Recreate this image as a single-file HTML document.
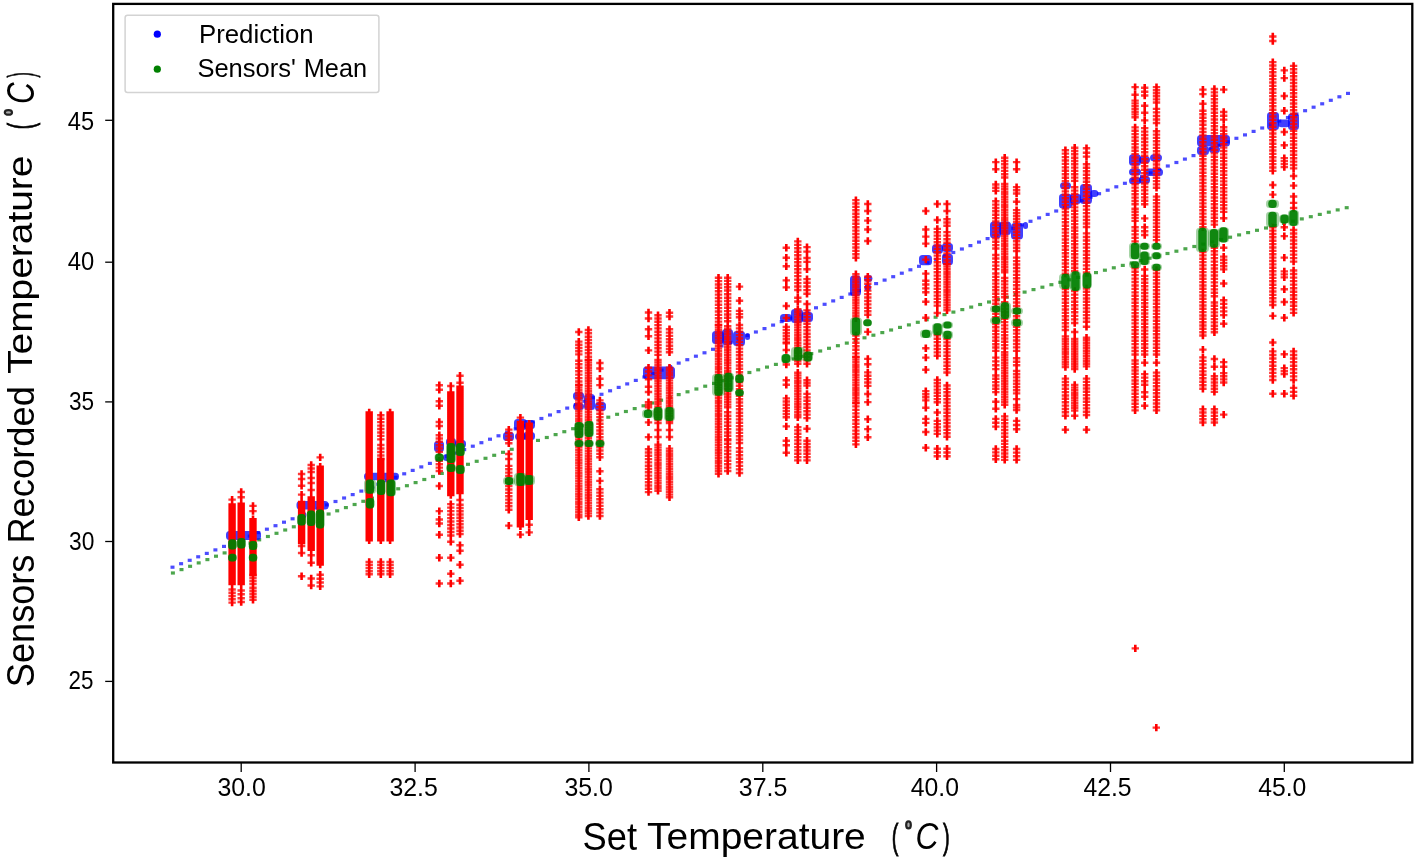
<!DOCTYPE html>
<html><head><meta charset="utf-8"><style>html,body{margin:0;padding:0;background:#fff;overflow:hidden}svg{display:block}</style></head>
<body><svg width="1416" height="861" viewBox="0 0 1416 861">
<defs><filter id="bl" x="-5%" y="-5%" width="110%" height="110%"><feGaussianBlur stdDeviation="0.7"/></filter><filter id="bt" x="-2%" y="-2%" width="104%" height="104%"><feGaussianBlur stdDeviation="0.45"/></filter></defs>
<rect width="1416" height="861" fill="#fff"/>
<g filter="url(#bl)">
<g fill="#0000ff" fill-opacity="0.7"><rect x="170.5" y="565.6" width="4.0" height="3.2"/><rect x="179.1" y="562.1" width="4.0" height="3.2"/><rect x="187.7" y="558.7" width="4.0" height="3.2"/><rect x="196.2" y="555.2" width="4.0" height="3.2"/><rect x="204.8" y="551.8" width="4.0" height="3.2"/><rect x="213.4" y="548.3" width="4.0" height="3.2"/><rect x="222.0" y="544.8" width="4.0" height="3.2"/><rect x="230.6" y="541.4" width="4.0" height="3.2"/><rect x="239.1" y="537.9" width="4.0" height="3.2"/><rect x="247.7" y="534.5" width="4.0" height="3.2"/><rect x="256.3" y="531.0" width="4.0" height="3.2"/><rect x="264.9" y="527.6" width="4.0" height="3.2"/><rect x="273.5" y="524.1" width="4.0" height="3.2"/><rect x="282.0" y="520.6" width="4.0" height="3.2"/><rect x="290.6" y="517.2" width="4.0" height="3.2"/><rect x="299.2" y="513.7" width="4.0" height="3.2"/><rect x="307.8" y="510.3" width="4.0" height="3.2"/><rect x="316.4" y="506.8" width="4.0" height="3.2"/><rect x="324.9" y="503.3" width="4.0" height="3.2"/><rect x="333.5" y="499.9" width="4.0" height="3.2"/><rect x="342.1" y="496.4" width="4.0" height="3.2"/><rect x="350.7" y="493.0" width="4.0" height="3.2"/><rect x="359.3" y="489.5" width="4.0" height="3.2"/><rect x="367.8" y="486.1" width="4.0" height="3.2"/><rect x="376.4" y="482.6" width="4.0" height="3.2"/><rect x="385.0" y="479.1" width="4.0" height="3.2"/><rect x="393.6" y="475.7" width="4.0" height="3.2"/><rect x="402.2" y="472.2" width="4.0" height="3.2"/><rect x="410.7" y="468.8" width="4.0" height="3.2"/><rect x="419.3" y="465.3" width="4.0" height="3.2"/><rect x="427.9" y="461.8" width="4.0" height="3.2"/><rect x="436.5" y="458.4" width="4.0" height="3.2"/><rect x="445.1" y="454.9" width="4.0" height="3.2"/><rect x="453.6" y="451.5" width="4.0" height="3.2"/><rect x="462.2" y="448.0" width="4.0" height="3.2"/><rect x="470.8" y="444.6" width="4.0" height="3.2"/><rect x="479.4" y="441.1" width="4.0" height="3.2"/><rect x="488.0" y="437.6" width="4.0" height="3.2"/><rect x="496.5" y="434.2" width="4.0" height="3.2"/><rect x="505.1" y="430.7" width="4.0" height="3.2"/><rect x="513.7" y="427.3" width="4.0" height="3.2"/><rect x="522.3" y="423.8" width="4.0" height="3.2"/><rect x="530.9" y="420.3" width="4.0" height="3.2"/><rect x="539.4" y="416.9" width="4.0" height="3.2"/><rect x="548.0" y="413.4" width="4.0" height="3.2"/><rect x="556.6" y="410.0" width="4.0" height="3.2"/><rect x="565.2" y="406.5" width="4.0" height="3.2"/><rect x="573.8" y="403.0" width="4.0" height="3.2"/><rect x="582.3" y="399.6" width="4.0" height="3.2"/><rect x="590.9" y="396.1" width="4.0" height="3.2"/><rect x="599.5" y="392.7" width="4.0" height="3.2"/><rect x="608.1" y="389.2" width="4.0" height="3.2"/><rect x="616.7" y="385.8" width="4.0" height="3.2"/><rect x="625.2" y="382.3" width="4.0" height="3.2"/><rect x="633.8" y="378.8" width="4.0" height="3.2"/><rect x="642.4" y="375.4" width="4.0" height="3.2"/><rect x="651.0" y="371.9" width="4.0" height="3.2"/><rect x="659.6" y="368.5" width="4.0" height="3.2"/><rect x="668.1" y="365.0" width="4.0" height="3.2"/><rect x="676.7" y="361.5" width="4.0" height="3.2"/><rect x="685.3" y="358.1" width="4.0" height="3.2"/><rect x="693.9" y="354.6" width="4.0" height="3.2"/><rect x="702.5" y="351.2" width="4.0" height="3.2"/><rect x="711.0" y="347.7" width="4.0" height="3.2"/><rect x="719.6" y="344.3" width="4.0" height="3.2"/><rect x="728.2" y="340.8" width="4.0" height="3.2"/><rect x="736.8" y="337.3" width="4.0" height="3.2"/><rect x="745.4" y="333.9" width="4.0" height="3.2"/><rect x="753.9" y="330.4" width="4.0" height="3.2"/><rect x="762.5" y="327.0" width="4.0" height="3.2"/><rect x="771.1" y="323.5" width="4.0" height="3.2"/><rect x="779.7" y="320.0" width="4.0" height="3.2"/><rect x="788.3" y="316.6" width="4.0" height="3.2"/><rect x="796.8" y="313.1" width="4.0" height="3.2"/><rect x="805.4" y="309.7" width="4.0" height="3.2"/><rect x="814.0" y="306.2" width="4.0" height="3.2"/><rect x="822.6" y="302.7" width="4.0" height="3.2"/><rect x="831.2" y="299.3" width="4.0" height="3.2"/><rect x="839.7" y="295.8" width="4.0" height="3.2"/><rect x="848.3" y="292.4" width="4.0" height="3.2"/><rect x="856.9" y="288.9" width="4.0" height="3.2"/><rect x="865.5" y="285.5" width="4.0" height="3.2"/><rect x="874.1" y="282.0" width="4.0" height="3.2"/><rect x="882.6" y="278.5" width="4.0" height="3.2"/><rect x="891.2" y="275.1" width="4.0" height="3.2"/><rect x="899.8" y="271.6" width="4.0" height="3.2"/><rect x="908.4" y="268.2" width="4.0" height="3.2"/><rect x="917.0" y="264.7" width="4.0" height="3.2"/><rect x="925.5" y="261.2" width="4.0" height="3.2"/><rect x="934.1" y="257.8" width="4.0" height="3.2"/><rect x="942.7" y="254.3" width="4.0" height="3.2"/><rect x="951.3" y="250.9" width="4.0" height="3.2"/><rect x="959.9" y="247.4" width="4.0" height="3.2"/><rect x="968.4" y="244.0" width="4.0" height="3.2"/><rect x="977.0" y="240.5" width="4.0" height="3.2"/><rect x="985.6" y="237.0" width="4.0" height="3.2"/><rect x="994.2" y="233.6" width="4.0" height="3.2"/><rect x="1002.8" y="230.1" width="4.0" height="3.2"/><rect x="1011.3" y="226.7" width="4.0" height="3.2"/><rect x="1019.9" y="223.2" width="4.0" height="3.2"/><rect x="1028.5" y="219.7" width="4.0" height="3.2"/><rect x="1037.1" y="216.3" width="4.0" height="3.2"/><rect x="1045.7" y="212.8" width="4.0" height="3.2"/><rect x="1054.2" y="209.4" width="4.0" height="3.2"/><rect x="1062.8" y="205.9" width="4.0" height="3.2"/><rect x="1071.4" y="202.5" width="4.0" height="3.2"/><rect x="1080.0" y="199.0" width="4.0" height="3.2"/><rect x="1088.6" y="195.5" width="4.0" height="3.2"/><rect x="1097.1" y="192.1" width="4.0" height="3.2"/><rect x="1105.7" y="188.6" width="4.0" height="3.2"/><rect x="1114.3" y="185.2" width="4.0" height="3.2"/><rect x="1122.9" y="181.7" width="4.0" height="3.2"/><rect x="1131.5" y="178.2" width="4.0" height="3.2"/><rect x="1140.0" y="174.8" width="4.0" height="3.2"/><rect x="1148.6" y="171.3" width="4.0" height="3.2"/><rect x="1157.2" y="167.9" width="4.0" height="3.2"/><rect x="1165.8" y="164.4" width="4.0" height="3.2"/><rect x="1174.4" y="160.9" width="4.0" height="3.2"/><rect x="1182.9" y="157.5" width="4.0" height="3.2"/><rect x="1191.5" y="154.0" width="4.0" height="3.2"/><rect x="1200.1" y="150.6" width="4.0" height="3.2"/><rect x="1208.7" y="147.1" width="4.0" height="3.2"/><rect x="1217.3" y="143.7" width="4.0" height="3.2"/><rect x="1225.8" y="140.2" width="4.0" height="3.2"/><rect x="1234.4" y="136.7" width="4.0" height="3.2"/><rect x="1243.0" y="133.3" width="4.0" height="3.2"/><rect x="1251.6" y="129.8" width="4.0" height="3.2"/><rect x="1260.2" y="126.4" width="4.0" height="3.2"/><rect x="1268.7" y="122.9" width="4.0" height="3.2"/><rect x="1277.3" y="119.4" width="4.0" height="3.2"/><rect x="1285.9" y="116.0" width="4.0" height="3.2"/><rect x="1294.5" y="112.5" width="4.0" height="3.2"/><rect x="1303.1" y="109.1" width="4.0" height="3.2"/><rect x="1311.6" y="105.6" width="4.0" height="3.2"/><rect x="1320.2" y="102.2" width="4.0" height="3.2"/><rect x="1328.8" y="98.7" width="4.0" height="3.2"/><rect x="1337.4" y="95.2" width="4.0" height="3.2"/><rect x="1346.0" y="91.8" width="4.0" height="3.2"/></g>
<g fill="#008000" fill-opacity="0.7"><rect x="170.9" y="571.4" width="4.0" height="3.2"/><rect x="179.5" y="568.0" width="4.0" height="3.2"/><rect x="188.1" y="564.7" width="4.0" height="3.2"/><rect x="196.7" y="561.3" width="4.0" height="3.2"/><rect x="205.4" y="558.0" width="4.0" height="3.2"/><rect x="214.0" y="554.6" width="4.0" height="3.2"/><rect x="222.6" y="551.3" width="4.0" height="3.2"/><rect x="231.3" y="548.0" width="4.0" height="3.2"/><rect x="239.9" y="544.7" width="4.0" height="3.2"/><rect x="248.5" y="541.4" width="4.0" height="3.2"/><rect x="257.2" y="538.2" width="4.0" height="3.2"/><rect x="265.9" y="534.9" width="4.0" height="3.2"/><rect x="274.5" y="531.7" width="4.0" height="3.2"/><rect x="283.2" y="528.4" width="4.0" height="3.2"/><rect x="291.8" y="525.2" width="4.0" height="3.2"/><rect x="300.5" y="522.0" width="4.0" height="3.2"/><rect x="309.2" y="518.7" width="4.0" height="3.2"/><rect x="317.9" y="515.5" width="4.0" height="3.2"/><rect x="326.6" y="512.4" width="4.0" height="3.2"/><rect x="335.2" y="509.2" width="4.0" height="3.2"/><rect x="343.9" y="506.0" width="4.0" height="3.2"/><rect x="352.6" y="502.9" width="4.0" height="3.2"/><rect x="361.3" y="499.7" width="4.0" height="3.2"/><rect x="370.0" y="496.6" width="4.0" height="3.2"/><rect x="378.7" y="493.4" width="4.0" height="3.2"/><rect x="387.4" y="490.3" width="4.0" height="3.2"/><rect x="396.2" y="487.2" width="4.0" height="3.2"/><rect x="404.9" y="484.1" width="4.0" height="3.2"/><rect x="413.6" y="481.0" width="4.0" height="3.2"/><rect x="422.3" y="477.9" width="4.0" height="3.2"/><rect x="431.0" y="474.9" width="4.0" height="3.2"/><rect x="439.8" y="471.8" width="4.0" height="3.2"/><rect x="448.5" y="468.8" width="4.0" height="3.2"/><rect x="457.2" y="465.7" width="4.0" height="3.2"/><rect x="466.0" y="462.7" width="4.0" height="3.2"/><rect x="474.7" y="459.7" width="4.0" height="3.2"/><rect x="483.5" y="456.7" width="4.0" height="3.2"/><rect x="492.2" y="453.7" width="4.0" height="3.2"/><rect x="501.0" y="450.7" width="4.0" height="3.2"/><rect x="509.7" y="447.7" width="4.0" height="3.2"/><rect x="518.5" y="444.8" width="4.0" height="3.2"/><rect x="527.3" y="441.8" width="4.0" height="3.2"/><rect x="536.0" y="438.8" width="4.0" height="3.2"/><rect x="544.8" y="435.9" width="4.0" height="3.2"/><rect x="553.6" y="433.0" width="4.0" height="3.2"/><rect x="562.3" y="430.1" width="4.0" height="3.2"/><rect x="571.1" y="427.1" width="4.0" height="3.2"/><rect x="579.9" y="424.2" width="4.0" height="3.2"/><rect x="588.7" y="421.4" width="4.0" height="3.2"/><rect x="597.5" y="418.5" width="4.0" height="3.2"/><rect x="606.3" y="415.6" width="4.0" height="3.2"/><rect x="615.1" y="412.7" width="4.0" height="3.2"/><rect x="623.9" y="409.9" width="4.0" height="3.2"/><rect x="632.7" y="407.0" width="4.0" height="3.2"/><rect x="641.5" y="404.2" width="4.0" height="3.2"/><rect x="650.3" y="401.4" width="4.0" height="3.2"/><rect x="659.1" y="398.6" width="4.0" height="3.2"/><rect x="667.9" y="395.8" width="4.0" height="3.2"/><rect x="676.7" y="393.0" width="4.0" height="3.2"/><rect x="685.5" y="390.2" width="4.0" height="3.2"/><rect x="694.4" y="387.4" width="4.0" height="3.2"/><rect x="703.2" y="384.6" width="4.0" height="3.2"/><rect x="712.0" y="381.8" width="4.0" height="3.2"/><rect x="720.8" y="379.1" width="4.0" height="3.2"/><rect x="729.7" y="376.3" width="4.0" height="3.2"/><rect x="738.5" y="373.6" width="4.0" height="3.2"/><rect x="747.4" y="370.9" width="4.0" height="3.2"/><rect x="756.2" y="368.2" width="4.0" height="3.2"/><rect x="765.0" y="365.5" width="4.0" height="3.2"/><rect x="773.9" y="362.8" width="4.0" height="3.2"/><rect x="782.7" y="360.1" width="4.0" height="3.2"/><rect x="791.6" y="357.4" width="4.0" height="3.2"/><rect x="800.4" y="354.7" width="4.0" height="3.2"/><rect x="809.3" y="352.0" width="4.0" height="3.2"/><rect x="818.2" y="349.4" width="4.0" height="3.2"/><rect x="827.0" y="346.7" width="4.0" height="3.2"/><rect x="835.9" y="344.1" width="4.0" height="3.2"/><rect x="844.8" y="341.5" width="4.0" height="3.2"/><rect x="853.6" y="338.8" width="4.0" height="3.2"/><rect x="862.5" y="336.2" width="4.0" height="3.2"/><rect x="871.4" y="333.6" width="4.0" height="3.2"/><rect x="880.3" y="331.0" width="4.0" height="3.2"/><rect x="889.1" y="328.4" width="4.0" height="3.2"/><rect x="898.0" y="325.8" width="4.0" height="3.2"/><rect x="906.9" y="323.3" width="4.0" height="3.2"/><rect x="915.8" y="320.7" width="4.0" height="3.2"/><rect x="924.7" y="318.1" width="4.0" height="3.2"/><rect x="933.6" y="315.6" width="4.0" height="3.2"/><rect x="942.5" y="313.0" width="4.0" height="3.2"/><rect x="951.4" y="310.5" width="4.0" height="3.2"/><rect x="960.3" y="308.0" width="4.0" height="3.2"/><rect x="969.2" y="305.5" width="4.0" height="3.2"/><rect x="978.1" y="302.9" width="4.0" height="3.2"/><rect x="987.0" y="300.4" width="4.0" height="3.2"/><rect x="995.9" y="297.9" width="4.0" height="3.2"/><rect x="1004.8" y="295.5" width="4.0" height="3.2"/><rect x="1013.7" y="293.0" width="4.0" height="3.2"/><rect x="1022.6" y="290.5" width="4.0" height="3.2"/><rect x="1031.5" y="288.0" width="4.0" height="3.2"/><rect x="1040.4" y="285.6" width="4.0" height="3.2"/><rect x="1049.4" y="283.1" width="4.0" height="3.2"/><rect x="1058.3" y="280.7" width="4.0" height="3.2"/><rect x="1067.2" y="278.2" width="4.0" height="3.2"/><rect x="1076.1" y="275.8" width="4.0" height="3.2"/><rect x="1085.0" y="273.4" width="4.0" height="3.2"/><rect x="1094.0" y="271.0" width="4.0" height="3.2"/><rect x="1102.9" y="268.6" width="4.0" height="3.2"/><rect x="1111.8" y="266.2" width="4.0" height="3.2"/><rect x="1120.8" y="263.8" width="4.0" height="3.2"/><rect x="1129.7" y="261.4" width="4.0" height="3.2"/><rect x="1138.7" y="259.0" width="4.0" height="3.2"/><rect x="1147.6" y="256.6" width="4.0" height="3.2"/><rect x="1156.5" y="254.3" width="4.0" height="3.2"/><rect x="1165.5" y="251.9" width="4.0" height="3.2"/><rect x="1174.4" y="249.6" width="4.0" height="3.2"/><rect x="1183.4" y="247.2" width="4.0" height="3.2"/><rect x="1192.3" y="244.9" width="4.0" height="3.2"/><rect x="1201.3" y="242.5" width="4.0" height="3.2"/><rect x="1210.2" y="240.2" width="4.0" height="3.2"/><rect x="1219.2" y="237.9" width="4.0" height="3.2"/><rect x="1228.1" y="235.6" width="4.0" height="3.2"/><rect x="1237.1" y="233.3" width="4.0" height="3.2"/><rect x="1246.1" y="231.0" width="4.0" height="3.2"/><rect x="1255.0" y="228.7" width="4.0" height="3.2"/><rect x="1264.0" y="226.4" width="4.0" height="3.2"/><rect x="1272.9" y="224.1" width="4.0" height="3.2"/><rect x="1281.9" y="221.8" width="4.0" height="3.2"/><rect x="1290.9" y="219.6" width="4.0" height="3.2"/><rect x="1299.8" y="217.3" width="4.0" height="3.2"/><rect x="1308.8" y="215.1" width="4.0" height="3.2"/><rect x="1317.8" y="212.8" width="4.0" height="3.2"/><rect x="1326.8" y="210.6" width="4.0" height="3.2"/><rect x="1335.7" y="208.3" width="4.0" height="3.2"/><rect x="1344.7" y="206.1" width="4.0" height="3.2"/></g>
<g fill="#0000ff"><g fill-opacity="0.35"></g><g fill-opacity="0.75"><rect x="226.0" y="531.0" width="35.0" height="9.0" rx="3.5" fill-opacity="0.75"/><rect x="296.5" y="501.0" width="32.1" height="8.5" rx="3.5" fill-opacity="0.75"/><rect x="298.0" y="511.5" width="8.4" height="7.0" rx="3.5"/><rect x="364.0" y="472.8" width="35.0" height="7.4" rx="3.5" fill-opacity="0.75"/><rect x="366.0" y="484.0" width="8.4" height="7.0" rx="3.5"/><rect x="434.0" y="441.0" width="10.0" height="11.0" rx="3.5"/><rect x="446.0" y="438.0" width="10.0" height="8.0" rx="3.5"/><rect x="455.0" y="440.0" width="11.0" height="8.0" rx="3.5"/><rect x="443.0" y="454.0" width="8.4" height="7.0" rx="3.5"/><rect x="503.0" y="432.0" width="11.0" height="9.0" rx="3.5"/><rect x="514.0" y="419.0" width="13.0" height="11.0" rx="3.5"/><rect x="515.0" y="433.0" width="11.0" height="7.0" rx="3.5"/><rect x="523.0" y="420.0" width="12.0" height="9.0" rx="3.5"/><rect x="523.0" y="432.0" width="12.0" height="8.0" rx="3.5"/><rect x="573.0" y="392.0" width="11.0" height="8.0" rx="3.5"/><rect x="573.0" y="403.0" width="11.0" height="7.0" rx="3.5"/><rect x="584.0" y="394.0" width="11.0" height="16.0" rx="3.5"/><rect x="595.0" y="402.0" width="11.0" height="9.0" rx="3.5"/><rect x="643.0" y="366.4" width="32.0" height="12.8" rx="3.5" fill-opacity="0.75"/><rect x="712.0" y="331.0" width="12.0" height="13.0" rx="3.5"/><rect x="722.0" y="329.0" width="11.0" height="16.0" rx="3.5"/><rect x="733.0" y="331.0" width="12.0" height="15.0" rx="3.5"/><rect x="745.0" y="333.0" width="5.0" height="7.0" rx="2.5"/><rect x="780.0" y="314.0" width="12.0" height="8.0" rx="3.5"/><rect x="791.0" y="309.0" width="12.0" height="14.0" rx="3.5"/><rect x="801.0" y="312.0" width="12.0" height="10.0" rx="3.5"/><rect x="850.0" y="275.6" width="11.0" height="20.4" rx="3.5"/><rect x="864.0" y="275.0" width="8.4" height="7.0" rx="3.5"/><rect x="864.5" y="284.0" width="6.5" height="7.0" rx="3.2"/><rect x="919.0" y="255.1" width="13.0" height="10.2" rx="3.5"/><rect x="932.0" y="244.2" width="11.0" height="9.6" rx="3.5"/><rect x="942.0" y="243.0" width="11.0" height="8.9" rx="3.5"/><rect x="942.0" y="253.8" width="11.0" height="11.5" rx="3.5"/><rect x="990.0" y="221.6" width="11.0" height="16.6" rx="3.5"/><rect x="999.0" y="221.6" width="12.0" height="13.4" rx="3.5"/><rect x="1011.0" y="222.9" width="12.0" height="16.6" rx="3.5"/><rect x="1023.0" y="222.0" width="5.0" height="7.0" rx="2.5"/><rect x="1060.0" y="182.2" width="11.0" height="7.0" rx="3.5"/><rect x="1059.0" y="193.7" width="13.0" height="14.7" rx="3.5"/><rect x="1070.0" y="193.7" width="11.0" height="10.2" rx="3.5"/><rect x="1080.0" y="184.1" width="12.0" height="19.8" rx="3.5"/><rect x="1090.0" y="190.0" width="8.4" height="7.0" rx="3.5"/><rect x="1129.0" y="154.3" width="12.0" height="11.5" rx="3.5"/><rect x="1129.0" y="168.4" width="12.0" height="7.0" rx="3.5"/><rect x="1129.0" y="177.3" width="12.0" height="7.0" rx="3.5"/><rect x="1139.0" y="156.2" width="11.0" height="7.0" rx="3.5"/><rect x="1139.0" y="176.0" width="11.0" height="7.7" rx="3.5"/><rect x="1150.0" y="154.3" width="12.0" height="7.0" rx="3.5"/><rect x="1145.0" y="168.4" width="18.0" height="7.6" rx="3.5" fill-opacity="0.75"/><rect x="1197.0" y="135.0" width="33.0" height="11.5" rx="3.5" fill-opacity="0.75"/><rect x="1197.0" y="146.0" width="12.0" height="9.0" rx="3.5"/><rect x="1209.0" y="146.0" width="11.0" height="7.0" rx="3.5"/><rect x="1267.0" y="112.0" width="12.0" height="17.9" rx="3.5"/><rect x="1278.0" y="119.6" width="12.0" height="7.7" rx="3.5"/><rect x="1288.0" y="113.2" width="11.0" height="16.7" rx="3.5"/></g></g>
<path d="M228.4 499.6h7.4M228.4 596.0h7.4M237.5 492.0h7.4M237.5 594.3h7.4M249.3 505.9h7.4M249.3 578.0h7.4M249.3 587.7h7.4M249.3 596.8h7.4M297.9 479.0h7.4M297.9 546.0h7.4M307.5 465.0h7.4M307.5 478.0h7.4M307.5 555.3h7.4M307.5 585.5h7.4M316.5 578.7h7.4M365.5 562.0h7.4M365.5 571.2h7.4M377.1 418.7h7.4M377.1 429.0h7.4M377.1 439.4h7.4M377.1 452.0h7.4M377.1 562.0h7.4M377.1 571.2h7.4M386.4 565.0h7.4M386.4 574.2h7.4M435.6 401.3h7.4M435.6 426.0h7.4M435.6 441.8h7.4M435.6 451.8h7.4M435.6 467.6h7.4M435.6 511.1h7.4M435.6 534.8h7.4M447.1 386.0h7.4M447.1 511.1h7.4M447.1 521.5h7.4M447.1 532.0h7.4M447.1 557.7h7.4M456.3 375.8h7.4M456.3 504.8h7.4M456.3 514.5h7.4M456.3 524.3h7.4M456.3 534.0h7.4M456.3 564.7h7.4M505.1 433.0h7.4M505.1 443.2h7.4M505.1 465.9h7.4M505.1 476.0h7.4M505.1 486.1h7.4M505.1 496.2h7.4M505.1 506.3h7.4M516.7 417.6h7.4M525.5 532.4h7.4M575.1 344.8h7.4M575.1 354.4h7.4M575.1 367.7h7.4M575.1 378.1h7.4M575.1 385.0h7.4M575.1 392.8h7.4M575.1 400.6h7.4M575.1 408.3h7.4M575.1 416.1h7.4M575.1 423.9h7.4M575.1 431.7h7.4M575.1 439.5h7.4M575.1 447.3h7.4M575.1 455.0h7.4M575.1 462.8h7.4M575.1 470.6h7.4M575.1 478.4h7.4M575.1 486.2h7.4M575.1 494.0h7.4M575.1 501.7h7.4M575.1 509.5h7.4M575.1 517.3h7.4M584.7 336.7h7.4M584.7 346.7h7.4M584.7 356.7h7.4M584.7 362.6h7.4M584.7 370.4h7.4M584.7 378.2h7.4M584.7 386.0h7.4M584.7 393.8h7.4M584.7 401.6h7.4M584.7 409.4h7.4M584.7 417.2h7.4M584.7 425.0h7.4M584.7 432.8h7.4M584.7 440.6h7.4M584.7 448.4h7.4M584.7 456.2h7.4M584.7 464.0h7.4M584.7 471.8h7.4M584.7 479.6h7.4M584.7 487.4h7.4M584.7 495.2h7.4M584.7 503.0h7.4M584.7 510.8h7.4M596.2 363.0h7.4M596.2 385.1h7.4M596.2 407.1h7.4M596.2 417.1h7.4M596.2 427.1h7.4M596.2 437.2h7.4M596.2 447.2h7.4M596.2 457.2h7.4M596.2 489.2h7.4M596.2 499.2h7.4M596.2 509.3h7.4M644.8 312.5h7.4M644.8 336.3h7.4M644.8 371.5h7.4M644.8 386.8h7.4M644.8 404.8h7.4M644.8 437.1h7.4M644.8 455.8h7.4M644.8 465.7h7.4M644.8 475.6h7.4M644.8 485.5h7.4M654.3 315.2h7.4M654.3 325.1h7.4M654.3 335.0h7.4M654.3 345.0h7.4M654.3 354.9h7.4M654.3 365.1h7.4M654.3 373.0h7.4M654.3 380.8h7.4M654.3 388.6h7.4M654.3 396.5h7.4M654.3 404.3h7.4M654.3 412.2h7.4M654.3 420.0h7.4M654.3 437.0h7.4M654.3 449.9h7.4M654.3 457.6h7.4M654.3 465.2h7.4M654.3 472.9h7.4M654.3 480.6h7.4M654.3 488.2h7.4M665.8 316.5h7.4M665.8 335.9h7.4M665.8 345.7h7.4M665.8 367.7h7.4M665.8 375.3h7.4M665.8 382.9h7.4M665.8 390.5h7.4M665.8 398.2h7.4M665.8 405.8h7.4M665.8 413.4h7.4M665.8 421.0h7.4M665.8 437.0h7.4M665.8 453.7h7.4M665.8 461.4h7.4M665.8 469.1h7.4M665.8 476.7h7.4M665.8 484.4h7.4M665.8 492.1h7.4M714.8 277.7h7.4M714.8 287.8h7.4M714.8 298.0h7.4M714.8 308.1h7.4M714.8 318.2h7.4M714.8 325.0h7.4M714.8 332.8h7.4M714.8 340.7h7.4M714.8 348.5h7.4M714.8 356.3h7.4M714.8 364.1h7.4M714.8 372.0h7.4M714.8 379.8h7.4M714.8 387.6h7.4M714.8 395.4h7.4M714.8 403.3h7.4M714.8 411.1h7.4M714.8 418.9h7.4M714.8 426.7h7.4M714.8 434.6h7.4M714.8 442.4h7.4M714.8 450.2h7.4M714.8 458.0h7.4M714.8 465.9h7.4M714.8 473.7h7.4M724.0 284.1h7.4M724.0 294.3h7.4M724.0 304.4h7.4M724.0 314.5h7.4M724.0 326.3h7.4M724.0 334.1h7.4M724.0 342.0h7.4M724.0 349.8h7.4M724.0 357.6h7.4M724.0 365.4h7.4M724.0 373.3h7.4M724.0 381.1h7.4M724.0 388.9h7.4M724.0 396.8h7.4M724.0 404.6h7.4M724.0 415.7h7.4M724.0 425.8h7.4M724.0 435.8h7.4M724.0 443.8h7.4M724.0 454.0h7.4M724.0 464.2h7.4M735.8 286.6h7.4M735.8 314.1h7.4M735.8 328.4h7.4M735.8 338.5h7.4M735.8 348.6h7.4M735.8 358.7h7.4M735.8 368.8h7.4M735.8 378.9h7.4M735.8 389.1h7.4M735.8 399.2h7.4M735.8 409.3h7.4M735.8 419.4h7.4M735.8 429.5h7.4M735.8 439.6h7.4M735.8 451.7h7.4M735.8 462.3h7.4M735.8 473.0h7.4M782.6 266.3h7.4M782.6 306.0h7.4M782.6 330.1h7.4M782.6 339.3h7.4M782.6 350.0h7.4M782.6 384.8h7.4M782.6 404.7h7.4M782.6 414.1h7.4M782.6 440.7h7.4M794.1 241.4h7.4M794.1 251.8h7.4M794.1 262.2h7.4M794.1 272.6h7.4M794.1 283.1h7.4M794.1 297.7h7.4M794.1 311.8h7.4M794.1 319.6h7.4M794.1 327.4h7.4M794.1 335.2h7.4M794.1 342.9h7.4M794.1 350.7h7.4M794.1 358.5h7.4M794.1 372.8h7.4M794.1 380.7h7.4M794.1 388.5h7.4M794.1 396.4h7.4M794.1 404.2h7.4M794.1 412.1h7.4M794.1 427.1h7.4M794.1 437.1h7.4M794.1 447.1h7.4M794.1 457.1h7.4M803.3 251.6h7.4M803.3 269.3h7.4M803.3 286.5h7.4M803.3 304.0h7.4M803.3 317.1h7.4M803.3 327.1h7.4M803.3 337.0h7.4M803.3 347.0h7.4M803.3 357.0h7.4M803.3 380.3h7.4M803.3 393.9h7.4M803.3 404.3h7.4M803.3 414.6h7.4M803.3 440.7h7.4M803.3 450.5h7.4M803.3 460.4h7.4M852.2 206.9h7.4M852.2 217.0h7.4M852.2 227.2h7.4M852.2 237.4h7.4M852.2 247.5h7.4M852.2 257.7h7.4M852.2 279.5h7.4M852.2 287.3h7.4M852.2 295.1h7.4M852.2 302.8h7.4M852.2 310.6h7.4M852.2 318.4h7.4M852.2 342.7h7.4M852.2 353.4h7.4M852.2 359.6h7.4M852.2 367.2h7.4M852.2 374.9h7.4M852.2 382.6h7.4M852.2 390.2h7.4M852.2 397.9h7.4M852.2 403.0h7.4M852.2 413.4h7.4M852.2 423.7h7.4M852.2 434.0h7.4M852.2 444.4h7.4M864.1 220.6h7.4M864.1 276.8h7.4M864.1 287.2h7.4M864.1 297.5h7.4M864.1 307.9h7.4M864.1 331.9h7.4M864.1 372.4h7.4M864.1 382.5h7.4M864.1 402.1h7.4M864.1 437.2h7.4M922.1 236.6h7.4M922.1 273.6h7.4M922.1 288.4h7.4M922.1 317.7h7.4M922.1 369.7h7.4M922.1 397.3h7.4M922.1 418.9h7.4M922.1 447.8h7.4M933.6 228.9h7.4M933.6 238.9h7.4M933.6 248.9h7.4M933.6 258.9h7.4M933.6 268.9h7.4M933.6 278.9h7.4M933.6 288.9h7.4M933.6 298.9h7.4M933.6 313.0h7.4M933.6 342.1h7.4M933.6 352.4h7.4M933.6 383.2h7.4M933.6 392.7h7.4M933.6 402.3h7.4M933.6 424.1h7.4M933.6 433.9h7.4M933.6 456.2h7.4M943.3 219.3h7.4M943.3 232.1h7.4M943.3 242.7h7.4M943.3 253.4h7.4M943.3 264.0h7.4M943.3 269.1h7.4M943.3 276.8h7.4M943.3 284.5h7.4M943.3 292.2h7.4M943.3 299.9h7.4M943.3 307.6h7.4M943.3 342.4h7.4M943.3 352.4h7.4M943.3 362.4h7.4M943.3 372.5h7.4M943.3 392.3h7.4M943.3 402.6h7.4M943.3 412.8h7.4M943.3 423.0h7.4M943.3 433.3h7.4M943.3 452.5h7.4M992.1 169.2h7.4M992.1 190.9h7.4M992.1 208.0h7.4M992.1 218.1h7.4M992.1 228.2h7.4M992.1 238.4h7.4M992.1 248.5h7.4M992.1 262.1h7.4M992.1 273.5h7.4M992.1 283.6h7.4M992.1 293.7h7.4M992.1 303.8h7.4M992.1 313.9h7.4M992.1 324.0h7.4M992.1 334.1h7.4M992.1 344.2h7.4M992.1 357.6h7.4M992.1 369.1h7.4M992.1 382.1h7.4M992.1 392.1h7.4M992.1 418.9h7.4M992.1 449.0h7.4M992.1 459.2h7.4M1001.0 164.3h7.4M1001.0 174.2h7.4M1001.0 186.5h7.4M1001.0 194.3h7.4M1001.0 202.1h7.4M1001.0 209.9h7.4M1001.0 217.7h7.4M1001.0 225.5h7.4M1001.0 233.3h7.4M1001.0 241.1h7.4M1001.0 248.9h7.4M1001.0 256.7h7.4M1001.0 264.5h7.4M1001.0 272.3h7.4M1001.0 284.4h7.4M1001.0 294.0h7.4M1001.0 305.6h7.4M1001.0 315.5h7.4M1001.0 325.4h7.4M1001.0 335.2h7.4M1001.0 345.1h7.4M1001.0 354.8h7.4M1001.0 362.7h7.4M1001.0 370.6h7.4M1001.0 378.5h7.4M1001.0 386.5h7.4M1001.0 394.4h7.4M1001.0 402.3h7.4M1001.0 419.8h7.4M1001.0 430.0h7.4M1001.0 440.7h7.4M1001.0 450.3h7.4M1001.0 459.9h7.4M1012.9 187.1h7.4M1012.9 201.8h7.4M1012.9 216.0h7.4M1012.9 225.2h7.4M1012.9 234.9h7.4M1012.9 244.6h7.4M1012.9 257.6h7.4M1012.9 268.0h7.4M1012.9 278.3h7.4M1012.9 288.7h7.4M1012.9 299.1h7.4M1012.9 309.4h7.4M1012.9 319.8h7.4M1012.9 330.2h7.4M1012.9 340.5h7.4M1012.9 350.9h7.4M1012.9 365.2h7.4M1012.9 377.4h7.4M1012.9 387.0h7.4M1012.9 399.1h7.4M1012.9 410.0h7.4M1012.9 429.2h7.4M1012.9 456.3h7.4M1061.7 153.6h7.4M1061.7 163.9h7.4M1061.7 174.2h7.4M1061.7 184.5h7.4M1061.7 194.8h7.4M1061.7 205.1h7.4M1061.7 215.4h7.4M1061.7 225.7h7.4M1061.7 236.0h7.4M1061.7 246.3h7.4M1061.7 256.6h7.4M1061.7 266.9h7.4M1061.7 289.0h7.4M1061.7 299.2h7.4M1061.7 309.5h7.4M1061.7 319.8h7.4M1061.7 330.0h7.4M1061.7 341.5h7.4M1061.7 349.2h7.4M1061.7 356.9h7.4M1061.7 364.5h7.4M1061.7 382.0h7.4M1061.7 392.1h7.4M1061.7 402.2h7.4M1061.7 412.3h7.4M1071.0 147.7h7.4M1071.0 157.7h7.4M1071.0 167.6h7.4M1071.0 177.6h7.4M1071.0 190.6h7.4M1071.0 200.7h7.4M1071.0 210.7h7.4M1071.0 220.8h7.4M1071.0 230.8h7.4M1071.0 240.9h7.4M1071.0 250.9h7.4M1071.0 261.0h7.4M1071.0 271.0h7.4M1071.0 298.1h7.4M1071.0 308.8h7.4M1071.0 319.4h7.4M1071.0 339.0h7.4M1071.0 346.5h7.4M1071.0 354.0h7.4M1071.0 361.5h7.4M1071.0 369.0h7.4M1071.0 390.1h7.4M1071.0 397.8h7.4M1071.0 405.5h7.4M1071.0 415.7h7.4M1082.8 156.6h7.4M1082.8 171.3h7.4M1082.8 181.7h7.4M1082.8 192.2h7.4M1082.8 202.6h7.4M1082.8 213.1h7.4M1082.8 223.5h7.4M1082.8 237.0h7.4M1082.8 247.6h7.4M1082.8 258.3h7.4M1082.8 268.9h7.4M1082.8 291.8h7.4M1082.8 301.8h7.4M1082.8 311.7h7.4M1082.8 321.7h7.4M1082.8 340.3h7.4M1082.8 348.1h7.4M1082.8 356.0h7.4M1082.8 363.8h7.4M1082.8 381.9h7.4M1082.8 391.8h7.4M1082.8 401.8h7.4M1082.8 411.7h7.4M1131.4 87.1h7.4M1131.4 103.4h7.4M1131.4 111.7h7.4M1131.4 127.4h7.4M1131.4 137.4h7.4M1131.4 147.5h7.4M1131.4 157.5h7.4M1131.4 167.5h7.4M1131.4 177.6h7.4M1131.4 187.6h7.4M1131.4 197.6h7.4M1131.4 208.8h7.4M1131.4 217.9h7.4M1131.4 230.8h7.4M1131.4 241.4h7.4M1131.4 275.1h7.4M1131.4 285.5h7.4M1131.4 295.8h7.4M1131.4 306.2h7.4M1131.4 316.5h7.4M1131.4 326.9h7.4M1131.4 337.2h7.4M1131.4 347.6h7.4M1131.4 360.5h7.4M1131.4 370.5h7.4M1131.4 380.5h7.4M1131.4 390.4h7.4M1131.4 400.4h7.4M1131.4 410.4h7.4M1141.0 95.5h7.4M1141.0 120.4h7.4M1141.0 135.0h7.4M1141.0 145.4h7.4M1141.0 155.8h7.4M1141.0 166.2h7.4M1141.0 176.6h7.4M1141.0 187.0h7.4M1141.0 197.4h7.4M1141.0 218.4h7.4M1141.0 235.0h7.4M1141.0 279.3h7.4M1141.0 289.6h7.4M1141.0 299.8h7.4M1141.0 310.1h7.4M1141.0 320.3h7.4M1141.0 330.6h7.4M1141.0 340.8h7.4M1141.0 351.1h7.4M1141.0 374.1h7.4M1141.0 384.7h7.4M1141.0 405.8h7.4M1152.8 93.3h7.4M1152.8 102.5h7.4M1152.8 116.0h7.4M1152.8 131.3h7.4M1152.8 141.3h7.4M1152.8 151.2h7.4M1152.8 161.2h7.4M1152.8 171.1h7.4M1152.8 181.1h7.4M1152.8 196.6h7.4M1152.8 206.6h7.4M1152.8 216.7h7.4M1152.8 226.7h7.4M1152.8 236.8h7.4M1152.8 273.4h7.4M1152.8 283.5h7.4M1152.8 293.7h7.4M1152.8 303.8h7.4M1152.8 313.9h7.4M1152.8 324.1h7.4M1152.8 334.2h7.4M1152.8 344.4h7.4M1152.8 354.5h7.4M1152.8 376.0h7.4M1152.8 386.3h7.4M1152.8 396.7h7.4M1152.8 407.0h7.4M1152.6 727.6h7.4M1199.2 103.7h7.4M1199.2 117.8h7.4M1199.2 128.6h7.4M1199.2 138.8h7.4M1199.2 149.0h7.4M1199.2 159.2h7.4M1199.2 169.4h7.4M1199.2 179.6h7.4M1199.2 189.8h7.4M1199.2 200.0h7.4M1199.2 210.2h7.4M1199.2 220.4h7.4M1199.2 252.1h7.4M1199.2 262.1h7.4M1199.2 272.1h7.4M1199.2 282.1h7.4M1199.2 292.1h7.4M1199.2 302.1h7.4M1199.2 312.1h7.4M1199.2 322.2h7.4M1199.2 332.2h7.4M1199.2 357.4h7.4M1199.2 367.9h7.4M1199.2 378.3h7.4M1199.2 388.8h7.4M1199.2 415.9h7.4M1210.7 89.0h7.4M1210.7 99.2h7.4M1210.7 109.3h7.4M1210.7 119.5h7.4M1210.7 129.7h7.4M1210.7 139.8h7.4M1210.7 150.0h7.4M1210.7 160.2h7.4M1210.7 170.4h7.4M1210.7 180.5h7.4M1210.7 190.7h7.4M1210.7 200.9h7.4M1210.7 211.0h7.4M1210.7 221.2h7.4M1210.7 251.2h7.4M1210.7 261.6h7.4M1210.7 272.0h7.4M1210.7 282.4h7.4M1210.7 292.8h7.4M1210.7 305.8h7.4M1210.7 315.7h7.4M1210.7 325.7h7.4M1210.7 359.0h7.4M1210.7 379.3h7.4M1210.7 388.8h7.4M1210.7 412.5h7.4M1210.7 422.5h7.4M1220.0 115.8h7.4M1220.0 130.7h7.4M1220.0 140.8h7.4M1220.0 151.0h7.4M1220.0 161.1h7.4M1220.0 171.3h7.4M1220.0 181.4h7.4M1220.0 191.6h7.4M1220.0 201.7h7.4M1220.0 211.9h7.4M1220.0 256.6h7.4M1220.0 266.2h7.4M1220.0 300.2h7.4M1220.0 311.4h7.4M1220.0 362.1h7.4M1220.0 376.2h7.4M1220.0 414.6h7.4M1269.1 62.1h7.4M1269.1 72.3h7.4M1269.1 82.5h7.4M1269.1 92.7h7.4M1269.1 102.9h7.4M1269.1 113.1h7.4M1269.1 123.3h7.4M1269.1 133.5h7.4M1269.1 143.7h7.4M1269.1 153.9h7.4M1269.1 164.1h7.4M1269.1 185.0h7.4M1269.1 230.6h7.4M1269.1 240.7h7.4M1269.1 250.9h7.4M1269.1 261.0h7.4M1269.1 271.2h7.4M1269.1 281.3h7.4M1269.1 291.5h7.4M1269.1 301.6h7.4M1269.1 342.5h7.4M1269.1 358.5h7.4M1269.1 369.3h7.4M1269.1 380.0h7.4M1280.6 78.1h7.4M1280.6 132.0h7.4M1280.6 161.1h7.4M1280.6 227.2h7.4M1280.6 271.4h7.4M1280.6 289.2h7.4M1280.6 354.3h7.4M1280.6 374.0h7.4M1289.9 69.3h7.4M1289.9 79.6h7.4M1289.9 89.8h7.4M1289.9 100.1h7.4M1289.9 110.3h7.4M1289.9 120.6h7.4M1289.9 130.8h7.4M1289.9 141.1h7.4M1289.9 151.3h7.4M1289.9 161.6h7.4M1289.9 176.0h7.4M1289.9 202.9h7.4M1289.9 233.5h7.4M1289.9 244.0h7.4M1289.9 254.6h7.4M1289.9 270.5h7.4M1289.9 281.1h7.4M1289.9 291.7h7.4M1289.9 302.3h7.4M1289.9 312.9h7.4M1289.9 358.5h7.4M1289.9 369.3h7.4M1289.9 380.0h7.4M1289.9 395.8h7.4" stroke="#ff0000" stroke-opacity="0.78" stroke-width="2.4" fill="none"/><path d="M228.4 589.5h7.4M228.4 599.3h7.4M237.5 497.2h7.4M237.5 598.2h7.4M249.3 511.1h7.4M249.3 581.0h7.4M249.3 590.7h7.4M249.3 599.8h7.4M297.9 485.8h7.4M297.9 553.0h7.4M307.5 468.5h7.4M307.5 483.0h7.4M307.5 562.8h7.4M316.5 457.4h7.4M316.5 582.5h7.4M365.5 565.0h7.4M365.5 574.2h7.4M377.1 422.1h7.4M377.1 432.5h7.4M377.1 445.0h7.4M377.1 455.5h7.4M377.1 565.0h7.4M377.1 574.2h7.4M386.4 568.1h7.4M435.6 385.3h7.4M435.6 405.8h7.4M435.6 435.2h7.4M435.6 445.2h7.4M435.6 460.8h7.4M435.6 471.0h7.4M435.6 519.5h7.4M435.6 557.7h7.4M447.1 504.1h7.4M447.1 514.6h7.4M447.1 525.0h7.4M447.1 535.5h7.4M447.1 573.8h7.4M456.3 382.8h7.4M456.3 508.0h7.4M456.3 517.8h7.4M456.3 527.5h7.4M456.3 545.2h7.4M456.3 580.7h7.4M505.1 436.4h7.4M505.1 454.0h7.4M505.1 469.3h7.4M505.1 479.4h7.4M505.1 489.5h7.4M505.1 499.6h7.4M505.1 509.7h7.4M516.7 534.6h7.4M575.1 332.0h7.4M575.1 348.0h7.4M575.1 360.8h7.4M575.1 371.2h7.4M575.1 381.5h7.4M575.1 387.6h7.4M575.1 395.4h7.4M575.1 403.2h7.4M575.1 410.9h7.4M575.1 418.7h7.4M575.1 426.5h7.4M575.1 434.3h7.4M575.1 442.1h7.4M575.1 449.9h7.4M575.1 457.6h7.4M575.1 465.4h7.4M575.1 473.2h7.4M575.1 481.0h7.4M575.1 488.8h7.4M575.1 496.5h7.4M575.1 504.3h7.4M575.1 512.1h7.4M584.7 330.0h7.4M584.7 340.0h7.4M584.7 350.0h7.4M584.7 360.0h7.4M584.7 365.2h7.4M584.7 373.0h7.4M584.7 380.8h7.4M584.7 388.6h7.4M584.7 396.4h7.4M584.7 404.2h7.4M584.7 412.0h7.4M584.7 419.8h7.4M584.7 427.6h7.4M584.7 435.4h7.4M584.7 443.2h7.4M584.7 451.0h7.4M584.7 458.8h7.4M584.7 466.6h7.4M584.7 474.4h7.4M584.7 482.2h7.4M584.7 490.0h7.4M584.7 497.8h7.4M584.7 505.6h7.4M584.7 513.4h7.4M596.2 368.5h7.4M596.2 400.4h7.4M596.2 410.4h7.4M596.2 420.4h7.4M596.2 430.5h7.4M596.2 440.5h7.4M596.2 450.5h7.4M596.2 471.3h7.4M596.2 492.6h7.4M596.2 502.6h7.4M596.2 512.6h7.4M644.8 318.5h7.4M644.8 350.4h7.4M644.8 375.4h7.4M644.8 392.0h7.4M644.8 407.3h7.4M644.8 449.2h7.4M644.8 459.1h7.4M644.8 469.0h7.4M644.8 478.9h7.4M644.8 488.8h7.4M654.3 318.5h7.4M654.3 328.4h7.4M654.3 338.4h7.4M654.3 348.3h7.4M654.3 360.0h7.4M654.3 367.7h7.4M654.3 375.6h7.4M654.3 383.4h7.4M654.3 391.2h7.4M654.3 399.1h7.4M654.3 406.9h7.4M654.3 414.8h7.4M654.3 423.0h7.4M654.3 444.8h7.4M654.3 452.5h7.4M654.3 460.1h7.4M654.3 467.8h7.4M654.3 475.5h7.4M654.3 483.1h7.4M654.3 490.8h7.4M665.8 329.3h7.4M665.8 339.2h7.4M665.8 349.0h7.4M665.8 370.2h7.4M665.8 377.9h7.4M665.8 385.5h7.4M665.8 393.1h7.4M665.8 400.7h7.4M665.8 408.3h7.4M665.8 415.9h7.4M665.8 423.0h7.4M665.8 448.6h7.4M665.8 456.3h7.4M665.8 463.9h7.4M665.8 471.6h7.4M665.8 479.3h7.4M665.8 487.0h7.4M665.8 494.6h7.4M714.8 281.1h7.4M714.8 291.2h7.4M714.8 301.4h7.4M714.8 311.5h7.4M714.8 321.6h7.4M714.8 327.6h7.4M714.8 335.4h7.4M714.8 343.3h7.4M714.8 351.1h7.4M714.8 358.9h7.4M714.8 366.7h7.4M714.8 374.6h7.4M714.8 382.4h7.4M714.8 390.2h7.4M714.8 398.0h7.4M714.8 405.9h7.4M714.8 413.7h7.4M714.8 421.5h7.4M714.8 429.4h7.4M714.8 437.2h7.4M714.8 445.0h7.4M714.8 452.8h7.4M714.8 460.7h7.4M714.8 468.5h7.4M724.0 277.7h7.4M724.0 287.3h7.4M724.0 297.7h7.4M724.0 307.8h7.4M724.0 317.8h7.4M724.0 328.9h7.4M724.0 336.7h7.4M724.0 344.6h7.4M724.0 352.4h7.4M724.0 360.2h7.4M724.0 368.1h7.4M724.0 375.9h7.4M724.0 383.7h7.4M724.0 391.5h7.4M724.0 399.4h7.4M724.0 407.2h7.4M724.0 419.0h7.4M724.0 429.1h7.4M724.0 439.2h7.4M724.0 447.2h7.4M724.0 457.4h7.4M724.0 467.6h7.4M735.8 300.7h7.4M735.8 317.3h7.4M735.8 331.7h7.4M735.8 341.9h7.4M735.8 352.0h7.4M735.8 362.1h7.4M735.8 372.2h7.4M735.8 382.3h7.4M735.8 392.4h7.4M735.8 402.5h7.4M735.8 412.7h7.4M735.8 422.8h7.4M735.8 432.9h7.4M735.8 443.0h7.4M735.8 455.2h7.4M735.8 465.9h7.4M782.6 247.8h7.4M782.6 280.4h7.4M782.6 318.0h7.4M782.6 333.2h7.4M782.6 342.4h7.4M782.6 364.5h7.4M782.6 398.4h7.4M782.6 407.9h7.4M782.6 417.3h7.4M782.6 445.3h7.4M794.1 244.9h7.4M794.1 255.3h7.4M794.1 265.7h7.4M794.1 276.1h7.4M794.1 286.5h7.4M794.1 301.5h7.4M794.1 314.4h7.4M794.1 322.2h7.4M794.1 330.0h7.4M794.1 337.7h7.4M794.1 345.5h7.4M794.1 353.3h7.4M794.1 361.1h7.4M794.1 375.4h7.4M794.1 383.3h7.4M794.1 391.1h7.4M794.1 399.0h7.4M794.1 406.8h7.4M794.1 414.7h7.4M794.1 430.4h7.4M794.1 440.4h7.4M794.1 450.4h7.4M794.1 460.4h7.4M803.3 258.0h7.4M803.3 279.1h7.4M803.3 290.1h7.4M803.3 310.4h7.4M803.3 320.4h7.4M803.3 330.4h7.4M803.3 340.4h7.4M803.3 350.4h7.4M803.3 360.4h7.4M803.3 383.0h7.4M803.3 397.4h7.4M803.3 407.7h7.4M803.3 418.1h7.4M803.3 444.0h7.4M803.3 453.8h7.4M852.2 200.1h7.4M852.2 210.3h7.4M852.2 220.4h7.4M852.2 230.6h7.4M852.2 240.8h7.4M852.2 250.9h7.4M852.2 274.3h7.4M852.2 282.1h7.4M852.2 289.9h7.4M852.2 297.6h7.4M852.2 305.4h7.4M852.2 313.2h7.4M852.2 335.5h7.4M852.2 346.2h7.4M852.2 357.0h7.4M852.2 362.1h7.4M852.2 369.8h7.4M852.2 377.4h7.4M852.2 385.1h7.4M852.2 392.8h7.4M852.2 400.4h7.4M852.2 406.4h7.4M852.2 416.8h7.4M852.2 427.1h7.4M852.2 437.5h7.4M864.1 204.0h7.4M864.1 229.5h7.4M864.1 280.3h7.4M864.1 290.6h7.4M864.1 301.0h7.4M864.1 311.3h7.4M864.1 358.9h7.4M864.1 375.8h7.4M864.1 385.9h7.4M864.1 419.2h7.4M922.1 211.0h7.4M922.1 243.6h7.4M922.1 280.7h7.4M922.1 292.2h7.4M922.1 348.3h7.4M922.1 391.1h7.4M922.1 400.4h7.4M922.1 422.9h7.4M933.6 204.0h7.4M933.6 232.2h7.4M933.6 242.2h7.4M933.6 252.2h7.4M933.6 262.2h7.4M933.6 272.3h7.4M933.6 282.3h7.4M933.6 292.3h7.4M933.6 302.3h7.4M933.6 335.3h7.4M933.6 345.6h7.4M933.6 355.8h7.4M933.6 386.4h7.4M933.6 395.9h7.4M933.6 412.5h7.4M933.6 427.4h7.4M933.6 448.8h7.4M943.3 204.0h7.4M943.3 222.5h7.4M943.3 235.6h7.4M943.3 246.3h7.4M943.3 256.9h7.4M943.3 264.0h7.4M943.3 271.7h7.4M943.3 279.4h7.4M943.3 287.1h7.4M943.3 294.8h7.4M943.3 302.5h7.4M943.3 310.2h7.4M943.3 345.7h7.4M943.3 355.8h7.4M943.3 365.8h7.4M943.3 385.5h7.4M943.3 395.7h7.4M943.3 406.0h7.4M943.3 416.2h7.4M943.3 426.5h7.4M943.3 436.7h7.4M943.3 456.2h7.4M992.1 184.5h7.4M992.1 201.2h7.4M992.1 211.3h7.4M992.1 221.5h7.4M992.1 231.6h7.4M992.1 241.7h7.4M992.1 255.0h7.4M992.1 265.6h7.4M992.1 276.9h7.4M992.1 287.0h7.4M992.1 297.1h7.4M992.1 307.2h7.4M992.1 317.2h7.4M992.1 327.3h7.4M992.1 337.4h7.4M992.1 347.5h7.4M992.1 361.4h7.4M992.1 375.5h7.4M992.1 385.5h7.4M992.1 401.7h7.4M992.1 422.8h7.4M992.1 452.4h7.4M1001.0 157.7h7.4M1001.0 167.6h7.4M1001.0 177.5h7.4M1001.0 189.1h7.4M1001.0 196.9h7.4M1001.0 204.7h7.4M1001.0 212.5h7.4M1001.0 220.3h7.4M1001.0 228.1h7.4M1001.0 235.9h7.4M1001.0 243.7h7.4M1001.0 251.5h7.4M1001.0 259.3h7.4M1001.0 267.1h7.4M1001.0 278.0h7.4M1001.0 287.6h7.4M1001.0 297.2h7.4M1001.0 308.9h7.4M1001.0 318.8h7.4M1001.0 328.6h7.4M1001.0 338.5h7.4M1001.0 348.4h7.4M1001.0 357.5h7.4M1001.0 365.4h7.4M1001.0 373.3h7.4M1001.0 381.2h7.4M1001.0 389.1h7.4M1001.0 397.0h7.4M1001.0 404.9h7.4M1001.0 423.2h7.4M1001.0 433.4h7.4M1001.0 443.9h7.4M1001.0 453.5h7.4M1012.9 162.1h7.4M1012.9 190.3h7.4M1012.9 210.1h7.4M1012.9 219.0h7.4M1012.9 228.4h7.4M1012.9 238.1h7.4M1012.9 247.8h7.4M1012.9 261.1h7.4M1012.9 271.4h7.4M1012.9 281.8h7.4M1012.9 292.2h7.4M1012.9 302.5h7.4M1012.9 312.9h7.4M1012.9 323.3h7.4M1012.9 333.6h7.4M1012.9 344.0h7.4M1012.9 358.2h7.4M1012.9 371.0h7.4M1012.9 380.6h7.4M1012.9 390.2h7.4M1012.9 404.9h7.4M1012.9 420.9h7.4M1012.9 449.0h7.4M1012.9 459.9h7.4M1061.7 157.1h7.4M1061.7 167.4h7.4M1061.7 177.7h7.4M1061.7 188.0h7.4M1061.7 198.3h7.4M1061.7 208.6h7.4M1061.7 218.9h7.4M1061.7 229.2h7.4M1061.7 239.5h7.4M1061.7 249.8h7.4M1061.7 260.1h7.4M1061.7 270.4h7.4M1061.7 292.4h7.4M1061.7 302.7h7.4M1061.7 312.9h7.4M1061.7 323.2h7.4M1061.7 336.4h7.4M1061.7 344.1h7.4M1061.7 351.8h7.4M1061.7 359.4h7.4M1061.7 367.1h7.4M1061.7 385.3h7.4M1061.7 395.5h7.4M1061.7 405.6h7.4M1061.7 415.7h7.4M1071.0 151.0h7.4M1071.0 161.0h7.4M1071.0 170.9h7.4M1071.0 180.9h7.4M1071.0 194.0h7.4M1071.0 204.0h7.4M1071.0 214.1h7.4M1071.0 224.1h7.4M1071.0 234.2h7.4M1071.0 244.2h7.4M1071.0 254.3h7.4M1071.0 264.3h7.4M1071.0 291.0h7.4M1071.0 301.7h7.4M1071.0 312.3h7.4M1071.0 323.0h7.4M1071.0 341.5h7.4M1071.0 349.0h7.4M1071.0 356.5h7.4M1071.0 364.0h7.4M1071.0 385.0h7.4M1071.0 392.7h7.4M1071.0 400.4h7.4M1071.0 408.0h7.4M1082.8 148.3h7.4M1082.8 164.3h7.4M1082.8 174.8h7.4M1082.8 185.2h7.4M1082.8 195.7h7.4M1082.8 206.1h7.4M1082.8 216.6h7.4M1082.8 227.0h7.4M1082.8 240.5h7.4M1082.8 251.2h7.4M1082.8 261.8h7.4M1082.8 272.5h7.4M1082.8 295.1h7.4M1082.8 305.1h7.4M1082.8 315.1h7.4M1082.8 326.8h7.4M1082.8 342.9h7.4M1082.8 350.7h7.4M1082.8 358.6h7.4M1082.8 366.4h7.4M1082.8 385.2h7.4M1082.8 395.1h7.4M1082.8 405.1h7.4M1082.8 415.0h7.4M1131.4 94.8h7.4M1131.4 106.1h7.4M1131.4 114.4h7.4M1131.4 130.7h7.4M1131.4 140.8h7.4M1131.4 150.8h7.4M1131.4 160.8h7.4M1131.4 170.9h7.4M1131.4 180.9h7.4M1131.4 190.9h7.4M1131.4 201.0h7.4M1131.4 211.8h7.4M1131.4 220.9h7.4M1131.4 234.4h7.4M1131.4 268.2h7.4M1131.4 278.6h7.4M1131.4 288.9h7.4M1131.4 299.3h7.4M1131.4 309.6h7.4M1131.4 320.0h7.4M1131.4 330.3h7.4M1131.4 340.7h7.4M1131.4 351.0h7.4M1131.4 363.8h7.4M1131.4 373.8h7.4M1131.4 383.8h7.4M1131.4 393.8h7.4M1131.4 403.7h7.4M1141.0 87.8h7.4M1141.0 105.7h7.4M1141.0 128.1h7.4M1141.0 138.5h7.4M1141.0 148.9h7.4M1141.0 159.3h7.4M1141.0 169.7h7.4M1141.0 180.1h7.4M1141.0 190.4h7.4M1141.0 200.8h7.4M1141.0 227.3h7.4M1141.0 269.5h7.4M1141.0 282.7h7.4M1141.0 293.0h7.4M1141.0 303.2h7.4M1141.0 313.5h7.4M1141.0 323.7h7.4M1141.0 334.0h7.4M1141.0 344.2h7.4M1141.0 354.5h7.4M1141.0 377.6h7.4M1141.0 392.3h7.4M1152.8 87.1h7.4M1152.8 96.3h7.4M1152.8 108.9h7.4M1152.8 119.5h7.4M1152.8 134.6h7.4M1152.8 144.6h7.4M1152.8 154.5h7.4M1152.8 164.5h7.4M1152.8 174.4h7.4M1152.8 184.4h7.4M1152.8 199.9h7.4M1152.8 210.0h7.4M1152.8 220.0h7.4M1152.8 230.1h7.4M1152.8 240.1h7.4M1152.8 276.8h7.4M1152.8 286.9h7.4M1152.8 297.0h7.4M1152.8 307.2h7.4M1152.8 317.3h7.4M1152.8 327.5h7.4M1152.8 337.6h7.4M1152.8 347.7h7.4M1152.8 362.8h7.4M1152.8 379.5h7.4M1152.8 389.8h7.4M1152.8 400.1h7.4M1152.8 410.4h7.4M1199.2 89.6h7.4M1199.2 110.7h7.4M1199.2 121.3h7.4M1199.2 132.0h7.4M1199.2 142.2h7.4M1199.2 152.4h7.4M1199.2 162.6h7.4M1199.2 172.8h7.4M1199.2 183.0h7.4M1199.2 193.2h7.4M1199.2 203.4h7.4M1199.2 213.6h7.4M1199.2 223.8h7.4M1199.2 255.4h7.4M1199.2 265.4h7.4M1199.2 275.5h7.4M1199.2 285.5h7.4M1199.2 295.5h7.4M1199.2 305.5h7.4M1199.2 315.5h7.4M1199.2 325.5h7.4M1199.2 335.5h7.4M1199.2 360.9h7.4M1199.2 371.4h7.4M1199.2 381.8h7.4M1199.2 409.2h7.4M1199.2 419.2h7.4M1210.7 92.4h7.4M1210.7 102.6h7.4M1210.7 112.7h7.4M1210.7 122.9h7.4M1210.7 133.1h7.4M1210.7 143.2h7.4M1210.7 153.4h7.4M1210.7 163.6h7.4M1210.7 173.8h7.4M1210.7 183.9h7.4M1210.7 194.1h7.4M1210.7 204.3h7.4M1210.7 214.4h7.4M1210.7 224.6h7.4M1210.7 254.6h7.4M1210.7 265.1h7.4M1210.7 275.5h7.4M1210.7 285.9h7.4M1210.7 296.3h7.4M1210.7 309.1h7.4M1210.7 319.1h7.4M1210.7 329.0h7.4M1210.7 366.8h7.4M1210.7 382.5h7.4M1210.7 391.9h7.4M1210.7 415.9h7.4M1220.0 89.6h7.4M1220.0 119.6h7.4M1220.0 134.1h7.4M1220.0 144.2h7.4M1220.0 154.4h7.4M1220.0 164.5h7.4M1220.0 174.7h7.4M1220.0 184.8h7.4M1220.0 195.0h7.4M1220.0 205.1h7.4M1220.0 218.2h7.4M1220.0 259.8h7.4M1220.0 269.4h7.4M1220.0 303.9h7.4M1220.0 315.1h7.4M1220.0 366.8h7.4M1220.0 379.4h7.4M1269.1 36.5h7.4M1269.1 65.5h7.4M1269.1 75.7h7.4M1269.1 85.9h7.4M1269.1 96.1h7.4M1269.1 106.3h7.4M1269.1 116.5h7.4M1269.1 126.7h7.4M1269.1 136.9h7.4M1269.1 147.1h7.4M1269.1 157.3h7.4M1269.1 167.5h7.4M1269.1 194.6h7.4M1269.1 234.0h7.4M1269.1 244.1h7.4M1269.1 254.3h7.4M1269.1 264.4h7.4M1269.1 274.6h7.4M1269.1 284.7h7.4M1269.1 294.9h7.4M1269.1 305.0h7.4M1269.1 351.4h7.4M1269.1 362.1h7.4M1269.1 372.9h7.4M1269.1 393.8h7.4M1280.6 96.0h7.4M1280.6 145.3h7.4M1280.6 164.1h7.4M1280.6 236.1h7.4M1280.6 274.4h7.4M1280.6 302.0h7.4M1280.6 368.1h7.4M1280.6 393.8h7.4M1289.9 72.7h7.4M1289.9 83.0h7.4M1289.9 93.2h7.4M1289.9 103.5h7.4M1289.9 113.7h7.4M1289.9 124.0h7.4M1289.9 134.2h7.4M1289.9 144.5h7.4M1289.9 154.7h7.4M1289.9 165.0h7.4M1289.9 185.6h7.4M1289.9 208.0h7.4M1289.9 237.0h7.4M1289.9 247.6h7.4M1289.9 258.1h7.4M1289.9 274.0h7.4M1289.9 284.6h7.4M1289.9 295.2h7.4M1289.9 305.8h7.4M1289.9 351.4h7.4M1289.9 362.1h7.4M1289.9 372.9h7.4M1289.9 387.9h7.4" stroke="#ff0000" stroke-opacity="0.78" stroke-width="2.4" fill="none"/><path d="M228.4 592.8h7.4M228.4 602.6h7.4M237.5 590.5h7.4M237.5 602.0h7.4M249.3 575.0h7.4M249.3 584.0h7.4M249.3 593.8h7.4M297.9 474.0h7.4M297.9 494.6h7.4M297.9 576.2h7.4M307.5 472.0h7.4M307.5 490.0h7.4M307.5 578.5h7.4M316.5 574.8h7.4M316.5 586.4h7.4M365.5 568.1h7.4M377.1 415.2h7.4M377.1 425.6h7.4M377.1 435.9h7.4M377.1 448.5h7.4M377.1 459.0h7.4M377.1 568.1h7.4M386.4 562.0h7.4M386.4 571.2h7.4M435.6 389.8h7.4M435.6 422.0h7.4M435.6 438.5h7.4M435.6 448.5h7.4M435.6 464.2h7.4M435.6 486.0h7.4M435.6 523.5h7.4M435.6 583.5h7.4M447.1 507.6h7.4M447.1 518.1h7.4M447.1 528.5h7.4M447.1 541.7h7.4M447.1 583.5h7.4M456.3 500.0h7.4M456.3 511.3h7.4M456.3 521.0h7.4M456.3 530.8h7.4M456.3 550.8h7.4M505.1 429.6h7.4M505.1 439.8h7.4M505.1 459.0h7.4M505.1 472.6h7.4M505.1 482.7h7.4M505.1 492.9h7.4M505.1 503.0h7.4M505.1 525.6h7.4M525.5 524.8h7.4M575.1 341.6h7.4M575.1 351.2h7.4M575.1 364.3h7.4M575.1 374.6h7.4M575.1 385.0h7.4M575.1 390.2h7.4M575.1 398.0h7.4M575.1 405.8h7.4M575.1 413.5h7.4M575.1 421.3h7.4M575.1 429.1h7.4M575.1 436.9h7.4M575.1 444.7h7.4M575.1 452.4h7.4M575.1 460.2h7.4M575.1 468.0h7.4M575.1 475.8h7.4M575.1 483.6h7.4M575.1 491.4h7.4M575.1 499.1h7.4M575.1 506.9h7.4M575.1 514.7h7.4M584.7 333.3h7.4M584.7 343.3h7.4M584.7 353.3h7.4M584.7 360.0h7.4M584.7 367.8h7.4M584.7 375.6h7.4M584.7 383.4h7.4M584.7 391.2h7.4M584.7 399.0h7.4M584.7 406.8h7.4M584.7 414.6h7.4M584.7 422.4h7.4M584.7 430.2h7.4M584.7 438.0h7.4M584.7 445.8h7.4M584.7 453.6h7.4M584.7 461.4h7.4M584.7 469.2h7.4M584.7 477.0h7.4M584.7 484.8h7.4M584.7 492.6h7.4M584.7 500.4h7.4M584.7 508.2h7.4M584.7 516.0h7.4M596.2 378.7h7.4M596.2 403.7h7.4M596.2 413.8h7.4M596.2 423.8h7.4M596.2 433.8h7.4M596.2 443.8h7.4M596.2 453.9h7.4M596.2 480.9h7.4M596.2 495.9h7.4M596.2 505.9h7.4M596.2 516.0h7.4M644.8 329.3h7.4M644.8 367.7h7.4M644.8 379.2h7.4M644.8 402.2h7.4M644.8 422.4h7.4M644.8 452.5h7.4M644.8 462.4h7.4M644.8 472.3h7.4M644.8 482.2h7.4M644.8 492.1h7.4M654.3 321.8h7.4M654.3 331.7h7.4M654.3 341.7h7.4M654.3 351.6h7.4M654.3 362.5h7.4M654.3 370.3h7.4M654.3 378.2h7.4M654.3 386.0h7.4M654.3 393.9h7.4M654.3 401.7h7.4M654.3 409.5h7.4M654.3 417.4h7.4M654.3 430.0h7.4M654.3 447.4h7.4M654.3 455.0h7.4M654.3 462.7h7.4M654.3 470.4h7.4M654.3 478.0h7.4M654.3 485.7h7.4M665.8 312.7h7.4M665.8 332.6h7.4M665.8 342.4h7.4M665.8 352.3h7.4M665.8 372.8h7.4M665.8 380.4h7.4M665.8 388.0h7.4M665.8 395.6h7.4M665.8 403.2h7.4M665.8 410.8h7.4M665.8 418.5h7.4M665.8 430.0h7.4M665.8 451.2h7.4M665.8 458.8h7.4M665.8 466.5h7.4M665.8 474.2h7.4M665.8 481.9h7.4M665.8 489.5h7.4M665.8 497.2h7.4M714.8 284.5h7.4M714.8 294.6h7.4M714.8 304.7h7.4M714.8 314.9h7.4M714.8 325.0h7.4M714.8 330.2h7.4M714.8 338.0h7.4M714.8 345.9h7.4M714.8 353.7h7.4M714.8 361.5h7.4M714.8 369.3h7.4M714.8 377.2h7.4M714.8 385.0h7.4M714.8 392.8h7.4M714.8 400.7h7.4M714.8 408.5h7.4M714.8 416.3h7.4M714.8 424.1h7.4M714.8 432.0h7.4M714.8 439.8h7.4M714.8 447.6h7.4M714.8 455.4h7.4M714.8 463.3h7.4M714.8 471.1h7.4M724.0 280.9h7.4M724.0 290.5h7.4M724.0 301.0h7.4M724.0 311.1h7.4M724.0 321.2h7.4M724.0 331.5h7.4M724.0 339.3h7.4M724.0 347.2h7.4M724.0 355.0h7.4M724.0 362.8h7.4M724.0 370.7h7.4M724.0 378.5h7.4M724.0 386.3h7.4M724.0 394.2h7.4M724.0 402.0h7.4M724.0 412.3h7.4M724.0 422.4h7.4M724.0 432.5h7.4M724.0 440.4h7.4M724.0 450.6h7.4M724.0 460.8h7.4M724.0 471.0h7.4M735.8 310.9h7.4M735.8 325.0h7.4M735.8 335.1h7.4M735.8 345.2h7.4M735.8 355.3h7.4M735.8 365.5h7.4M735.8 375.6h7.4M735.8 385.7h7.4M735.8 395.8h7.4M735.8 405.9h7.4M735.8 416.0h7.4M735.8 426.1h7.4M735.8 436.3h7.4M735.8 448.1h7.4M735.8 458.8h7.4M735.8 469.4h7.4M782.6 257.8h7.4M782.6 287.4h7.4M782.6 327.0h7.4M782.6 336.2h7.4M782.6 343.3h7.4M782.6 380.3h7.4M782.6 401.5h7.4M782.6 411.0h7.4M782.6 426.4h7.4M782.6 452.8h7.4M794.1 248.3h7.4M794.1 258.8h7.4M794.1 269.2h7.4M794.1 279.6h7.4M794.1 290.0h7.4M794.1 309.2h7.4M794.1 317.0h7.4M794.1 324.8h7.4M794.1 332.6h7.4M794.1 340.3h7.4M794.1 348.1h7.4M794.1 355.9h7.4M794.1 363.7h7.4M794.1 378.0h7.4M794.1 385.9h7.4M794.1 393.7h7.4M794.1 401.6h7.4M794.1 409.4h7.4M794.1 417.3h7.4M794.1 433.8h7.4M794.1 443.8h7.4M794.1 453.7h7.4M803.3 247.1h7.4M803.3 261.9h7.4M803.3 282.8h7.4M803.3 293.8h7.4M803.3 313.7h7.4M803.3 323.7h7.4M803.3 333.7h7.4M803.3 343.7h7.4M803.3 353.7h7.4M803.3 363.7h7.4M803.3 385.6h7.4M803.3 400.8h7.4M803.3 411.2h7.4M803.3 428.7h7.4M803.3 447.3h7.4M803.3 457.1h7.4M852.2 203.5h7.4M852.2 213.7h7.4M852.2 223.8h7.4M852.2 234.0h7.4M852.2 244.1h7.4M852.2 254.3h7.4M852.2 276.9h7.4M852.2 284.7h7.4M852.2 292.5h7.4M852.2 300.2h7.4M852.2 308.0h7.4M852.2 315.8h7.4M852.2 339.1h7.4M852.2 349.8h7.4M852.2 357.0h7.4M852.2 364.7h7.4M852.2 372.3h7.4M852.2 380.0h7.4M852.2 387.7h7.4M852.2 395.3h7.4M852.2 403.0h7.4M852.2 409.9h7.4M852.2 420.2h7.4M852.2 430.6h7.4M852.2 440.9h7.4M864.1 211.0h7.4M864.1 241.0h7.4M864.1 283.7h7.4M864.1 294.1h7.4M864.1 304.4h7.4M864.1 314.8h7.4M864.1 364.3h7.4M864.1 379.1h7.4M864.1 394.0h7.4M864.1 429.1h7.4M922.1 229.5h7.4M922.1 259.6h7.4M922.1 284.5h7.4M922.1 301.8h7.4M922.1 357.6h7.4M922.1 394.2h7.4M922.1 407.8h7.4M922.1 432.0h7.4M933.6 220.0h7.4M933.6 235.6h7.4M933.6 245.6h7.4M933.6 255.6h7.4M933.6 265.6h7.4M933.6 275.6h7.4M933.6 285.6h7.4M933.6 295.6h7.4M933.6 305.6h7.4M933.6 338.7h7.4M933.6 349.0h7.4M933.6 380.0h7.4M933.6 389.6h7.4M933.6 399.1h7.4M933.6 420.9h7.4M933.6 430.6h7.4M933.6 452.5h7.4M943.3 211.0h7.4M943.3 225.7h7.4M943.3 239.2h7.4M943.3 249.8h7.4M943.3 260.5h7.4M943.3 266.6h7.4M943.3 274.3h7.4M943.3 282.0h7.4M943.3 289.7h7.4M943.3 297.4h7.4M943.3 305.1h7.4M943.3 339.0h7.4M943.3 349.1h7.4M943.3 359.1h7.4M943.3 369.1h7.4M943.3 388.9h7.4M943.3 399.2h7.4M943.3 409.4h7.4M943.3 419.6h7.4M943.3 429.9h7.4M943.3 448.8h7.4M992.1 162.1h7.4M992.1 187.7h7.4M992.1 204.6h7.4M992.1 214.7h7.4M992.1 224.8h7.4M992.1 235.0h7.4M992.1 245.1h7.4M992.1 258.5h7.4M992.1 269.1h7.4M992.1 280.2h7.4M992.1 290.3h7.4M992.1 300.4h7.4M992.1 310.5h7.4M992.1 320.6h7.4M992.1 330.7h7.4M992.1 340.8h7.4M992.1 350.9h7.4M992.1 365.3h7.4M992.1 378.8h7.4M992.1 388.8h7.4M992.1 408.7h7.4M992.1 426.6h7.4M992.1 455.8h7.4M1001.0 161.0h7.4M1001.0 170.9h7.4M1001.0 183.9h7.4M1001.0 191.7h7.4M1001.0 199.5h7.4M1001.0 207.3h7.4M1001.0 215.1h7.4M1001.0 222.9h7.4M1001.0 230.7h7.4M1001.0 238.5h7.4M1001.0 246.3h7.4M1001.0 254.1h7.4M1001.0 261.9h7.4M1001.0 269.7h7.4M1001.0 281.2h7.4M1001.0 290.8h7.4M1001.0 302.3h7.4M1001.0 312.2h7.4M1001.0 322.1h7.4M1001.0 331.9h7.4M1001.0 341.8h7.4M1001.0 352.2h7.4M1001.0 360.1h7.4M1001.0 368.0h7.4M1001.0 375.9h7.4M1001.0 383.8h7.4M1001.0 391.7h7.4M1001.0 399.6h7.4M1001.0 416.4h7.4M1001.0 426.6h7.4M1001.0 436.8h7.4M1001.0 447.1h7.4M1001.0 456.7h7.4M1012.9 169.2h7.4M1012.9 193.5h7.4M1012.9 213.1h7.4M1012.9 222.0h7.4M1012.9 231.7h7.4M1012.9 241.3h7.4M1012.9 251.0h7.4M1012.9 264.5h7.4M1012.9 274.9h7.4M1012.9 285.2h7.4M1012.9 295.6h7.4M1012.9 306.0h7.4M1012.9 316.3h7.4M1012.9 326.7h7.4M1012.9 337.1h7.4M1012.9 347.4h7.4M1012.9 361.7h7.4M1012.9 374.2h7.4M1012.9 383.8h7.4M1012.9 393.4h7.4M1012.9 407.4h7.4M1012.9 425.0h7.4M1012.9 452.6h7.4M1061.7 150.2h7.4M1061.7 160.5h7.4M1061.7 170.8h7.4M1061.7 181.1h7.4M1061.7 191.4h7.4M1061.7 201.7h7.4M1061.7 212.0h7.4M1061.7 222.3h7.4M1061.7 232.6h7.4M1061.7 242.9h7.4M1061.7 253.2h7.4M1061.7 263.5h7.4M1061.7 273.8h7.4M1061.7 295.8h7.4M1061.7 306.1h7.4M1061.7 316.3h7.4M1061.7 326.6h7.4M1061.7 339.0h7.4M1061.7 346.6h7.4M1061.7 354.3h7.4M1061.7 362.0h7.4M1061.7 378.6h7.4M1061.7 388.7h7.4M1061.7 398.8h7.4M1061.7 409.0h7.4M1061.7 429.7h7.4M1071.0 154.3h7.4M1071.0 164.3h7.4M1071.0 174.3h7.4M1071.0 187.3h7.4M1071.0 197.3h7.4M1071.0 207.4h7.4M1071.0 217.4h7.4M1071.0 227.5h7.4M1071.0 237.5h7.4M1071.0 247.6h7.4M1071.0 257.6h7.4M1071.0 267.7h7.4M1071.0 294.6h7.4M1071.0 305.2h7.4M1071.0 315.9h7.4M1071.0 332.0h7.4M1071.0 344.0h7.4M1071.0 351.5h7.4M1071.0 359.0h7.4M1071.0 366.5h7.4M1071.0 387.6h7.4M1071.0 395.2h7.4M1071.0 402.9h7.4M1071.0 410.6h7.4M1082.8 152.8h7.4M1082.8 167.8h7.4M1082.8 178.2h7.4M1082.8 188.7h7.4M1082.8 199.1h7.4M1082.8 209.6h7.4M1082.8 220.0h7.4M1082.8 233.4h7.4M1082.8 244.1h7.4M1082.8 254.7h7.4M1082.8 265.4h7.4M1082.8 288.5h7.4M1082.8 298.5h7.4M1082.8 308.4h7.4M1082.8 318.4h7.4M1082.8 337.7h7.4M1082.8 345.5h7.4M1082.8 353.4h7.4M1082.8 361.2h7.4M1082.8 378.6h7.4M1082.8 388.5h7.4M1082.8 398.5h7.4M1082.8 408.4h7.4M1082.8 429.7h7.4M1131.4 100.6h7.4M1131.4 108.9h7.4M1131.4 117.2h7.4M1131.4 134.1h7.4M1131.4 144.1h7.4M1131.4 154.1h7.4M1131.4 164.2h7.4M1131.4 174.2h7.4M1131.4 184.2h7.4M1131.4 194.3h7.4M1131.4 204.3h7.4M1131.4 214.9h7.4M1131.4 227.3h7.4M1131.4 237.9h7.4M1131.4 271.7h7.4M1131.4 282.0h7.4M1131.4 292.4h7.4M1131.4 302.7h7.4M1131.4 313.1h7.4M1131.4 323.4h7.4M1131.4 333.8h7.4M1131.4 344.1h7.4M1131.4 354.5h7.4M1131.4 367.2h7.4M1131.4 377.1h7.4M1131.4 387.1h7.4M1131.4 397.1h7.4M1131.4 407.1h7.4M1141.0 91.7h7.4M1141.0 112.7h7.4M1141.0 131.6h7.4M1141.0 142.0h7.4M1141.0 152.3h7.4M1141.0 162.7h7.4M1141.0 173.1h7.4M1141.0 183.5h7.4M1141.0 193.9h7.4M1141.0 204.3h7.4M1141.0 231.2h7.4M1141.0 275.9h7.4M1141.0 286.2h7.4M1141.0 296.4h7.4M1141.0 306.7h7.4M1141.0 316.9h7.4M1141.0 327.2h7.4M1141.0 337.4h7.4M1141.0 347.7h7.4M1141.0 362.8h7.4M1141.0 381.2h7.4M1141.0 396.8h7.4M1152.8 90.2h7.4M1152.8 99.4h7.4M1152.8 112.4h7.4M1152.8 123.0h7.4M1152.8 137.9h7.4M1152.8 147.9h7.4M1152.8 157.8h7.4M1152.8 167.8h7.4M1152.8 177.7h7.4M1152.8 187.7h7.4M1152.8 203.3h7.4M1152.8 213.3h7.4M1152.8 223.4h7.4M1152.8 233.4h7.4M1152.8 270.0h7.4M1152.8 280.1h7.4M1152.8 290.3h7.4M1152.8 300.4h7.4M1152.8 310.6h7.4M1152.8 320.7h7.4M1152.8 330.8h7.4M1152.8 341.0h7.4M1152.8 351.1h7.4M1152.8 372.6h7.4M1152.8 382.9h7.4M1152.8 393.2h7.4M1152.8 403.5h7.4M1131.6 648.4h7.4M1199.2 94.1h7.4M1199.2 114.2h7.4M1199.2 124.8h7.4M1199.2 135.4h7.4M1199.2 145.6h7.4M1199.2 155.8h7.4M1199.2 166.0h7.4M1199.2 176.2h7.4M1199.2 186.4h7.4M1199.2 196.6h7.4M1199.2 206.8h7.4M1199.2 217.0h7.4M1199.2 227.2h7.4M1199.2 258.8h7.4M1199.2 268.8h7.4M1199.2 278.8h7.4M1199.2 288.8h7.4M1199.2 298.8h7.4M1199.2 308.8h7.4M1199.2 318.8h7.4M1199.2 328.8h7.4M1199.2 349.6h7.4M1199.2 364.4h7.4M1199.2 374.8h7.4M1199.2 385.3h7.4M1199.2 412.5h7.4M1199.2 422.5h7.4M1210.7 95.8h7.4M1210.7 106.0h7.4M1210.7 116.1h7.4M1210.7 126.3h7.4M1210.7 136.5h7.4M1210.7 146.6h7.4M1210.7 156.8h7.4M1210.7 167.0h7.4M1210.7 177.1h7.4M1210.7 187.3h7.4M1210.7 197.5h7.4M1210.7 207.7h7.4M1210.7 217.8h7.4M1210.7 247.7h7.4M1210.7 258.1h7.4M1210.7 268.5h7.4M1210.7 278.9h7.4M1210.7 289.4h7.4M1210.7 302.5h7.4M1210.7 312.4h7.4M1210.7 322.4h7.4M1210.7 332.3h7.4M1210.7 376.2h7.4M1210.7 385.6h7.4M1210.7 409.2h7.4M1210.7 419.2h7.4M1220.0 112.0h7.4M1220.0 127.3h7.4M1220.0 137.5h7.4M1220.0 147.6h7.4M1220.0 157.8h7.4M1220.0 167.9h7.4M1220.0 178.1h7.4M1220.0 188.2h7.4M1220.0 198.4h7.4M1220.0 208.5h7.4M1220.0 247.7h7.4M1220.0 263.0h7.4M1220.0 283.5h7.4M1220.0 307.6h7.4M1220.0 323.7h7.4M1220.0 373.1h7.4M1220.0 382.5h7.4M1269.1 41.0h7.4M1269.1 68.9h7.4M1269.1 79.1h7.4M1269.1 89.3h7.4M1269.1 99.5h7.4M1269.1 109.7h7.4M1269.1 119.9h7.4M1269.1 130.1h7.4M1269.1 140.3h7.4M1269.1 150.5h7.4M1269.1 160.7h7.4M1269.1 170.9h7.4M1269.1 227.2h7.4M1269.1 237.3h7.4M1269.1 247.5h7.4M1269.1 257.6h7.4M1269.1 267.8h7.4M1269.1 277.9h7.4M1269.1 288.1h7.4M1269.1 298.2h7.4M1269.1 315.9h7.4M1269.1 355.0h7.4M1269.1 365.7h7.4M1269.1 376.4h7.4M1280.6 70.4h7.4M1280.6 110.7h7.4M1280.6 158.1h7.4M1280.6 167.1h7.4M1280.6 257.6h7.4M1280.6 277.4h7.4M1280.6 317.8h7.4M1280.6 371.1h7.4M1289.9 65.9h7.4M1289.9 76.2h7.4M1289.9 86.4h7.4M1289.9 96.7h7.4M1289.9 106.9h7.4M1289.9 117.2h7.4M1289.9 127.4h7.4M1289.9 137.7h7.4M1289.9 147.9h7.4M1289.9 158.2h7.4M1289.9 168.4h7.4M1289.9 196.5h7.4M1289.9 230.0h7.4M1289.9 240.5h7.4M1289.9 251.1h7.4M1289.9 261.6h7.4M1289.9 277.6h7.4M1289.9 288.2h7.4M1289.9 298.8h7.4M1289.9 309.4h7.4M1289.9 355.0h7.4M1289.9 365.7h7.4M1289.9 376.4h7.4M1289.9 391.9h7.4" stroke="#ff0000" stroke-opacity="0.78" stroke-width="2.4" fill="none"/><path d="M228.4 504.5h7.4M228.4 506.5h7.4M228.4 508.5h7.4M228.4 510.5h7.4M228.4 512.5h7.4M228.4 514.4h7.4M228.4 516.4h7.4M228.4 518.4h7.4M228.4 520.4h7.4M228.4 522.4h7.4M228.4 524.4h7.4M228.4 526.4h7.4M228.4 528.4h7.4M228.4 530.3h7.4M228.4 532.3h7.4M228.4 534.3h7.4M228.4 536.3h7.4M228.4 538.3h7.4M228.4 540.3h7.4M228.4 542.3h7.4M228.4 544.2h7.4M228.4 546.2h7.4M228.4 548.2h7.4M228.4 550.2h7.4M228.4 552.2h7.4M228.4 554.2h7.4M228.4 556.2h7.4M228.4 558.2h7.4M228.4 560.1h7.4M228.4 562.1h7.4M228.4 564.1h7.4M228.4 566.1h7.4M228.4 568.1h7.4M228.4 570.1h7.4M228.4 572.1h7.4M228.4 574.1h7.4M228.4 576.0h7.4M228.4 578.0h7.4M228.4 580.0h7.4M228.4 582.0h7.4M228.4 584.0h7.4M237.5 503.8h7.4M237.5 505.8h7.4M237.5 507.8h7.4M237.5 509.8h7.4M237.5 511.8h7.4M237.5 513.8h7.4M237.5 515.8h7.4M237.5 517.8h7.4M237.5 519.8h7.4M237.5 521.8h7.4M237.5 523.9h7.4M237.5 525.9h7.4M237.5 527.9h7.4M237.5 529.9h7.4M237.5 531.9h7.4M237.5 533.9h7.4M237.5 535.9h7.4M237.5 537.9h7.4M237.5 539.9h7.4M237.5 541.9h7.4M237.5 543.9h7.4M237.5 545.9h7.4M237.5 547.9h7.4M237.5 549.9h7.4M237.5 551.9h7.4M237.5 553.9h7.4M237.5 555.9h7.4M237.5 557.9h7.4M237.5 559.9h7.4M237.5 561.9h7.4M237.5 564.0h7.4M237.5 566.0h7.4M237.5 568.0h7.4M237.5 570.0h7.4M237.5 572.0h7.4M237.5 574.0h7.4M237.5 576.0h7.4M237.5 578.0h7.4M237.5 580.0h7.4M237.5 582.0h7.4M237.5 584.0h7.4M249.3 519.1h7.4M249.3 521.1h7.4M249.3 523.1h7.4M249.3 525.1h7.4M249.3 527.1h7.4M249.3 529.1h7.4M249.3 531.1h7.4M249.3 533.1h7.4M249.3 535.1h7.4M249.3 537.1h7.4M249.3 539.1h7.4M249.3 541.1h7.4M249.3 543.1h7.4M249.3 545.1h7.4M249.3 547.0h7.4M249.3 549.0h7.4M249.3 551.0h7.4M249.3 553.0h7.4M249.3 555.0h7.4M249.3 557.0h7.4M249.3 559.0h7.4M249.3 561.0h7.4M249.3 563.0h7.4M249.3 565.0h7.4M249.3 567.0h7.4M249.3 569.0h7.4M249.3 571.0h7.4M249.3 573.0h7.4M249.3 575.0h7.4M297.9 502.0h7.4M297.9 504.1h7.4M297.9 506.1h7.4M297.9 508.1h7.4M297.9 510.2h7.4M297.9 512.2h7.4M297.9 514.3h7.4M297.9 516.4h7.4M297.9 518.4h7.4M297.9 520.5h7.4M297.9 522.5h7.4M297.9 524.5h7.4M297.9 526.6h7.4M297.9 528.6h7.4M297.9 530.7h7.4M297.9 532.8h7.4M297.9 534.8h7.4M297.9 536.9h7.4M297.9 538.9h7.4M297.9 541.0h7.4M297.9 543.0h7.4M307.5 497.4h7.4M307.5 499.4h7.4M307.5 501.4h7.4M307.5 503.4h7.4M307.5 505.4h7.4M307.5 507.5h7.4M307.5 509.5h7.4M307.5 511.5h7.4M307.5 513.5h7.4M307.5 515.5h7.4M307.5 517.5h7.4M307.5 519.5h7.4M307.5 521.5h7.4M307.5 523.5h7.4M307.5 525.6h7.4M307.5 527.6h7.4M307.5 529.6h7.4M307.5 531.6h7.4M307.5 533.6h7.4M307.5 535.6h7.4M307.5 537.6h7.4M307.5 539.6h7.4M307.5 541.7h7.4M307.5 543.7h7.4M307.5 545.7h7.4M307.5 547.7h7.4M307.5 549.7h7.4M316.5 466.7h7.4M316.5 468.7h7.4M316.5 470.7h7.4M316.5 472.7h7.4M316.5 474.7h7.4M316.5 476.7h7.4M316.5 478.7h7.4M316.5 480.7h7.4M316.5 482.7h7.4M316.5 484.7h7.4M316.5 486.7h7.4M316.5 488.7h7.4M316.5 490.7h7.4M316.5 492.7h7.4M316.5 494.7h7.4M316.5 496.7h7.4M316.5 498.7h7.4M316.5 500.7h7.4M316.5 502.7h7.4M316.5 504.7h7.4M316.5 506.7h7.4M316.5 508.7h7.4M316.5 510.7h7.4M316.5 512.7h7.4M316.5 514.7h7.4M316.5 516.6h7.4M316.5 518.6h7.4M316.5 520.6h7.4M316.5 522.6h7.4M316.5 524.6h7.4M316.5 526.6h7.4M316.5 528.6h7.4M316.5 530.6h7.4M316.5 532.6h7.4M316.5 534.6h7.4M316.5 536.6h7.4M316.5 538.6h7.4M316.5 540.6h7.4M316.5 542.6h7.4M316.5 544.6h7.4M316.5 546.6h7.4M316.5 548.6h7.4M316.5 550.6h7.4M316.5 552.6h7.4M316.5 554.6h7.4M316.5 556.6h7.4M316.5 558.6h7.4M316.5 560.6h7.4M316.5 562.6h7.4M316.5 564.6h7.4M365.5 412.4h7.4M365.5 414.4h7.4M365.5 416.4h7.4M365.5 418.4h7.4M365.5 420.4h7.4M365.5 422.4h7.4M365.5 424.4h7.4M365.5 426.4h7.4M365.5 428.4h7.4M365.5 430.4h7.4M365.5 432.4h7.4M365.5 434.4h7.4M365.5 436.4h7.4M365.5 438.4h7.4M365.5 440.4h7.4M365.5 442.4h7.4M365.5 444.4h7.4M365.5 446.4h7.4M365.5 448.4h7.4M365.5 450.4h7.4M365.5 452.4h7.4M365.5 454.4h7.4M365.5 456.4h7.4M365.5 458.4h7.4M365.5 460.4h7.4M365.5 462.4h7.4M365.5 464.4h7.4M365.5 466.4h7.4M365.5 468.4h7.4M365.5 470.4h7.4M365.5 472.4h7.4M365.5 474.4h7.4M365.5 476.3h7.4M365.5 478.3h7.4M365.5 480.3h7.4M365.5 482.3h7.4M365.5 484.3h7.4M365.5 486.3h7.4M365.5 488.3h7.4M365.5 490.3h7.4M365.5 492.3h7.4M365.5 494.3h7.4M365.5 496.3h7.4M365.5 498.3h7.4M365.5 500.3h7.4M365.5 502.3h7.4M365.5 504.3h7.4M365.5 506.3h7.4M365.5 508.3h7.4M365.5 510.3h7.4M365.5 512.3h7.4M365.5 514.3h7.4M365.5 516.3h7.4M365.5 518.3h7.4M365.5 520.3h7.4M365.5 522.3h7.4M365.5 524.3h7.4M365.5 526.3h7.4M365.5 528.3h7.4M365.5 530.3h7.4M365.5 532.3h7.4M365.5 534.3h7.4M365.5 536.3h7.4M365.5 538.3h7.4M365.5 540.3h7.4M377.1 459.0h7.4M377.1 461.0h7.4M377.1 463.0h7.4M377.1 464.9h7.4M377.1 466.9h7.4M377.1 468.9h7.4M377.1 470.9h7.4M377.1 472.9h7.4M377.1 474.9h7.4M377.1 476.8h7.4M377.1 478.8h7.4M377.1 480.8h7.4M377.1 482.8h7.4M377.1 484.8h7.4M377.1 486.8h7.4M377.1 488.7h7.4M377.1 490.7h7.4M377.1 492.7h7.4M377.1 494.7h7.4M377.1 496.7h7.4M377.1 498.7h7.4M377.1 500.6h7.4M377.1 502.6h7.4M377.1 504.6h7.4M377.1 506.6h7.4M377.1 508.6h7.4M377.1 510.6h7.4M377.1 512.5h7.4M377.1 514.5h7.4M377.1 516.5h7.4M377.1 518.5h7.4M377.1 520.5h7.4M377.1 522.5h7.4M377.1 524.4h7.4M377.1 526.4h7.4M377.1 528.4h7.4M377.1 530.4h7.4M377.1 532.4h7.4M377.1 534.4h7.4M377.1 536.3h7.4M377.1 538.3h7.4M377.1 540.3h7.4M386.4 412.4h7.4M386.4 414.4h7.4M386.4 416.4h7.4M386.4 418.4h7.4M386.4 420.4h7.4M386.4 422.4h7.4M386.4 424.4h7.4M386.4 426.4h7.4M386.4 428.4h7.4M386.4 430.4h7.4M386.4 432.4h7.4M386.4 434.4h7.4M386.4 436.4h7.4M386.4 438.4h7.4M386.4 440.4h7.4M386.4 442.4h7.4M386.4 444.4h7.4M386.4 446.4h7.4M386.4 448.4h7.4M386.4 450.4h7.4M386.4 452.4h7.4M386.4 454.4h7.4M386.4 456.4h7.4M386.4 458.4h7.4M386.4 460.4h7.4M386.4 462.4h7.4M386.4 464.4h7.4M386.4 466.4h7.4M386.4 468.4h7.4M386.4 470.4h7.4M386.4 472.4h7.4M386.4 474.4h7.4M386.4 476.3h7.4M386.4 478.3h7.4M386.4 480.3h7.4M386.4 482.3h7.4M386.4 484.3h7.4M386.4 486.3h7.4M386.4 488.3h7.4M386.4 490.3h7.4M386.4 492.3h7.4M386.4 494.3h7.4M386.4 496.3h7.4M386.4 498.3h7.4M386.4 500.3h7.4M386.4 502.3h7.4M386.4 504.3h7.4M386.4 506.3h7.4M386.4 508.3h7.4M386.4 510.3h7.4M386.4 512.3h7.4M386.4 514.3h7.4M386.4 516.3h7.4M386.4 518.3h7.4M386.4 520.3h7.4M386.4 522.3h7.4M386.4 524.3h7.4M386.4 526.3h7.4M386.4 528.3h7.4M386.4 530.3h7.4M386.4 532.3h7.4M386.4 534.3h7.4M386.4 536.3h7.4M386.4 538.3h7.4M386.4 540.3h7.4M447.1 392.4h7.4M447.1 394.4h7.4M447.1 396.4h7.4M447.1 398.4h7.4M447.1 400.4h7.4M447.1 402.5h7.4M447.1 404.5h7.4M447.1 406.5h7.4M447.1 408.5h7.4M447.1 410.5h7.4M447.1 412.5h7.4M447.1 414.5h7.4M447.1 416.5h7.4M447.1 418.6h7.4M447.1 420.6h7.4M447.1 422.6h7.4M447.1 424.6h7.4M447.1 426.6h7.4M447.1 428.6h7.4M447.1 430.6h7.4M447.1 432.6h7.4M447.1 434.6h7.4M447.1 436.7h7.4M447.1 438.7h7.4M447.1 440.7h7.4M447.1 442.7h7.4M447.1 444.7h7.4M447.1 446.7h7.4M447.1 448.7h7.4M447.1 450.7h7.4M447.1 452.8h7.4M447.1 454.8h7.4M447.1 456.8h7.4M447.1 458.8h7.4M447.1 460.8h7.4M447.1 462.8h7.4M447.1 464.8h7.4M447.1 466.8h7.4M447.1 468.8h7.4M447.1 470.9h7.4M447.1 472.9h7.4M447.1 474.9h7.4M447.1 476.9h7.4M447.1 478.9h7.4M447.1 480.9h7.4M447.1 482.9h7.4M447.1 484.9h7.4M447.1 487.0h7.4M447.1 489.0h7.4M447.1 491.0h7.4M447.1 493.0h7.4M447.1 495.0h7.4M456.3 386.6h7.4M456.3 388.6h7.4M456.3 390.6h7.4M456.3 392.6h7.4M456.3 394.6h7.4M456.3 396.6h7.4M456.3 398.6h7.4M456.3 400.7h7.4M456.3 402.7h7.4M456.3 404.7h7.4M456.3 406.7h7.4M456.3 408.7h7.4M456.3 410.7h7.4M456.3 412.7h7.4M456.3 414.7h7.4M456.3 416.7h7.4M456.3 418.7h7.4M456.3 420.7h7.4M456.3 422.7h7.4M456.3 424.7h7.4M456.3 426.8h7.4M456.3 428.8h7.4M456.3 430.8h7.4M456.3 432.8h7.4M456.3 434.8h7.4M456.3 436.8h7.4M456.3 438.8h7.4M456.3 440.8h7.4M456.3 442.8h7.4M456.3 444.8h7.4M456.3 446.8h7.4M456.3 448.8h7.4M456.3 450.8h7.4M456.3 452.8h7.4M456.3 454.9h7.4M456.3 456.9h7.4M456.3 458.9h7.4M456.3 460.9h7.4M456.3 462.9h7.4M456.3 464.9h7.4M456.3 466.9h7.4M456.3 468.9h7.4M456.3 470.9h7.4M456.3 472.9h7.4M456.3 474.9h7.4M456.3 476.9h7.4M456.3 478.9h7.4M456.3 481.0h7.4M456.3 483.0h7.4M456.3 485.0h7.4M456.3 487.0h7.4M456.3 489.0h7.4M456.3 491.0h7.4M456.3 493.0h7.4M516.7 422.0h7.4M516.7 424.0h7.4M516.7 426.0h7.4M516.7 428.0h7.4M516.7 430.0h7.4M516.7 432.0h7.4M516.7 434.0h7.4M516.7 436.0h7.4M516.7 438.0h7.4M516.7 440.1h7.4M516.7 442.1h7.4M516.7 444.1h7.4M516.7 446.1h7.4M516.7 448.1h7.4M516.7 450.1h7.4M516.7 452.1h7.4M516.7 454.1h7.4M516.7 456.1h7.4M516.7 458.1h7.4M516.7 460.1h7.4M516.7 462.1h7.4M516.7 464.1h7.4M516.7 466.1h7.4M516.7 468.1h7.4M516.7 470.1h7.4M516.7 472.1h7.4M516.7 474.1h7.4M516.7 476.2h7.4M516.7 478.2h7.4M516.7 480.2h7.4M516.7 482.2h7.4M516.7 484.2h7.4M516.7 486.2h7.4M516.7 488.2h7.4M516.7 490.2h7.4M516.7 492.2h7.4M516.7 494.2h7.4M516.7 496.2h7.4M516.7 498.2h7.4M516.7 500.2h7.4M516.7 502.2h7.4M516.7 504.2h7.4M516.7 506.2h7.4M516.7 508.2h7.4M516.7 510.3h7.4M516.7 512.3h7.4M516.7 514.3h7.4M516.7 516.3h7.4M516.7 518.3h7.4M516.7 520.3h7.4M516.7 522.3h7.4M516.7 524.3h7.4M516.7 526.3h7.4M525.5 423.6h7.4M525.5 425.6h7.4M525.5 427.6h7.4M525.5 429.6h7.4M525.5 431.5h7.4M525.5 433.5h7.4M525.5 435.5h7.4M525.5 437.5h7.4M525.5 439.5h7.4M525.5 441.4h7.4M525.5 443.4h7.4M525.5 445.4h7.4M525.5 447.4h7.4M525.5 449.4h7.4M525.5 451.4h7.4M525.5 453.4h7.4M525.5 455.3h7.4M525.5 457.3h7.4M525.5 459.3h7.4M525.5 461.3h7.4M525.5 463.3h7.4M525.5 465.2h7.4M525.5 467.2h7.4M525.5 469.2h7.4M525.5 471.2h7.4M525.5 473.2h7.4M525.5 475.2h7.4M525.5 477.1h7.4M525.5 479.1h7.4M525.5 481.1h7.4M525.5 483.1h7.4M525.5 485.1h7.4M525.5 487.1h7.4M525.5 489.0h7.4M525.5 491.0h7.4M525.5 493.0h7.4M525.5 495.0h7.4M525.5 497.0h7.4M525.5 499.0h7.4M525.5 500.9h7.4M525.5 502.9h7.4M525.5 504.9h7.4M525.5 506.9h7.4M525.5 508.9h7.4M525.5 510.9h7.4M525.5 512.8h7.4M525.5 514.8h7.4M525.5 516.8h7.4M525.5 518.8h7.4" stroke="#ff0000" stroke-width="2.4" fill="none"/><path d="M232.1 495.9v7.4M232.1 500.8v7.4M232.1 502.8v7.4M232.1 504.8v7.4M232.1 506.8v7.4M232.1 508.8v7.4M232.1 510.7v7.4M232.1 512.7v7.4M232.1 514.7v7.4M232.1 516.7v7.4M232.1 518.7v7.4M232.1 520.7v7.4M232.1 522.7v7.4M232.1 524.6v7.4M232.1 526.6v7.4M232.1 528.6v7.4M232.1 530.6v7.4M232.1 532.6v7.4M232.1 534.6v7.4M232.1 536.6v7.4M232.1 538.6v7.4M232.1 540.5v7.4M232.1 542.5v7.4M232.1 544.5v7.4M232.1 546.5v7.4M232.1 548.5v7.4M232.1 550.5v7.4M232.1 552.5v7.4M232.1 554.5v7.4M232.1 556.4v7.4M232.1 558.4v7.4M232.1 560.4v7.4M232.1 562.4v7.4M232.1 564.4v7.4M232.1 566.4v7.4M232.1 568.4v7.4M232.1 570.4v7.4M232.1 572.3v7.4M232.1 574.3v7.4M232.1 576.3v7.4M232.1 578.3v7.4M232.1 580.3v7.4M232.1 585.8v7.4M232.1 589.1v7.4M232.1 592.3v7.4M232.1 595.6v7.4M232.1 598.9v7.4M241.2 488.3v7.4M241.2 493.5v7.4M241.2 500.1v7.4M241.2 502.1v7.4M241.2 504.1v7.4M241.2 506.1v7.4M241.2 508.1v7.4M241.2 510.1v7.4M241.2 512.1v7.4M241.2 514.1v7.4M241.2 516.1v7.4M241.2 518.1v7.4M241.2 520.1v7.4M241.2 522.2v7.4M241.2 524.2v7.4M241.2 526.2v7.4M241.2 528.2v7.4M241.2 530.2v7.4M241.2 532.2v7.4M241.2 534.2v7.4M241.2 536.2v7.4M241.2 538.2v7.4M241.2 540.2v7.4M241.2 542.2v7.4M241.2 544.2v7.4M241.2 546.2v7.4M241.2 548.2v7.4M241.2 550.2v7.4M241.2 552.2v7.4M241.2 554.2v7.4M241.2 556.2v7.4M241.2 558.2v7.4M241.2 560.2v7.4M241.2 562.3v7.4M241.2 564.3v7.4M241.2 566.3v7.4M241.2 568.3v7.4M241.2 570.3v7.4M241.2 572.3v7.4M241.2 574.3v7.4M241.2 576.3v7.4M241.2 578.3v7.4M241.2 580.3v7.4M241.2 586.8v7.4M241.2 590.6v7.4M241.2 594.5v7.4M241.2 598.3v7.4M253.0 502.2v7.4M253.0 507.4v7.4M253.0 515.4v7.4M253.0 517.4v7.4M253.0 519.4v7.4M253.0 521.4v7.4M253.0 523.4v7.4M253.0 525.4v7.4M253.0 527.4v7.4M253.0 529.4v7.4M253.0 531.4v7.4M253.0 533.4v7.4M253.0 535.4v7.4M253.0 537.4v7.4M253.0 539.4v7.4M253.0 541.4v7.4M253.0 543.3v7.4M253.0 545.3v7.4M253.0 547.3v7.4M253.0 549.3v7.4M253.0 551.3v7.4M253.0 553.3v7.4M253.0 555.3v7.4M253.0 557.3v7.4M253.0 559.3v7.4M253.0 561.3v7.4M253.0 563.3v7.4M253.0 565.3v7.4M253.0 567.3v7.4M253.0 569.3v7.4M253.0 571.3v7.4M253.0 571.3v7.4M253.0 574.3v7.4M253.0 577.3v7.4M253.0 580.3v7.4M253.0 584.0v7.4M253.0 587.0v7.4M253.0 590.0v7.4M253.0 593.1v7.4M253.0 596.1v7.4M301.6 470.3v7.4M301.6 475.3v7.4M301.6 482.1v7.4M301.6 490.9v7.4M301.6 498.3v7.4M301.6 500.4v7.4M301.6 502.4v7.4M301.6 504.4v7.4M301.6 506.5v7.4M301.6 508.6v7.4M301.6 510.6v7.4M301.6 512.6v7.4M301.6 514.7v7.4M301.6 516.8v7.4M301.6 518.8v7.4M301.6 520.8v7.4M301.6 522.9v7.4M301.6 524.9v7.4M301.6 527.0v7.4M301.6 529.0v7.4M301.6 531.1v7.4M301.6 533.1v7.4M301.6 535.2v7.4M301.6 537.2v7.4M301.6 539.3v7.4M301.6 542.3v7.4M301.6 549.3v7.4M301.6 572.5v7.4M311.2 461.3v7.4M311.2 464.8v7.4M311.2 468.3v7.4M311.2 474.3v7.4M311.2 479.3v7.4M311.2 486.3v7.4M311.2 493.7v7.4M311.2 495.7v7.4M311.2 497.7v7.4M311.2 499.7v7.4M311.2 501.7v7.4M311.2 503.8v7.4M311.2 505.8v7.4M311.2 507.8v7.4M311.2 509.8v7.4M311.2 511.8v7.4M311.2 513.8v7.4M311.2 515.8v7.4M311.2 517.8v7.4M311.2 519.8v7.4M311.2 521.9v7.4M311.2 523.9v7.4M311.2 525.9v7.4M311.2 527.9v7.4M311.2 529.9v7.4M311.2 531.9v7.4M311.2 533.9v7.4M311.2 535.9v7.4M311.2 538.0v7.4M311.2 540.0v7.4M311.2 542.0v7.4M311.2 544.0v7.4M311.2 546.0v7.4M311.2 551.6v7.4M311.2 559.1v7.4M311.2 574.8v7.4M311.2 581.8v7.4M320.2 453.7v7.4M320.2 463.0v7.4M320.2 465.0v7.4M320.2 467.0v7.4M320.2 469.0v7.4M320.2 471.0v7.4M320.2 473.0v7.4M320.2 475.0v7.4M320.2 477.0v7.4M320.2 479.0v7.4M320.2 481.0v7.4M320.2 483.0v7.4M320.2 485.0v7.4M320.2 487.0v7.4M320.2 489.0v7.4M320.2 491.0v7.4M320.2 493.0v7.4M320.2 495.0v7.4M320.2 497.0v7.4M320.2 499.0v7.4M320.2 501.0v7.4M320.2 503.0v7.4M320.2 505.0v7.4M320.2 507.0v7.4M320.2 509.0v7.4M320.2 511.0v7.4M320.2 512.9v7.4M320.2 514.9v7.4M320.2 516.9v7.4M320.2 518.9v7.4M320.2 520.9v7.4M320.2 522.9v7.4M320.2 524.9v7.4M320.2 526.9v7.4M320.2 528.9v7.4M320.2 530.9v7.4M320.2 532.9v7.4M320.2 534.9v7.4M320.2 536.9v7.4M320.2 538.9v7.4M320.2 540.9v7.4M320.2 542.9v7.4M320.2 544.9v7.4M320.2 546.9v7.4M320.2 548.9v7.4M320.2 550.9v7.4M320.2 552.9v7.4M320.2 554.9v7.4M320.2 556.9v7.4M320.2 558.9v7.4M320.2 560.9v7.4M320.2 571.1v7.4M320.2 575.0v7.4M320.2 578.8v7.4M320.2 582.7v7.4M369.2 408.7v7.4M369.2 410.7v7.4M369.2 412.7v7.4M369.2 414.7v7.4M369.2 416.7v7.4M369.2 418.7v7.4M369.2 420.7v7.4M369.2 422.7v7.4M369.2 424.7v7.4M369.2 426.7v7.4M369.2 428.7v7.4M369.2 430.7v7.4M369.2 432.7v7.4M369.2 434.7v7.4M369.2 436.7v7.4M369.2 438.7v7.4M369.2 440.7v7.4M369.2 442.7v7.4M369.2 444.7v7.4M369.2 446.7v7.4M369.2 448.7v7.4M369.2 450.7v7.4M369.2 452.7v7.4M369.2 454.7v7.4M369.2 456.7v7.4M369.2 458.7v7.4M369.2 460.7v7.4M369.2 462.7v7.4M369.2 464.7v7.4M369.2 466.7v7.4M369.2 468.7v7.4M369.2 470.7v7.4M369.2 472.6v7.4M369.2 474.6v7.4M369.2 476.6v7.4M369.2 478.6v7.4M369.2 480.6v7.4M369.2 482.6v7.4M369.2 484.6v7.4M369.2 486.6v7.4M369.2 488.6v7.4M369.2 490.6v7.4M369.2 492.6v7.4M369.2 494.6v7.4M369.2 496.6v7.4M369.2 498.6v7.4M369.2 500.6v7.4M369.2 502.6v7.4M369.2 504.6v7.4M369.2 506.6v7.4M369.2 508.6v7.4M369.2 510.6v7.4M369.2 512.6v7.4M369.2 514.6v7.4M369.2 516.6v7.4M369.2 518.6v7.4M369.2 520.6v7.4M369.2 522.6v7.4M369.2 524.6v7.4M369.2 526.6v7.4M369.2 528.6v7.4M369.2 530.6v7.4M369.2 532.6v7.4M369.2 534.6v7.4M369.2 536.6v7.4M369.2 558.3v7.4M369.2 561.3v7.4M369.2 564.4v7.4M369.2 567.5v7.4M369.2 570.5v7.4M380.8 411.5v7.4M380.8 415.0v7.4M380.8 418.4v7.4M380.8 421.9v7.4M380.8 425.3v7.4M380.8 428.8v7.4M380.8 432.2v7.4M380.8 435.7v7.4M380.8 441.3v7.4M380.8 444.8v7.4M380.8 448.3v7.4M380.8 451.8v7.4M380.8 455.3v7.4M380.8 455.3v7.4M380.8 457.3v7.4M380.8 459.3v7.4M380.8 461.2v7.4M380.8 463.2v7.4M380.8 465.2v7.4M380.8 467.2v7.4M380.8 469.2v7.4M380.8 471.2v7.4M380.8 473.1v7.4M380.8 475.1v7.4M380.8 477.1v7.4M380.8 479.1v7.4M380.8 481.1v7.4M380.8 483.1v7.4M380.8 485.0v7.4M380.8 487.0v7.4M380.8 489.0v7.4M380.8 491.0v7.4M380.8 493.0v7.4M380.8 495.0v7.4M380.8 496.9v7.4M380.8 498.9v7.4M380.8 500.9v7.4M380.8 502.9v7.4M380.8 504.9v7.4M380.8 506.9v7.4M380.8 508.8v7.4M380.8 510.8v7.4M380.8 512.8v7.4M380.8 514.8v7.4M380.8 516.8v7.4M380.8 518.8v7.4M380.8 520.7v7.4M380.8 522.7v7.4M380.8 524.7v7.4M380.8 526.7v7.4M380.8 528.7v7.4M380.8 530.7v7.4M380.8 532.6v7.4M380.8 534.6v7.4M380.8 536.6v7.4M380.8 558.3v7.4M380.8 561.3v7.4M380.8 564.4v7.4M380.8 567.5v7.4M380.8 570.5v7.4M390.1 408.7v7.4M390.1 410.7v7.4M390.1 412.7v7.4M390.1 414.7v7.4M390.1 416.7v7.4M390.1 418.7v7.4M390.1 420.7v7.4M390.1 422.7v7.4M390.1 424.7v7.4M390.1 426.7v7.4M390.1 428.7v7.4M390.1 430.7v7.4M390.1 432.7v7.4M390.1 434.7v7.4M390.1 436.7v7.4M390.1 438.7v7.4M390.1 440.7v7.4M390.1 442.7v7.4M390.1 444.7v7.4M390.1 446.7v7.4M390.1 448.7v7.4M390.1 450.7v7.4M390.1 452.7v7.4M390.1 454.7v7.4M390.1 456.7v7.4M390.1 458.7v7.4M390.1 460.7v7.4M390.1 462.7v7.4M390.1 464.7v7.4M390.1 466.7v7.4M390.1 468.7v7.4M390.1 470.7v7.4M390.1 472.6v7.4M390.1 474.6v7.4M390.1 476.6v7.4M390.1 478.6v7.4M390.1 480.6v7.4M390.1 482.6v7.4M390.1 484.6v7.4M390.1 486.6v7.4M390.1 488.6v7.4M390.1 490.6v7.4M390.1 492.6v7.4M390.1 494.6v7.4M390.1 496.6v7.4M390.1 498.6v7.4M390.1 500.6v7.4M390.1 502.6v7.4M390.1 504.6v7.4M390.1 506.6v7.4M390.1 508.6v7.4M390.1 510.6v7.4M390.1 512.6v7.4M390.1 514.6v7.4M390.1 516.6v7.4M390.1 518.6v7.4M390.1 520.6v7.4M390.1 522.6v7.4M390.1 524.6v7.4M390.1 526.6v7.4M390.1 528.6v7.4M390.1 530.6v7.4M390.1 532.6v7.4M390.1 534.6v7.4M390.1 536.6v7.4M390.1 558.3v7.4M390.1 561.3v7.4M390.1 564.4v7.4M390.1 567.5v7.4M390.1 570.5v7.4M439.3 381.6v7.4M439.3 386.1v7.4M439.3 397.6v7.4M439.3 402.1v7.4M439.3 418.3v7.4M439.3 422.3v7.4M439.3 431.5v7.4M439.3 434.8v7.4M439.3 438.1v7.4M439.3 441.5v7.4M439.3 444.8v7.4M439.3 448.1v7.4M439.3 457.1v7.4M439.3 460.5v7.4M439.3 463.9v7.4M439.3 467.3v7.4M439.3 482.3v7.4M439.3 507.4v7.4M439.3 515.8v7.4M439.3 519.8v7.4M439.3 531.1v7.4M439.3 554.0v7.4M439.3 579.8v7.4M450.8 382.3v7.4M450.8 388.7v7.4M450.8 390.7v7.4M450.8 392.7v7.4M450.8 394.7v7.4M450.8 396.7v7.4M450.8 398.8v7.4M450.8 400.8v7.4M450.8 402.8v7.4M450.8 404.8v7.4M450.8 406.8v7.4M450.8 408.8v7.4M450.8 410.8v7.4M450.8 412.8v7.4M450.8 414.9v7.4M450.8 416.9v7.4M450.8 418.9v7.4M450.8 420.9v7.4M450.8 422.9v7.4M450.8 424.9v7.4M450.8 426.9v7.4M450.8 428.9v7.4M450.8 430.9v7.4M450.8 433.0v7.4M450.8 435.0v7.4M450.8 437.0v7.4M450.8 439.0v7.4M450.8 441.0v7.4M450.8 443.0v7.4M450.8 445.0v7.4M450.8 447.0v7.4M450.8 449.1v7.4M450.8 451.1v7.4M450.8 453.1v7.4M450.8 455.1v7.4M450.8 457.1v7.4M450.8 459.1v7.4M450.8 461.1v7.4M450.8 463.1v7.4M450.8 465.1v7.4M450.8 467.2v7.4M450.8 469.2v7.4M450.8 471.2v7.4M450.8 473.2v7.4M450.8 475.2v7.4M450.8 477.2v7.4M450.8 479.2v7.4M450.8 481.2v7.4M450.8 483.3v7.4M450.8 485.3v7.4M450.8 487.3v7.4M450.8 489.3v7.4M450.8 491.3v7.4M450.8 500.4v7.4M450.8 503.9v7.4M450.8 507.4v7.4M450.8 510.9v7.4M450.8 514.4v7.4M450.8 517.8v7.4M450.8 521.3v7.4M450.8 524.8v7.4M450.8 528.3v7.4M450.8 531.8v7.4M450.8 538.0v7.4M450.8 554.0v7.4M450.8 570.1v7.4M450.8 579.8v7.4M460.0 372.1v7.4M460.0 379.1v7.4M460.0 382.9v7.4M460.0 384.9v7.4M460.0 386.9v7.4M460.0 388.9v7.4M460.0 390.9v7.4M460.0 392.9v7.4M460.0 394.9v7.4M460.0 397.0v7.4M460.0 399.0v7.4M460.0 401.0v7.4M460.0 403.0v7.4M460.0 405.0v7.4M460.0 407.0v7.4M460.0 409.0v7.4M460.0 411.0v7.4M460.0 413.0v7.4M460.0 415.0v7.4M460.0 417.0v7.4M460.0 419.0v7.4M460.0 421.0v7.4M460.0 423.1v7.4M460.0 425.1v7.4M460.0 427.1v7.4M460.0 429.1v7.4M460.0 431.1v7.4M460.0 433.1v7.4M460.0 435.1v7.4M460.0 437.1v7.4M460.0 439.1v7.4M460.0 441.1v7.4M460.0 443.1v7.4M460.0 445.1v7.4M460.0 447.1v7.4M460.0 449.1v7.4M460.0 451.2v7.4M460.0 453.2v7.4M460.0 455.2v7.4M460.0 457.2v7.4M460.0 459.2v7.4M460.0 461.2v7.4M460.0 463.2v7.4M460.0 465.2v7.4M460.0 467.2v7.4M460.0 469.2v7.4M460.0 471.2v7.4M460.0 473.2v7.4M460.0 475.2v7.4M460.0 477.3v7.4M460.0 479.3v7.4M460.0 481.3v7.4M460.0 483.3v7.4M460.0 485.3v7.4M460.0 487.3v7.4M460.0 489.3v7.4M460.0 496.3v7.4M460.0 501.1v7.4M460.0 504.3v7.4M460.0 507.6v7.4M460.0 510.8v7.4M460.0 514.1v7.4M460.0 517.3v7.4M460.0 520.6v7.4M460.0 523.8v7.4M460.0 527.1v7.4M460.0 530.3v7.4M460.0 541.5v7.4M460.0 547.1v7.4M460.0 561.0v7.4M460.0 577.0v7.4M508.8 425.9v7.4M508.8 429.3v7.4M508.8 432.7v7.4M508.8 436.1v7.4M508.8 439.5v7.4M508.8 450.3v7.4M508.8 455.3v7.4M508.8 462.2v7.4M508.8 465.6v7.4M508.8 468.9v7.4M508.8 472.3v7.4M508.8 475.7v7.4M508.8 479.0v7.4M508.8 482.4v7.4M508.8 485.8v7.4M508.8 489.2v7.4M508.8 492.5v7.4M508.8 495.9v7.4M508.8 499.3v7.4M508.8 502.6v7.4M508.8 506.0v7.4M508.8 521.9v7.4M520.4 413.9v7.4M520.4 418.3v7.4M520.4 420.3v7.4M520.4 422.3v7.4M520.4 424.3v7.4M520.4 426.3v7.4M520.4 428.3v7.4M520.4 430.3v7.4M520.4 432.3v7.4M520.4 434.3v7.4M520.4 436.4v7.4M520.4 438.4v7.4M520.4 440.4v7.4M520.4 442.4v7.4M520.4 444.4v7.4M520.4 446.4v7.4M520.4 448.4v7.4M520.4 450.4v7.4M520.4 452.4v7.4M520.4 454.4v7.4M520.4 456.4v7.4M520.4 458.4v7.4M520.4 460.4v7.4M520.4 462.4v7.4M520.4 464.4v7.4M520.4 466.4v7.4M520.4 468.4v7.4M520.4 470.4v7.4M520.4 472.5v7.4M520.4 474.5v7.4M520.4 476.5v7.4M520.4 478.5v7.4M520.4 480.5v7.4M520.4 482.5v7.4M520.4 484.5v7.4M520.4 486.5v7.4M520.4 488.5v7.4M520.4 490.5v7.4M520.4 492.5v7.4M520.4 494.5v7.4M520.4 496.5v7.4M520.4 498.5v7.4M520.4 500.5v7.4M520.4 502.5v7.4M520.4 504.5v7.4M520.4 506.6v7.4M520.4 508.6v7.4M520.4 510.6v7.4M520.4 512.6v7.4M520.4 514.6v7.4M520.4 516.6v7.4M520.4 518.6v7.4M520.4 520.6v7.4M520.4 522.6v7.4M520.4 530.9v7.4M529.2 419.9v7.4M529.2 421.9v7.4M529.2 423.9v7.4M529.2 425.9v7.4M529.2 427.8v7.4M529.2 429.8v7.4M529.2 431.8v7.4M529.2 433.8v7.4M529.2 435.8v7.4M529.2 437.8v7.4M529.2 439.7v7.4M529.2 441.7v7.4M529.2 443.7v7.4M529.2 445.7v7.4M529.2 447.7v7.4M529.2 449.7v7.4M529.2 451.6v7.4M529.2 453.6v7.4M529.2 455.6v7.4M529.2 457.6v7.4M529.2 459.6v7.4M529.2 461.6v7.4M529.2 463.5v7.4M529.2 465.5v7.4M529.2 467.5v7.4M529.2 469.5v7.4M529.2 471.5v7.4M529.2 473.4v7.4M529.2 475.4v7.4M529.2 477.4v7.4M529.2 479.4v7.4M529.2 481.4v7.4M529.2 483.4v7.4M529.2 485.3v7.4M529.2 487.3v7.4M529.2 489.3v7.4M529.2 491.3v7.4M529.2 493.3v7.4M529.2 495.3v7.4M529.2 497.2v7.4M529.2 499.2v7.4M529.2 501.2v7.4M529.2 503.2v7.4M529.2 505.2v7.4M529.2 507.2v7.4M529.2 509.1v7.4M529.2 511.1v7.4M529.2 513.1v7.4M529.2 515.1v7.4M529.2 521.1v7.4M529.2 528.7v7.4M578.8 328.3v7.4M578.8 337.9v7.4M578.8 341.1v7.4M578.8 344.3v7.4M578.8 347.5v7.4M578.8 350.7v7.4M578.8 357.1v7.4M578.8 360.6v7.4M578.8 364.0v7.4M578.8 367.5v7.4M578.8 370.9v7.4M578.8 374.4v7.4M578.8 377.8v7.4M578.8 381.3v7.4M578.8 381.3v7.4M578.8 383.9v7.4M578.8 386.5v7.4M578.8 389.1v7.4M578.8 391.7v7.4M578.8 394.3v7.4M578.8 396.9v7.4M578.8 399.5v7.4M578.8 402.1v7.4M578.8 404.6v7.4M578.8 407.2v7.4M578.8 409.8v7.4M578.8 412.4v7.4M578.8 415.0v7.4M578.8 417.6v7.4M578.8 420.2v7.4M578.8 422.8v7.4M578.8 425.4v7.4M578.8 428.0v7.4M578.8 430.6v7.4M578.8 433.2v7.4M578.8 435.8v7.4M578.8 438.4v7.4M578.8 441.0v7.4M578.8 443.6v7.4M578.8 446.2v7.4M578.8 448.7v7.4M578.8 451.3v7.4M578.8 453.9v7.4M578.8 456.5v7.4M578.8 459.1v7.4M578.8 461.7v7.4M578.8 464.3v7.4M578.8 466.9v7.4M578.8 469.5v7.4M578.8 472.1v7.4M578.8 474.7v7.4M578.8 477.3v7.4M578.8 479.9v7.4M578.8 482.5v7.4M578.8 485.1v7.4M578.8 487.7v7.4M578.8 490.3v7.4M578.8 492.8v7.4M578.8 495.4v7.4M578.8 498.0v7.4M578.8 500.6v7.4M578.8 503.2v7.4M578.8 505.8v7.4M578.8 508.4v7.4M578.8 511.0v7.4M578.8 513.6v7.4M588.4 326.3v7.4M588.4 329.6v7.4M588.4 333.0v7.4M588.4 336.3v7.4M588.4 339.6v7.4M588.4 343.0v7.4M588.4 346.3v7.4M588.4 349.6v7.4M588.4 353.0v7.4M588.4 356.3v7.4M588.4 356.3v7.4M588.4 358.9v7.4M588.4 361.5v7.4M588.4 364.1v7.4M588.4 366.7v7.4M588.4 369.3v7.4M588.4 371.9v7.4M588.4 374.5v7.4M588.4 377.1v7.4M588.4 379.7v7.4M588.4 382.3v7.4M588.4 384.9v7.4M588.4 387.5v7.4M588.4 390.1v7.4M588.4 392.7v7.4M588.4 395.3v7.4M588.4 397.9v7.4M588.4 400.5v7.4M588.4 403.1v7.4M588.4 405.7v7.4M588.4 408.3v7.4M588.4 410.9v7.4M588.4 413.5v7.4M588.4 416.1v7.4M588.4 418.7v7.4M588.4 421.3v7.4M588.4 423.9v7.4M588.4 426.5v7.4M588.4 429.1v7.4M588.4 431.7v7.4M588.4 434.3v7.4M588.4 436.9v7.4M588.4 439.5v7.4M588.4 442.1v7.4M588.4 444.7v7.4M588.4 447.3v7.4M588.4 449.9v7.4M588.4 452.5v7.4M588.4 455.1v7.4M588.4 457.7v7.4M588.4 460.3v7.4M588.4 462.9v7.4M588.4 465.5v7.4M588.4 468.1v7.4M588.4 470.7v7.4M588.4 473.3v7.4M588.4 475.9v7.4M588.4 478.5v7.4M588.4 481.1v7.4M588.4 483.7v7.4M588.4 486.3v7.4M588.4 488.9v7.4M588.4 491.5v7.4M588.4 494.1v7.4M588.4 496.7v7.4M588.4 499.3v7.4M588.4 501.9v7.4M588.4 504.5v7.4M588.4 507.1v7.4M588.4 509.7v7.4M588.4 512.3v7.4M599.9 359.3v7.4M599.9 364.8v7.4M599.9 375.0v7.4M599.9 381.4v7.4M599.9 396.7v7.4M599.9 400.0v7.4M599.9 403.4v7.4M599.9 406.7v7.4M599.9 410.1v7.4M599.9 413.4v7.4M599.9 416.7v7.4M599.9 420.1v7.4M599.9 423.4v7.4M599.9 426.8v7.4M599.9 430.1v7.4M599.9 433.5v7.4M599.9 436.8v7.4M599.9 440.1v7.4M599.9 443.5v7.4M599.9 446.8v7.4M599.9 450.2v7.4M599.9 453.5v7.4M599.9 467.6v7.4M599.9 477.2v7.4M599.9 485.5v7.4M599.9 488.9v7.4M599.9 492.2v7.4M599.9 495.6v7.4M599.9 498.9v7.4M599.9 502.2v7.4M599.9 505.6v7.4M599.9 508.9v7.4M599.9 512.3v7.4M648.5 308.8v7.4M648.5 314.8v7.4M648.5 325.6v7.4M648.5 332.6v7.4M648.5 346.7v7.4M648.5 364.0v7.4M648.5 367.8v7.4M648.5 371.7v7.4M648.5 375.5v7.4M648.5 383.1v7.4M648.5 388.3v7.4M648.5 398.5v7.4M648.5 401.1v7.4M648.5 403.6v7.4M648.5 418.7v7.4M648.5 433.4v7.4M648.5 445.5v7.4M648.5 448.8v7.4M648.5 452.1v7.4M648.5 455.4v7.4M648.5 458.7v7.4M648.5 462.0v7.4M648.5 465.3v7.4M648.5 468.6v7.4M648.5 471.9v7.4M648.5 475.2v7.4M648.5 478.5v7.4M648.5 481.8v7.4M648.5 485.1v7.4M648.5 488.4v7.4M658.0 311.5v7.4M658.0 314.8v7.4M658.0 318.1v7.4M658.0 321.4v7.4M658.0 324.7v7.4M658.0 328.0v7.4M658.0 331.3v7.4M658.0 334.7v7.4M658.0 338.0v7.4M658.0 341.3v7.4M658.0 344.6v7.4M658.0 347.9v7.4M658.0 351.2v7.4M658.0 356.3v7.4M658.0 358.8v7.4M658.0 361.4v7.4M658.0 364.0v7.4M658.0 366.6v7.4M658.0 369.3v7.4M658.0 371.9v7.4M658.0 374.5v7.4M658.0 377.1v7.4M658.0 379.7v7.4M658.0 382.3v7.4M658.0 384.9v7.4M658.0 387.6v7.4M658.0 390.2v7.4M658.0 392.8v7.4M658.0 395.4v7.4M658.0 398.0v7.4M658.0 400.6v7.4M658.0 403.2v7.4M658.0 405.8v7.4M658.0 408.5v7.4M658.0 411.1v7.4M658.0 413.7v7.4M658.0 416.3v7.4M658.0 419.3v7.4M658.0 426.3v7.4M658.0 433.3v7.4M658.0 441.1v7.4M658.0 443.7v7.4M658.0 446.2v7.4M658.0 448.8v7.4M658.0 451.3v7.4M658.0 453.9v7.4M658.0 456.4v7.4M658.0 459.0v7.4M658.0 461.5v7.4M658.0 464.1v7.4M658.0 466.7v7.4M658.0 469.2v7.4M658.0 471.8v7.4M658.0 474.3v7.4M658.0 476.9v7.4M658.0 479.4v7.4M658.0 482.0v7.4M658.0 484.5v7.4M658.0 487.1v7.4M669.5 309.0v7.4M669.5 312.8v7.4M669.5 325.6v7.4M669.5 328.9v7.4M669.5 332.2v7.4M669.5 335.5v7.4M669.5 338.7v7.4M669.5 342.0v7.4M669.5 345.3v7.4M669.5 348.6v7.4M669.5 364.0v7.4M669.5 366.5v7.4M669.5 369.1v7.4M669.5 371.6v7.4M669.5 374.2v7.4M669.5 376.7v7.4M669.5 379.2v7.4M669.5 381.8v7.4M669.5 384.3v7.4M669.5 386.8v7.4M669.5 389.4v7.4M669.5 391.9v7.4M669.5 394.5v7.4M669.5 397.0v7.4M669.5 399.5v7.4M669.5 402.1v7.4M669.5 404.6v7.4M669.5 407.1v7.4M669.5 409.7v7.4M669.5 412.2v7.4M669.5 414.8v7.4M669.5 417.3v7.4M669.5 419.3v7.4M669.5 426.3v7.4M669.5 433.3v7.4M669.5 444.9v7.4M669.5 447.5v7.4M669.5 450.0v7.4M669.5 452.6v7.4M669.5 455.1v7.4M669.5 457.7v7.4M669.5 460.2v7.4M669.5 462.8v7.4M669.5 465.4v7.4M669.5 467.9v7.4M669.5 470.5v7.4M669.5 473.0v7.4M669.5 475.6v7.4M669.5 478.2v7.4M669.5 480.7v7.4M669.5 483.3v7.4M669.5 485.8v7.4M669.5 488.4v7.4M669.5 490.9v7.4M669.5 493.5v7.4M718.5 274.0v7.4M718.5 277.4v7.4M718.5 280.8v7.4M718.5 284.1v7.4M718.5 287.5v7.4M718.5 290.9v7.4M718.5 294.3v7.4M718.5 297.7v7.4M718.5 301.0v7.4M718.5 304.4v7.4M718.5 307.8v7.4M718.5 311.2v7.4M718.5 314.5v7.4M718.5 317.9v7.4M718.5 321.3v7.4M718.5 321.3v7.4M718.5 323.9v7.4M718.5 326.5v7.4M718.5 329.1v7.4M718.5 331.7v7.4M718.5 334.3v7.4M718.5 337.0v7.4M718.5 339.6v7.4M718.5 342.2v7.4M718.5 344.8v7.4M718.5 347.4v7.4M718.5 350.0v7.4M718.5 352.6v7.4M718.5 355.2v7.4M718.5 357.8v7.4M718.5 360.4v7.4M718.5 363.0v7.4M718.5 365.6v7.4M718.5 368.3v7.4M718.5 370.9v7.4M718.5 373.5v7.4M718.5 376.1v7.4M718.5 378.7v7.4M718.5 381.3v7.4M718.5 383.9v7.4M718.5 386.5v7.4M718.5 389.1v7.4M718.5 391.7v7.4M718.5 394.3v7.4M718.5 397.0v7.4M718.5 399.6v7.4M718.5 402.2v7.4M718.5 404.8v7.4M718.5 407.4v7.4M718.5 410.0v7.4M718.5 412.6v7.4M718.5 415.2v7.4M718.5 417.8v7.4M718.5 420.4v7.4M718.5 423.0v7.4M718.5 425.7v7.4M718.5 428.3v7.4M718.5 430.9v7.4M718.5 433.5v7.4M718.5 436.1v7.4M718.5 438.7v7.4M718.5 441.3v7.4M718.5 443.9v7.4M718.5 446.5v7.4M718.5 449.1v7.4M718.5 451.7v7.4M718.5 454.3v7.4M718.5 457.0v7.4M718.5 459.6v7.4M718.5 462.2v7.4M718.5 464.8v7.4M718.5 467.4v7.4M718.5 470.0v7.4M727.7 274.0v7.4M727.7 277.2v7.4M727.7 280.4v7.4M727.7 283.6v7.4M727.7 286.8v7.4M727.7 290.6v7.4M727.7 294.0v7.4M727.7 297.3v7.4M727.7 300.7v7.4M727.7 304.1v7.4M727.7 307.4v7.4M727.7 310.8v7.4M727.7 314.1v7.4M727.7 317.5v7.4M727.7 322.6v7.4M727.7 325.2v7.4M727.7 327.8v7.4M727.7 330.4v7.4M727.7 333.0v7.4M727.7 335.6v7.4M727.7 338.3v7.4M727.7 340.9v7.4M727.7 343.5v7.4M727.7 346.1v7.4M727.7 348.7v7.4M727.7 351.3v7.4M727.7 353.9v7.4M727.7 356.5v7.4M727.7 359.1v7.4M727.7 361.7v7.4M727.7 364.4v7.4M727.7 367.0v7.4M727.7 369.6v7.4M727.7 372.2v7.4M727.7 374.8v7.4M727.7 377.4v7.4M727.7 380.0v7.4M727.7 382.6v7.4M727.7 385.2v7.4M727.7 387.8v7.4M727.7 390.5v7.4M727.7 393.1v7.4M727.7 395.7v7.4M727.7 398.3v7.4M727.7 400.9v7.4M727.7 403.5v7.4M727.7 408.6v7.4M727.7 412.0v7.4M727.7 415.3v7.4M727.7 418.7v7.4M727.7 422.1v7.4M727.7 425.4v7.4M727.7 428.8v7.4M727.7 432.1v7.4M727.7 435.5v7.4M727.7 436.7v7.4M727.7 440.1v7.4M727.7 443.5v7.4M727.7 446.9v7.4M727.7 450.3v7.4M727.7 453.7v7.4M727.7 457.1v7.4M727.7 460.5v7.4M727.7 463.9v7.4M727.7 467.3v7.4M739.5 282.9v7.4M739.5 297.0v7.4M739.5 307.2v7.4M739.5 310.4v7.4M739.5 313.6v7.4M739.5 321.3v7.4M739.5 324.7v7.4M739.5 328.0v7.4M739.5 331.4v7.4M739.5 334.8v7.4M739.5 338.2v7.4M739.5 341.5v7.4M739.5 344.9v7.4M739.5 348.3v7.4M739.5 351.6v7.4M739.5 355.0v7.4M739.5 358.4v7.4M739.5 361.8v7.4M739.5 365.1v7.4M739.5 368.5v7.4M739.5 371.9v7.4M739.5 375.2v7.4M739.5 378.6v7.4M739.5 382.0v7.4M739.5 385.4v7.4M739.5 388.7v7.4M739.5 392.1v7.4M739.5 395.5v7.4M739.5 398.8v7.4M739.5 402.2v7.4M739.5 405.6v7.4M739.5 409.0v7.4M739.5 412.3v7.4M739.5 415.7v7.4M739.5 419.1v7.4M739.5 422.4v7.4M739.5 425.8v7.4M739.5 429.2v7.4M739.5 432.6v7.4M739.5 435.9v7.4M739.5 439.3v7.4M739.5 444.4v7.4M739.5 448.0v7.4M739.5 451.5v7.4M739.5 455.1v7.4M739.5 458.6v7.4M739.5 462.2v7.4M739.5 465.7v7.4M739.5 469.3v7.4M786.3 244.1v7.4M786.3 254.1v7.4M786.3 262.6v7.4M786.3 276.7v7.4M786.3 283.7v7.4M786.3 302.3v7.4M786.3 314.3v7.4M786.3 323.3v7.4M786.3 326.4v7.4M786.3 329.5v7.4M786.3 332.5v7.4M786.3 335.6v7.4M786.3 338.7v7.4M786.3 339.6v7.4M786.3 346.3v7.4M786.3 360.8v7.4M786.3 376.6v7.4M786.3 381.1v7.4M786.3 394.7v7.4M786.3 397.8v7.4M786.3 401.0v7.4M786.3 404.2v7.4M786.3 407.3v7.4M786.3 410.4v7.4M786.3 413.6v7.4M786.3 422.7v7.4M786.3 437.0v7.4M786.3 441.6v7.4M786.3 449.1v7.4M797.8 237.7v7.4M797.8 241.2v7.4M797.8 244.6v7.4M797.8 248.1v7.4M797.8 251.6v7.4M797.8 255.1v7.4M797.8 258.5v7.4M797.8 262.0v7.4M797.8 265.5v7.4M797.8 268.9v7.4M797.8 272.4v7.4M797.8 275.9v7.4M797.8 279.4v7.4M797.8 282.8v7.4M797.8 286.3v7.4M797.8 294.0v7.4M797.8 297.8v7.4M797.8 305.5v7.4M797.8 308.1v7.4M797.8 310.7v7.4M797.8 313.3v7.4M797.8 315.9v7.4M797.8 318.5v7.4M797.8 321.1v7.4M797.8 323.7v7.4M797.8 326.3v7.4M797.8 328.9v7.4M797.8 331.5v7.4M797.8 334.0v7.4M797.8 336.6v7.4M797.8 339.2v7.4M797.8 341.8v7.4M797.8 344.4v7.4M797.8 347.0v7.4M797.8 349.6v7.4M797.8 352.2v7.4M797.8 354.8v7.4M797.8 357.4v7.4M797.8 360.0v7.4M797.8 369.1v7.4M797.8 371.7v7.4M797.8 374.3v7.4M797.8 377.0v7.4M797.8 379.6v7.4M797.8 382.2v7.4M797.8 384.8v7.4M797.8 387.4v7.4M797.8 390.0v7.4M797.8 392.7v7.4M797.8 395.3v7.4M797.8 397.9v7.4M797.8 400.5v7.4M797.8 403.1v7.4M797.8 405.7v7.4M797.8 408.4v7.4M797.8 411.0v7.4M797.8 413.6v7.4M797.8 423.4v7.4M797.8 426.7v7.4M797.8 430.1v7.4M797.8 433.4v7.4M797.8 436.7v7.4M797.8 440.1v7.4M797.8 443.4v7.4M797.8 446.7v7.4M797.8 450.0v7.4M797.8 453.4v7.4M797.8 456.7v7.4M807.0 243.4v7.4M807.0 247.9v7.4M807.0 254.3v7.4M807.0 258.2v7.4M807.0 265.6v7.4M807.0 275.4v7.4M807.0 279.1v7.4M807.0 282.8v7.4M807.0 286.4v7.4M807.0 290.1v7.4M807.0 300.3v7.4M807.0 306.7v7.4M807.0 310.0v7.4M807.0 313.4v7.4M807.0 316.7v7.4M807.0 320.0v7.4M807.0 323.4v7.4M807.0 326.7v7.4M807.0 330.0v7.4M807.0 333.3v7.4M807.0 336.7v7.4M807.0 340.0v7.4M807.0 343.3v7.4M807.0 346.7v7.4M807.0 350.0v7.4M807.0 353.3v7.4M807.0 356.7v7.4M807.0 360.0v7.4M807.0 376.6v7.4M807.0 379.3v7.4M807.0 381.9v7.4M807.0 390.2v7.4M807.0 393.7v7.4M807.0 397.1v7.4M807.0 400.6v7.4M807.0 404.0v7.4M807.0 407.5v7.4M807.0 410.9v7.4M807.0 414.4v7.4M807.0 425.0v7.4M807.0 437.0v7.4M807.0 440.3v7.4M807.0 443.6v7.4M807.0 446.8v7.4M807.0 450.1v7.4M807.0 453.4v7.4M807.0 456.7v7.4M855.9 196.4v7.4M855.9 199.8v7.4M855.9 203.2v7.4M855.9 206.6v7.4M855.9 210.0v7.4M855.9 213.3v7.4M855.9 216.7v7.4M855.9 220.1v7.4M855.9 223.5v7.4M855.9 226.9v7.4M855.9 230.3v7.4M855.9 233.7v7.4M855.9 237.1v7.4M855.9 240.4v7.4M855.9 243.8v7.4M855.9 247.2v7.4M855.9 250.6v7.4M855.9 254.0v7.4M855.9 270.6v7.4M855.9 273.2v7.4M855.9 275.8v7.4M855.9 278.4v7.4M855.9 281.0v7.4M855.9 283.6v7.4M855.9 286.2v7.4M855.9 288.8v7.4M855.9 291.4v7.4M855.9 293.9v7.4M855.9 296.5v7.4M855.9 299.1v7.4M855.9 301.7v7.4M855.9 304.3v7.4M855.9 306.9v7.4M855.9 309.5v7.4M855.9 312.1v7.4M855.9 314.7v7.4M855.9 331.8v7.4M855.9 335.4v7.4M855.9 339.0v7.4M855.9 342.6v7.4M855.9 346.1v7.4M855.9 349.7v7.4M855.9 353.3v7.4M855.9 353.3v7.4M855.9 355.9v7.4M855.9 358.4v7.4M855.9 361.0v7.4M855.9 363.5v7.4M855.9 366.1v7.4M855.9 368.6v7.4M855.9 371.2v7.4M855.9 373.7v7.4M855.9 376.3v7.4M855.9 378.9v7.4M855.9 381.4v7.4M855.9 384.0v7.4M855.9 386.5v7.4M855.9 389.1v7.4M855.9 391.6v7.4M855.9 394.2v7.4M855.9 396.7v7.4M855.9 399.3v7.4M855.9 399.3v7.4M855.9 402.8v7.4M855.9 406.2v7.4M855.9 409.7v7.4M855.9 413.1v7.4M855.9 416.6v7.4M855.9 420.0v7.4M855.9 423.4v7.4M855.9 426.9v7.4M855.9 430.3v7.4M855.9 433.8v7.4M855.9 437.2v7.4M855.9 440.7v7.4M867.8 200.3v7.4M867.8 207.3v7.4M867.8 216.9v7.4M867.8 225.8v7.4M867.8 237.3v7.4M867.8 273.1v7.4M867.8 276.6v7.4M867.8 280.0v7.4M867.8 283.5v7.4M867.8 286.9v7.4M867.8 290.4v7.4M867.8 293.8v7.4M867.8 297.3v7.4M867.8 300.7v7.4M867.8 304.2v7.4M867.8 307.6v7.4M867.8 311.1v7.4M867.8 328.2v7.4M867.8 355.2v7.4M867.8 360.6v7.4M867.8 368.7v7.4M867.8 372.1v7.4M867.8 375.4v7.4M867.8 378.8v7.4M867.8 382.2v7.4M867.8 390.3v7.4M867.8 398.4v7.4M867.8 415.5v7.4M867.8 425.4v7.4M867.8 433.5v7.4M925.8 207.3v7.4M925.8 225.8v7.4M925.8 232.9v7.4M925.8 239.9v7.4M925.8 255.9v7.4M925.8 269.9v7.4M925.8 277.0v7.4M925.8 280.8v7.4M925.8 284.7v7.4M925.8 288.5v7.4M925.8 298.1v7.4M925.8 314.0v7.4M925.8 344.6v7.4M925.8 353.9v7.4M925.8 366.0v7.4M925.8 387.4v7.4M925.8 390.5v7.4M925.8 393.6v7.4M925.8 396.7v7.4M925.8 404.1v7.4M925.8 415.2v7.4M925.8 419.2v7.4M925.8 428.3v7.4M925.8 444.1v7.4M937.3 200.3v7.4M937.3 216.3v7.4M937.3 225.2v7.4M937.3 228.5v7.4M937.3 231.9v7.4M937.3 235.2v7.4M937.3 238.5v7.4M937.3 241.9v7.4M937.3 245.2v7.4M937.3 248.5v7.4M937.3 251.9v7.4M937.3 255.2v7.4M937.3 258.5v7.4M937.3 261.9v7.4M937.3 265.2v7.4M937.3 268.6v7.4M937.3 271.9v7.4M937.3 275.2v7.4M937.3 278.6v7.4M937.3 281.9v7.4M937.3 285.2v7.4M937.3 288.6v7.4M937.3 291.9v7.4M937.3 295.2v7.4M937.3 298.6v7.4M937.3 301.9v7.4M937.3 309.3v7.4M937.3 331.6v7.4M937.3 335.0v7.4M937.3 338.4v7.4M937.3 341.9v7.4M937.3 345.3v7.4M937.3 348.7v7.4M937.3 352.1v7.4M937.3 376.3v7.4M937.3 379.5v7.4M937.3 382.7v7.4M937.3 385.9v7.4M937.3 389.0v7.4M937.3 392.2v7.4M937.3 395.4v7.4M937.3 398.6v7.4M937.3 408.8v7.4M937.3 417.2v7.4M937.3 420.4v7.4M937.3 423.7v7.4M937.3 426.9v7.4M937.3 430.2v7.4M937.3 445.1v7.4M937.3 448.8v7.4M937.3 452.5v7.4M947.0 200.3v7.4M947.0 207.3v7.4M947.0 215.6v7.4M947.0 218.8v7.4M947.0 222.0v7.4M947.0 228.4v7.4M947.0 231.9v7.4M947.0 235.5v7.4M947.0 239.0v7.4M947.0 242.6v7.4M947.0 246.1v7.4M947.0 249.7v7.4M947.0 253.2v7.4M947.0 256.8v7.4M947.0 260.3v7.4M947.0 260.3v7.4M947.0 262.9v7.4M947.0 265.4v7.4M947.0 268.0v7.4M947.0 270.6v7.4M947.0 273.1v7.4M947.0 275.7v7.4M947.0 278.3v7.4M947.0 280.8v7.4M947.0 283.4v7.4M947.0 286.0v7.4M947.0 288.5v7.4M947.0 291.1v7.4M947.0 293.7v7.4M947.0 296.2v7.4M947.0 298.8v7.4M947.0 301.4v7.4M947.0 303.9v7.4M947.0 306.5v7.4M947.0 335.3v7.4M947.0 338.7v7.4M947.0 342.0v7.4M947.0 345.4v7.4M947.0 348.7v7.4M947.0 352.1v7.4M947.0 355.4v7.4M947.0 358.8v7.4M947.0 362.1v7.4M947.0 365.4v7.4M947.0 368.8v7.4M947.0 381.8v7.4M947.0 385.2v7.4M947.0 388.6v7.4M947.0 392.0v7.4M947.0 395.5v7.4M947.0 398.9v7.4M947.0 402.3v7.4M947.0 405.7v7.4M947.0 409.1v7.4M947.0 412.5v7.4M947.0 415.9v7.4M947.0 419.3v7.4M947.0 422.8v7.4M947.0 426.2v7.4M947.0 429.6v7.4M947.0 433.0v7.4M947.0 445.1v7.4M947.0 448.8v7.4M947.0 452.5v7.4M995.8 158.4v7.4M995.8 165.5v7.4M995.8 180.8v7.4M995.8 184.0v7.4M995.8 187.2v7.4M995.8 197.5v7.4M995.8 200.9v7.4M995.8 204.3v7.4M995.8 207.6v7.4M995.8 211.0v7.4M995.8 214.4v7.4M995.8 217.8v7.4M995.8 221.2v7.4M995.8 224.5v7.4M995.8 227.9v7.4M995.8 231.3v7.4M995.8 234.7v7.4M995.8 238.0v7.4M995.8 241.4v7.4M995.8 244.8v7.4M995.8 251.3v7.4M995.8 254.8v7.4M995.8 258.4v7.4M995.8 261.9v7.4M995.8 265.4v7.4M995.8 269.8v7.4M995.8 273.2v7.4M995.8 276.5v7.4M995.8 279.9v7.4M995.8 283.3v7.4M995.8 286.6v7.4M995.8 290.0v7.4M995.8 293.4v7.4M995.8 296.7v7.4M995.8 300.1v7.4M995.8 303.5v7.4M995.8 306.8v7.4M995.8 310.2v7.4M995.8 313.5v7.4M995.8 316.9v7.4M995.8 320.3v7.4M995.8 323.6v7.4M995.8 327.0v7.4M995.8 330.4v7.4M995.8 333.7v7.4M995.8 337.1v7.4M995.8 340.5v7.4M995.8 343.8v7.4M995.8 347.2v7.4M995.8 353.9v7.4M995.8 357.7v7.4M995.8 361.6v7.4M995.8 365.4v7.4M995.8 371.8v7.4M995.8 375.1v7.4M995.8 378.4v7.4M995.8 381.8v7.4M995.8 385.1v7.4M995.8 388.4v7.4M995.8 398.0v7.4M995.8 405.0v7.4M995.8 415.2v7.4M995.8 419.1v7.4M995.8 422.9v7.4M995.8 445.3v7.4M995.8 448.7v7.4M995.8 452.1v7.4M995.8 455.5v7.4M1004.7 154.0v7.4M1004.7 157.3v7.4M1004.7 160.6v7.4M1004.7 163.9v7.4M1004.7 167.2v7.4M1004.7 170.5v7.4M1004.7 173.8v7.4M1004.7 180.2v7.4M1004.7 182.8v7.4M1004.7 185.4v7.4M1004.7 188.0v7.4M1004.7 190.6v7.4M1004.7 193.2v7.4M1004.7 195.8v7.4M1004.7 198.4v7.4M1004.7 201.0v7.4M1004.7 203.6v7.4M1004.7 206.2v7.4M1004.7 208.8v7.4M1004.7 211.4v7.4M1004.7 214.0v7.4M1004.7 216.6v7.4M1004.7 219.2v7.4M1004.7 221.8v7.4M1004.7 224.4v7.4M1004.7 227.0v7.4M1004.7 229.6v7.4M1004.7 232.2v7.4M1004.7 234.8v7.4M1004.7 237.4v7.4M1004.7 240.0v7.4M1004.7 242.6v7.4M1004.7 245.2v7.4M1004.7 247.8v7.4M1004.7 250.4v7.4M1004.7 253.0v7.4M1004.7 255.6v7.4M1004.7 258.2v7.4M1004.7 260.8v7.4M1004.7 263.4v7.4M1004.7 266.0v7.4M1004.7 268.6v7.4M1004.7 274.3v7.4M1004.7 277.5v7.4M1004.7 280.7v7.4M1004.7 283.9v7.4M1004.7 287.1v7.4M1004.7 290.3v7.4M1004.7 293.5v7.4M1004.7 298.6v7.4M1004.7 301.9v7.4M1004.7 305.2v7.4M1004.7 308.5v7.4M1004.7 311.8v7.4M1004.7 315.1v7.4M1004.7 318.4v7.4M1004.7 321.7v7.4M1004.7 324.9v7.4M1004.7 328.2v7.4M1004.7 331.5v7.4M1004.7 334.8v7.4M1004.7 338.1v7.4M1004.7 341.4v7.4M1004.7 344.7v7.4M1004.7 348.5v7.4M1004.7 351.1v7.4M1004.7 353.8v7.4M1004.7 356.4v7.4M1004.7 359.0v7.4M1004.7 361.7v7.4M1004.7 364.3v7.4M1004.7 366.9v7.4M1004.7 369.6v7.4M1004.7 372.2v7.4M1004.7 374.8v7.4M1004.7 377.5v7.4M1004.7 380.1v7.4M1004.7 382.8v7.4M1004.7 385.4v7.4M1004.7 388.0v7.4M1004.7 390.7v7.4M1004.7 393.3v7.4M1004.7 395.9v7.4M1004.7 398.6v7.4M1004.7 401.2v7.4M1004.7 412.7v7.4M1004.7 416.1v7.4M1004.7 419.5v7.4M1004.7 422.9v7.4M1004.7 426.3v7.4M1004.7 429.7v7.4M1004.7 433.1v7.4M1004.7 437.0v7.4M1004.7 440.2v7.4M1004.7 443.4v7.4M1004.7 446.6v7.4M1004.7 449.8v7.4M1004.7 453.0v7.4M1004.7 456.2v7.4M1016.6 158.4v7.4M1016.6 165.5v7.4M1016.6 183.4v7.4M1016.6 186.6v7.4M1016.6 189.8v7.4M1016.6 198.1v7.4M1016.6 206.4v7.4M1016.6 209.4v7.4M1016.6 212.3v7.4M1016.6 215.3v7.4M1016.6 218.3v7.4M1016.6 221.5v7.4M1016.6 224.7v7.4M1016.6 228.0v7.4M1016.6 231.2v7.4M1016.6 234.4v7.4M1016.6 237.6v7.4M1016.6 240.9v7.4M1016.6 244.1v7.4M1016.6 247.3v7.4M1016.6 253.9v7.4M1016.6 257.4v7.4M1016.6 260.8v7.4M1016.6 264.3v7.4M1016.6 267.7v7.4M1016.6 271.2v7.4M1016.6 274.6v7.4M1016.6 278.1v7.4M1016.6 281.5v7.4M1016.6 285.0v7.4M1016.6 288.5v7.4M1016.6 291.9v7.4M1016.6 295.4v7.4M1016.6 298.8v7.4M1016.6 302.3v7.4M1016.6 305.7v7.4M1016.6 309.2v7.4M1016.6 312.6v7.4M1016.6 316.1v7.4M1016.6 319.6v7.4M1016.6 323.0v7.4M1016.6 326.5v7.4M1016.6 329.9v7.4M1016.6 333.4v7.4M1016.6 336.8v7.4M1016.6 340.3v7.4M1016.6 343.7v7.4M1016.6 347.2v7.4M1016.6 354.5v7.4M1016.6 358.0v7.4M1016.6 361.5v7.4M1016.6 367.3v7.4M1016.6 370.5v7.4M1016.6 373.7v7.4M1016.6 376.9v7.4M1016.6 380.1v7.4M1016.6 383.3v7.4M1016.6 386.5v7.4M1016.6 389.7v7.4M1016.6 395.4v7.4M1016.6 401.2v7.4M1016.6 403.8v7.4M1016.6 406.3v7.4M1016.6 417.2v7.4M1016.6 421.3v7.4M1016.6 425.5v7.4M1016.6 445.3v7.4M1016.6 448.9v7.4M1016.6 452.6v7.4M1016.6 456.2v7.4M1065.4 146.5v7.4M1065.4 149.9v7.4M1065.4 153.4v7.4M1065.4 156.8v7.4M1065.4 160.2v7.4M1065.4 163.7v7.4M1065.4 167.1v7.4M1065.4 170.5v7.4M1065.4 174.0v7.4M1065.4 177.4v7.4M1065.4 180.8v7.4M1065.4 184.3v7.4M1065.4 187.7v7.4M1065.4 191.1v7.4M1065.4 194.6v7.4M1065.4 198.0v7.4M1065.4 201.4v7.4M1065.4 204.9v7.4M1065.4 208.3v7.4M1065.4 211.7v7.4M1065.4 215.2v7.4M1065.4 218.6v7.4M1065.4 222.0v7.4M1065.4 225.5v7.4M1065.4 228.9v7.4M1065.4 232.3v7.4M1065.4 235.8v7.4M1065.4 239.2v7.4M1065.4 242.6v7.4M1065.4 246.1v7.4M1065.4 249.5v7.4M1065.4 252.9v7.4M1065.4 256.4v7.4M1065.4 259.8v7.4M1065.4 263.2v7.4M1065.4 266.7v7.4M1065.4 270.1v7.4M1065.4 285.3v7.4M1065.4 288.7v7.4M1065.4 292.1v7.4M1065.4 295.6v7.4M1065.4 299.0v7.4M1065.4 302.4v7.4M1065.4 305.8v7.4M1065.4 309.2v7.4M1065.4 312.6v7.4M1065.4 316.1v7.4M1065.4 319.5v7.4M1065.4 322.9v7.4M1065.4 326.3v7.4M1065.4 332.7v7.4M1065.4 335.3v7.4M1065.4 337.8v7.4M1065.4 340.4v7.4M1065.4 342.9v7.4M1065.4 345.5v7.4M1065.4 348.1v7.4M1065.4 350.6v7.4M1065.4 353.2v7.4M1065.4 355.7v7.4M1065.4 358.3v7.4M1065.4 360.8v7.4M1065.4 363.4v7.4M1065.4 374.9v7.4M1065.4 378.3v7.4M1065.4 381.6v7.4M1065.4 385.0v7.4M1065.4 388.4v7.4M1065.4 391.8v7.4M1065.4 395.1v7.4M1065.4 398.5v7.4M1065.4 401.9v7.4M1065.4 405.3v7.4M1065.4 408.6v7.4M1065.4 412.0v7.4M1065.4 426.0v7.4M1074.7 144.0v7.4M1074.7 147.3v7.4M1074.7 150.6v7.4M1074.7 154.0v7.4M1074.7 157.3v7.4M1074.7 160.6v7.4M1074.7 163.9v7.4M1074.7 167.2v7.4M1074.7 170.6v7.4M1074.7 173.9v7.4M1074.7 177.2v7.4M1074.7 183.6v7.4M1074.7 186.9v7.4M1074.7 190.3v7.4M1074.7 193.6v7.4M1074.7 197.0v7.4M1074.7 200.3v7.4M1074.7 203.7v7.4M1074.7 207.0v7.4M1074.7 210.4v7.4M1074.7 213.7v7.4M1074.7 217.1v7.4M1074.7 220.4v7.4M1074.7 223.8v7.4M1074.7 227.1v7.4M1074.7 230.5v7.4M1074.7 233.8v7.4M1074.7 237.2v7.4M1074.7 240.5v7.4M1074.7 243.9v7.4M1074.7 247.2v7.4M1074.7 250.6v7.4M1074.7 253.9v7.4M1074.7 257.3v7.4M1074.7 260.6v7.4M1074.7 264.0v7.4M1074.7 267.3v7.4M1074.7 287.3v7.4M1074.7 290.9v7.4M1074.7 294.4v7.4M1074.7 298.0v7.4M1074.7 301.5v7.4M1074.7 305.1v7.4M1074.7 308.6v7.4M1074.7 312.2v7.4M1074.7 315.7v7.4M1074.7 319.3v7.4M1074.7 328.3v7.4M1074.7 335.3v7.4M1074.7 337.8v7.4M1074.7 340.3v7.4M1074.7 342.8v7.4M1074.7 345.3v7.4M1074.7 347.8v7.4M1074.7 350.3v7.4M1074.7 352.8v7.4M1074.7 355.3v7.4M1074.7 357.8v7.4M1074.7 360.3v7.4M1074.7 362.8v7.4M1074.7 365.3v7.4M1074.7 381.3v7.4M1074.7 383.9v7.4M1074.7 386.4v7.4M1074.7 389.0v7.4M1074.7 391.5v7.4M1074.7 394.1v7.4M1074.7 396.7v7.4M1074.7 399.2v7.4M1074.7 401.8v7.4M1074.7 404.3v7.4M1074.7 406.9v7.4M1074.7 412.0v7.4M1086.5 144.6v7.4M1086.5 149.1v7.4M1086.5 152.9v7.4M1086.5 160.6v7.4M1086.5 164.1v7.4M1086.5 167.6v7.4M1086.5 171.1v7.4M1086.5 174.5v7.4M1086.5 178.0v7.4M1086.5 181.5v7.4M1086.5 185.0v7.4M1086.5 188.5v7.4M1086.5 192.0v7.4M1086.5 195.4v7.4M1086.5 198.9v7.4M1086.5 202.4v7.4M1086.5 205.9v7.4M1086.5 209.4v7.4M1086.5 212.9v7.4M1086.5 216.3v7.4M1086.5 219.8v7.4M1086.5 223.3v7.4M1086.5 229.7v7.4M1086.5 233.3v7.4M1086.5 236.8v7.4M1086.5 240.4v7.4M1086.5 243.9v7.4M1086.5 247.5v7.4M1086.5 251.0v7.4M1086.5 254.6v7.4M1086.5 258.1v7.4M1086.5 261.7v7.4M1086.5 265.2v7.4M1086.5 268.8v7.4M1086.5 284.8v7.4M1086.5 288.1v7.4M1086.5 291.4v7.4M1086.5 294.8v7.4M1086.5 298.1v7.4M1086.5 301.4v7.4M1086.5 304.7v7.4M1086.5 308.0v7.4M1086.5 311.4v7.4M1086.5 314.7v7.4M1086.5 318.0v7.4M1086.5 323.1v7.4M1086.5 334.0v7.4M1086.5 336.6v7.4M1086.5 339.2v7.4M1086.5 341.8v7.4M1086.5 344.4v7.4M1086.5 347.0v7.4M1086.5 349.7v7.4M1086.5 352.3v7.4M1086.5 354.9v7.4M1086.5 357.5v7.4M1086.5 360.1v7.4M1086.5 362.7v7.4M1086.5 374.9v7.4M1086.5 378.2v7.4M1086.5 381.5v7.4M1086.5 384.8v7.4M1086.5 388.1v7.4M1086.5 391.4v7.4M1086.5 394.8v7.4M1086.5 398.1v7.4M1086.5 401.4v7.4M1086.5 404.7v7.4M1086.5 408.0v7.4M1086.5 411.3v7.4M1086.5 426.0v7.4M1135.1 83.4v7.4M1135.1 91.1v7.4M1135.1 96.9v7.4M1135.1 99.7v7.4M1135.1 102.4v7.4M1135.1 105.2v7.4M1135.1 108.0v7.4M1135.1 110.7v7.4M1135.1 113.5v7.4M1135.1 123.7v7.4M1135.1 127.0v7.4M1135.1 130.4v7.4M1135.1 133.7v7.4M1135.1 137.1v7.4M1135.1 140.4v7.4M1135.1 143.8v7.4M1135.1 147.1v7.4M1135.1 150.4v7.4M1135.1 153.8v7.4M1135.1 157.1v7.4M1135.1 160.5v7.4M1135.1 163.8v7.4M1135.1 167.2v7.4M1135.1 170.5v7.4M1135.1 173.9v7.4M1135.1 177.2v7.4M1135.1 180.5v7.4M1135.1 183.9v7.4M1135.1 187.2v7.4M1135.1 190.6v7.4M1135.1 193.9v7.4M1135.1 197.3v7.4M1135.1 200.6v7.4M1135.1 205.1v7.4M1135.1 208.1v7.4M1135.1 211.2v7.4M1135.1 214.2v7.4M1135.1 217.2v7.4M1135.1 223.6v7.4M1135.1 227.1v7.4M1135.1 230.7v7.4M1135.1 234.2v7.4M1135.1 237.7v7.4M1135.1 264.5v7.4M1135.1 268.0v7.4M1135.1 271.4v7.4M1135.1 274.9v7.4M1135.1 278.3v7.4M1135.1 281.8v7.4M1135.1 285.2v7.4M1135.1 288.7v7.4M1135.1 292.1v7.4M1135.1 295.6v7.4M1135.1 299.0v7.4M1135.1 302.5v7.4M1135.1 305.9v7.4M1135.1 309.4v7.4M1135.1 312.8v7.4M1135.1 316.3v7.4M1135.1 319.7v7.4M1135.1 323.2v7.4M1135.1 326.6v7.4M1135.1 330.1v7.4M1135.1 333.5v7.4M1135.1 337.0v7.4M1135.1 340.4v7.4M1135.1 343.9v7.4M1135.1 347.3v7.4M1135.1 350.8v7.4M1135.1 356.8v7.4M1135.1 360.1v7.4M1135.1 363.5v7.4M1135.1 366.8v7.4M1135.1 370.1v7.4M1135.1 373.4v7.4M1135.1 376.8v7.4M1135.1 380.1v7.4M1135.1 383.4v7.4M1135.1 386.7v7.4M1135.1 390.1v7.4M1135.1 393.4v7.4M1135.1 396.7v7.4M1135.1 400.0v7.4M1135.1 403.4v7.4M1135.1 406.7v7.4M1144.7 84.1v7.4M1144.7 88.0v7.4M1144.7 91.8v7.4M1144.7 102.0v7.4M1144.7 109.0v7.4M1144.7 116.7v7.4M1144.7 124.4v7.4M1144.7 127.9v7.4M1144.7 131.3v7.4M1144.7 134.8v7.4M1144.7 138.3v7.4M1144.7 141.7v7.4M1144.7 145.2v7.4M1144.7 148.6v7.4M1144.7 152.1v7.4M1144.7 155.6v7.4M1144.7 159.0v7.4M1144.7 162.5v7.4M1144.7 166.0v7.4M1144.7 169.4v7.4M1144.7 172.9v7.4M1144.7 176.4v7.4M1144.7 179.8v7.4M1144.7 183.3v7.4M1144.7 186.7v7.4M1144.7 190.2v7.4M1144.7 193.7v7.4M1144.7 197.1v7.4M1144.7 200.6v7.4M1144.7 214.7v7.4M1144.7 223.6v7.4M1144.7 227.5v7.4M1144.7 231.3v7.4M1144.7 265.8v7.4M1144.7 272.2v7.4M1144.7 275.6v7.4M1144.7 279.0v7.4M1144.7 282.5v7.4M1144.7 285.9v7.4M1144.7 289.3v7.4M1144.7 292.7v7.4M1144.7 296.1v7.4M1144.7 299.5v7.4M1144.7 303.0v7.4M1144.7 306.4v7.4M1144.7 309.8v7.4M1144.7 313.2v7.4M1144.7 316.6v7.4M1144.7 320.0v7.4M1144.7 323.5v7.4M1144.7 326.9v7.4M1144.7 330.3v7.4M1144.7 333.7v7.4M1144.7 337.1v7.4M1144.7 340.5v7.4M1144.7 344.0v7.4M1144.7 347.4v7.4M1144.7 350.8v7.4M1144.7 359.1v7.4M1144.7 370.4v7.4M1144.7 373.9v7.4M1144.7 377.5v7.4M1144.7 381.0v7.4M1144.7 388.6v7.4M1144.7 393.1v7.4M1144.7 402.1v7.4M1156.5 83.4v7.4M1156.5 86.5v7.4M1156.5 89.6v7.4M1156.5 92.6v7.4M1156.5 95.7v7.4M1156.5 98.8v7.4M1156.5 105.2v7.4M1156.5 108.7v7.4M1156.5 112.2v7.4M1156.5 115.8v7.4M1156.5 119.3v7.4M1156.5 127.6v7.4M1156.5 130.9v7.4M1156.5 134.2v7.4M1156.5 137.6v7.4M1156.5 140.9v7.4M1156.5 144.2v7.4M1156.5 147.5v7.4M1156.5 150.8v7.4M1156.5 154.1v7.4M1156.5 157.5v7.4M1156.5 160.8v7.4M1156.5 164.1v7.4M1156.5 167.4v7.4M1156.5 170.7v7.4M1156.5 174.0v7.4M1156.5 177.4v7.4M1156.5 180.7v7.4M1156.5 184.0v7.4M1156.5 192.9v7.4M1156.5 196.2v7.4M1156.5 199.6v7.4M1156.5 202.9v7.4M1156.5 206.3v7.4M1156.5 209.6v7.4M1156.5 213.0v7.4M1156.5 216.3v7.4M1156.5 219.7v7.4M1156.5 223.0v7.4M1156.5 226.4v7.4M1156.5 229.7v7.4M1156.5 233.1v7.4M1156.5 236.4v7.4M1156.5 266.3v7.4M1156.5 269.7v7.4M1156.5 273.1v7.4M1156.5 276.4v7.4M1156.5 279.8v7.4M1156.5 283.2v7.4M1156.5 286.6v7.4M1156.5 290.0v7.4M1156.5 293.3v7.4M1156.5 296.7v7.4M1156.5 300.1v7.4M1156.5 303.5v7.4M1156.5 306.9v7.4M1156.5 310.2v7.4M1156.5 313.6v7.4M1156.5 317.0v7.4M1156.5 320.4v7.4M1156.5 323.8v7.4M1156.5 327.1v7.4M1156.5 330.5v7.4M1156.5 333.9v7.4M1156.5 337.3v7.4M1156.5 340.7v7.4M1156.5 344.0v7.4M1156.5 347.4v7.4M1156.5 350.8v7.4M1156.5 359.1v7.4M1156.5 368.9v7.4M1156.5 372.3v7.4M1156.5 375.8v7.4M1156.5 379.2v7.4M1156.5 382.6v7.4M1156.5 386.1v7.4M1156.5 389.5v7.4M1156.5 393.0v7.4M1156.5 396.4v7.4M1156.5 399.8v7.4M1156.5 403.3v7.4M1156.5 406.7v7.4M1135.3 644.7v7.4M1156.3 723.9v7.4M1202.9 85.9v7.4M1202.9 90.4v7.4M1202.9 100.0v7.4M1202.9 107.0v7.4M1202.9 110.5v7.4M1202.9 114.0v7.4M1202.9 117.6v7.4M1202.9 121.1v7.4M1202.9 124.9v7.4M1202.9 128.3v7.4M1202.9 131.7v7.4M1202.9 135.1v7.4M1202.9 138.5v7.4M1202.9 141.9v7.4M1202.9 145.3v7.4M1202.9 148.7v7.4M1202.9 152.1v7.4M1202.9 155.5v7.4M1202.9 158.9v7.4M1202.9 162.3v7.4M1202.9 165.7v7.4M1202.9 169.1v7.4M1202.9 172.5v7.4M1202.9 175.9v7.4M1202.9 179.3v7.4M1202.9 182.7v7.4M1202.9 186.1v7.4M1202.9 189.5v7.4M1202.9 192.9v7.4M1202.9 196.3v7.4M1202.9 199.7v7.4M1202.9 203.1v7.4M1202.9 206.5v7.4M1202.9 209.9v7.4M1202.9 213.3v7.4M1202.9 216.7v7.4M1202.9 220.1v7.4M1202.9 223.5v7.4M1202.9 248.4v7.4M1202.9 251.7v7.4M1202.9 255.1v7.4M1202.9 258.4v7.4M1202.9 261.7v7.4M1202.9 265.1v7.4M1202.9 268.4v7.4M1202.9 271.8v7.4M1202.9 275.1v7.4M1202.9 278.4v7.4M1202.9 281.8v7.4M1202.9 285.1v7.4M1202.9 288.4v7.4M1202.9 291.8v7.4M1202.9 295.1v7.4M1202.9 298.4v7.4M1202.9 301.8v7.4M1202.9 305.1v7.4M1202.9 308.4v7.4M1202.9 311.8v7.4M1202.9 315.1v7.4M1202.9 318.5v7.4M1202.9 321.8v7.4M1202.9 325.1v7.4M1202.9 328.5v7.4M1202.9 331.8v7.4M1202.9 345.9v7.4M1202.9 353.7v7.4M1202.9 357.2v7.4M1202.9 360.7v7.4M1202.9 364.2v7.4M1202.9 367.7v7.4M1202.9 371.1v7.4M1202.9 374.6v7.4M1202.9 378.1v7.4M1202.9 381.6v7.4M1202.9 385.1v7.4M1202.9 405.5v7.4M1202.9 408.8v7.4M1202.9 412.2v7.4M1202.9 415.5v7.4M1202.9 418.8v7.4M1214.4 85.3v7.4M1214.4 88.7v7.4M1214.4 92.1v7.4M1214.4 95.5v7.4M1214.4 98.9v7.4M1214.4 102.2v7.4M1214.4 105.6v7.4M1214.4 109.0v7.4M1214.4 112.4v7.4M1214.4 115.8v7.4M1214.4 119.2v7.4M1214.4 122.6v7.4M1214.4 126.0v7.4M1214.4 129.4v7.4M1214.4 132.8v7.4M1214.4 136.2v7.4M1214.4 139.5v7.4M1214.4 142.9v7.4M1214.4 146.3v7.4M1214.4 149.7v7.4M1214.4 153.1v7.4M1214.4 156.5v7.4M1214.4 159.9v7.4M1214.4 163.3v7.4M1214.4 166.7v7.4M1214.4 170.1v7.4M1214.4 173.4v7.4M1214.4 176.8v7.4M1214.4 180.2v7.4M1214.4 183.6v7.4M1214.4 187.0v7.4M1214.4 190.4v7.4M1214.4 193.8v7.4M1214.4 197.2v7.4M1214.4 200.6v7.4M1214.4 204.0v7.4M1214.4 207.3v7.4M1214.4 210.7v7.4M1214.4 214.1v7.4M1214.4 217.5v7.4M1214.4 220.9v7.4M1214.4 244.0v7.4M1214.4 247.5v7.4M1214.4 250.9v7.4M1214.4 254.4v7.4M1214.4 257.9v7.4M1214.4 261.4v7.4M1214.4 264.8v7.4M1214.4 268.3v7.4M1214.4 271.8v7.4M1214.4 275.2v7.4M1214.4 278.7v7.4M1214.4 282.2v7.4M1214.4 285.7v7.4M1214.4 289.1v7.4M1214.4 292.6v7.4M1214.4 298.8v7.4M1214.4 302.1v7.4M1214.4 305.4v7.4M1214.4 308.7v7.4M1214.4 312.0v7.4M1214.4 315.4v7.4M1214.4 318.7v7.4M1214.4 322.0v7.4M1214.4 325.3v7.4M1214.4 328.6v7.4M1214.4 355.3v7.4M1214.4 363.1v7.4M1214.4 372.5v7.4M1214.4 375.6v7.4M1214.4 378.8v7.4M1214.4 381.9v7.4M1214.4 385.1v7.4M1214.4 388.2v7.4M1214.4 405.5v7.4M1214.4 408.8v7.4M1214.4 412.2v7.4M1214.4 415.5v7.4M1214.4 418.8v7.4M1223.7 85.9v7.4M1223.7 108.3v7.4M1223.7 112.1v7.4M1223.7 115.9v7.4M1223.7 123.6v7.4M1223.7 127.0v7.4M1223.7 130.4v7.4M1223.7 133.8v7.4M1223.7 137.1v7.4M1223.7 140.5v7.4M1223.7 143.9v7.4M1223.7 147.3v7.4M1223.7 150.7v7.4M1223.7 154.1v7.4M1223.7 157.4v7.4M1223.7 160.8v7.4M1223.7 164.2v7.4M1223.7 167.6v7.4M1223.7 171.0v7.4M1223.7 174.4v7.4M1223.7 177.7v7.4M1223.7 181.1v7.4M1223.7 184.5v7.4M1223.7 187.9v7.4M1223.7 191.3v7.4M1223.7 194.7v7.4M1223.7 198.0v7.4M1223.7 201.4v7.4M1223.7 204.8v7.4M1223.7 208.2v7.4M1223.7 214.5v7.4M1223.7 244.0v7.4M1223.7 252.9v7.4M1223.7 256.1v7.4M1223.7 259.3v7.4M1223.7 262.5v7.4M1223.7 265.7v7.4M1223.7 279.8v7.4M1223.7 296.5v7.4M1223.7 300.2v7.4M1223.7 303.9v7.4M1223.7 307.7v7.4M1223.7 311.4v7.4M1223.7 320.0v7.4M1223.7 358.4v7.4M1223.7 363.1v7.4M1223.7 369.4v7.4M1223.7 372.5v7.4M1223.7 375.7v7.4M1223.7 378.8v7.4M1223.7 410.9v7.4M1272.8 32.8v7.4M1272.8 37.3v7.4M1272.8 58.4v7.4M1272.8 61.8v7.4M1272.8 65.2v7.4M1272.8 68.6v7.4M1272.8 72.0v7.4M1272.8 75.4v7.4M1272.8 78.8v7.4M1272.8 82.2v7.4M1272.8 85.6v7.4M1272.8 89.0v7.4M1272.8 92.4v7.4M1272.8 95.8v7.4M1272.8 99.2v7.4M1272.8 102.6v7.4M1272.8 106.0v7.4M1272.8 109.4v7.4M1272.8 112.8v7.4M1272.8 116.2v7.4M1272.8 119.6v7.4M1272.8 123.0v7.4M1272.8 126.4v7.4M1272.8 129.8v7.4M1272.8 133.2v7.4M1272.8 136.6v7.4M1272.8 140.0v7.4M1272.8 143.4v7.4M1272.8 146.8v7.4M1272.8 150.2v7.4M1272.8 153.6v7.4M1272.8 157.0v7.4M1272.8 160.4v7.4M1272.8 163.8v7.4M1272.8 167.2v7.4M1272.8 181.3v7.4M1272.8 190.9v7.4M1272.8 223.5v7.4M1272.8 226.9v7.4M1272.8 230.3v7.4M1272.8 233.6v7.4M1272.8 237.0v7.4M1272.8 240.4v7.4M1272.8 243.8v7.4M1272.8 247.2v7.4M1272.8 250.6v7.4M1272.8 253.9v7.4M1272.8 257.3v7.4M1272.8 260.7v7.4M1272.8 264.1v7.4M1272.8 267.5v7.4M1272.8 270.9v7.4M1272.8 274.2v7.4M1272.8 277.6v7.4M1272.8 281.0v7.4M1272.8 284.4v7.4M1272.8 287.8v7.4M1272.8 291.2v7.4M1272.8 294.5v7.4M1272.8 297.9v7.4M1272.8 301.3v7.4M1272.8 312.2v7.4M1272.8 338.8v7.4M1272.8 347.7v7.4M1272.8 351.3v7.4M1272.8 354.8v7.4M1272.8 358.4v7.4M1272.8 362.0v7.4M1272.8 365.6v7.4M1272.8 369.2v7.4M1272.8 372.7v7.4M1272.8 376.3v7.4M1272.8 390.1v7.4M1284.3 66.7v7.4M1284.3 74.4v7.4M1284.3 92.3v7.4M1284.3 107.0v7.4M1284.3 128.3v7.4M1284.3 141.6v7.4M1284.3 154.4v7.4M1284.3 157.4v7.4M1284.3 160.4v7.4M1284.3 163.4v7.4M1284.3 223.5v7.4M1284.3 232.4v7.4M1284.3 253.9v7.4M1284.3 267.7v7.4M1284.3 270.7v7.4M1284.3 273.7v7.4M1284.3 285.5v7.4M1284.3 298.3v7.4M1284.3 314.1v7.4M1284.3 350.6v7.4M1284.3 364.4v7.4M1284.3 367.4v7.4M1284.3 370.3v7.4M1284.3 390.1v7.4M1293.6 62.2v7.4M1293.6 65.6v7.4M1293.6 69.0v7.4M1293.6 72.5v7.4M1293.6 75.9v7.4M1293.6 79.3v7.4M1293.6 82.7v7.4M1293.6 86.1v7.4M1293.6 89.5v7.4M1293.6 93.0v7.4M1293.6 96.4v7.4M1293.6 99.8v7.4M1293.6 103.2v7.4M1293.6 106.6v7.4M1293.6 110.0v7.4M1293.6 113.5v7.4M1293.6 116.9v7.4M1293.6 120.3v7.4M1293.6 123.7v7.4M1293.6 127.1v7.4M1293.6 130.5v7.4M1293.6 134.0v7.4M1293.6 137.4v7.4M1293.6 140.8v7.4M1293.6 144.2v7.4M1293.6 147.6v7.4M1293.6 151.0v7.4M1293.6 154.5v7.4M1293.6 157.9v7.4M1293.6 161.3v7.4M1293.6 164.7v7.4M1293.6 172.3v7.4M1293.6 181.9v7.4M1293.6 192.8v7.4M1293.6 199.2v7.4M1293.6 204.3v7.4M1293.6 226.3v7.4M1293.6 229.8v7.4M1293.6 233.3v7.4M1293.6 236.8v7.4M1293.6 240.3v7.4M1293.6 243.9v7.4M1293.6 247.4v7.4M1293.6 250.9v7.4M1293.6 254.4v7.4M1293.6 257.9v7.4M1293.6 266.8v7.4M1293.6 270.3v7.4M1293.6 273.9v7.4M1293.6 277.4v7.4M1293.6 280.9v7.4M1293.6 284.5v7.4M1293.6 288.0v7.4M1293.6 291.5v7.4M1293.6 295.1v7.4M1293.6 298.6v7.4M1293.6 302.1v7.4M1293.6 305.7v7.4M1293.6 309.2v7.4M1293.6 347.7v7.4M1293.6 351.3v7.4M1293.6 354.8v7.4M1293.6 358.4v7.4M1293.6 362.0v7.4M1293.6 365.6v7.4M1293.6 369.2v7.4M1293.6 372.7v7.4M1293.6 376.3v7.4M1293.6 384.2v7.4M1293.6 388.2v7.4M1293.6 392.1v7.4" stroke="#ff0000" stroke-width="2.6" fill="none"/>
<g fill="#008000"><g fill-opacity="0.35"><rect x="228.5" y="539.3" width="8.4" height="10.2" rx="3.5"/><rect x="228.5" y="553.7" width="8.4" height="7.9" rx="3.5"/><rect x="237.5" y="538.0" width="8.4" height="10.6" rx="3.5"/><rect x="249.0" y="541.0" width="8.4" height="9.0" rx="3.5"/><rect x="249.0" y="553.7" width="8.4" height="7.9" rx="3.5"/><rect x="297.5" y="514.0" width="8.4" height="11.6" rx="3.5"/><rect x="307.0" y="510.4" width="8.4" height="15.6" rx="3.5"/><rect x="316.0" y="509.5" width="8.4" height="19.0" rx="3.5"/><rect x="364.0" y="479.6" width="12.0" height="14.1" rx="3.5"/><rect x="366.0" y="498.0" width="8.4" height="10.4" rx="3.5"/><rect x="377.0" y="479.6" width="8.4" height="15.4" rx="3.5"/><rect x="386.0" y="479.6" width="10.0" height="16.6" rx="3.5"/><rect x="434.5" y="453.5" width="9.5" height="8.0" rx="3.5"/><rect x="446.0" y="443.0" width="10.0" height="20.0" rx="3.5"/><rect x="446.0" y="464.0" width="10.0" height="8.0" rx="3.5"/><rect x="455.5" y="443.0" width="9.5" height="13.0" rx="3.5"/><rect x="455.5" y="465.0" width="9.5" height="9.0" rx="3.5"/><rect x="503.0" y="477.0" width="12.0" height="8.0" rx="3.5"/><rect x="514.0" y="473.0" width="13.0" height="13.0" rx="3.5"/><rect x="523.0" y="475.0" width="12.0" height="10.0" rx="3.5"/><rect x="574.0" y="422.0" width="10.0" height="16.0" rx="3.5"/><rect x="574.0" y="440.0" width="10.0" height="7.0" rx="3.5"/><rect x="584.0" y="421.0" width="10.0" height="16.0" rx="3.5"/><rect x="584.0" y="440.0" width="10.0" height="7.0" rx="3.5"/><rect x="595.0" y="440.0" width="10.0" height="7.0" rx="3.5"/><rect x="642.0" y="409.6" width="12.0" height="8.3" rx="3.5"/><rect x="653.0" y="407.0" width="10.0" height="13.5" rx="3.5"/><rect x="664.0" y="407.0" width="11.0" height="14.0" rx="3.5"/><rect x="712.0" y="374.0" width="13.0" height="21.7" rx="3.5"/><rect x="723.0" y="372.7" width="11.0" height="19.2" rx="3.5"/><rect x="735.0" y="374.6" width="9.0" height="8.3" rx="3.5"/><rect x="735.0" y="389.3" width="9.0" height="7.0" rx="3.5"/><rect x="781.0" y="353.9" width="10.0" height="9.1" rx="3.5"/><rect x="791.0" y="347.0" width="14.0" height="13.7" rx="3.5"/><rect x="803.0" y="351.6" width="10.0" height="9.8" rx="3.5"/><rect x="850.0" y="317.5" width="12.0" height="18.0" rx="3.5"/><rect x="863.0" y="319.3" width="9.0" height="7.0" rx="3.5"/><rect x="920.0" y="329.8" width="12.0" height="8.3" rx="3.5"/><rect x="932.0" y="323.2" width="11.0" height="12.1" rx="3.5"/><rect x="942.0" y="321.4" width="11.0" height="7.0" rx="3.5"/><rect x="942.0" y="330.7" width="11.0" height="8.3" rx="3.5"/><rect x="990.0" y="305.5" width="12.0" height="7.0" rx="3.5"/><rect x="990.0" y="317.0" width="12.0" height="7.0" rx="3.5"/><rect x="999.0" y="302.3" width="12.0" height="16.6" rx="3.5"/><rect x="1011.0" y="307.4" width="12.0" height="7.1" rx="3.5"/><rect x="1011.0" y="318.9" width="12.0" height="7.7" rx="3.5"/><rect x="1059.0" y="273.8" width="13.0" height="15.3" rx="3.5"/><rect x="1070.0" y="271.2" width="11.0" height="19.8" rx="3.5"/><rect x="1082.0" y="272.5" width="10.0" height="16.0" rx="3.5"/><rect x="1129.0" y="242.7" width="12.0" height="16.6" rx="3.5"/><rect x="1129.0" y="261.2" width="12.0" height="7.0" rx="3.5"/><rect x="1139.0" y="242.7" width="11.0" height="7.0" rx="3.5"/><rect x="1139.0" y="251.6" width="11.0" height="13.4" rx="3.5"/><rect x="1151.0" y="242.7" width="11.0" height="7.0" rx="3.5"/><rect x="1151.0" y="252.3" width="11.0" height="7.0" rx="3.5"/><rect x="1151.0" y="263.8" width="11.0" height="7.0" rx="3.5"/><rect x="1196.0" y="227.8" width="13.0" height="24.3" rx="3.5"/><rect x="1208.0" y="229.1" width="12.0" height="18.6" rx="3.5"/><rect x="1218.0" y="227.2" width="11.0" height="15.3" rx="3.5"/><rect x="1266.0" y="199.7" width="13.0" height="8.3" rx="3.5"/><rect x="1266.0" y="211.8" width="13.0" height="15.4" rx="3.5"/><rect x="1279.0" y="214.4" width="11.0" height="9.0" rx="3.5"/><rect x="1288.0" y="209.9" width="11.0" height="16.0" rx="3.5"/></g><g fill-opacity="0.9"><rect x="228.1" y="539.3" width="8.4" height="10.2" rx="3.5"/><rect x="228.1" y="553.7" width="8.4" height="7.9" rx="3.5"/><rect x="237.1" y="538.0" width="8.4" height="10.6" rx="3.5"/><rect x="248.8" y="541.0" width="8.4" height="9.0" rx="3.5"/><rect x="248.8" y="553.7" width="8.4" height="7.9" rx="3.5"/><rect x="297.3" y="514.0" width="8.4" height="11.6" rx="3.5"/><rect x="306.8" y="510.4" width="8.4" height="15.6" rx="3.5"/><rect x="315.8" y="509.5" width="8.4" height="19.0" rx="3.5"/><rect x="365.8" y="479.6" width="8.4" height="14.1" rx="3.5"/><rect x="365.8" y="498.0" width="8.4" height="10.4" rx="3.5"/><rect x="376.8" y="479.6" width="8.4" height="15.4" rx="3.5"/><rect x="386.8" y="479.6" width="8.4" height="16.6" rx="3.5"/><rect x="435.1" y="453.5" width="8.4" height="8.0" rx="3.5"/><rect x="446.8" y="443.0" width="8.4" height="20.0" rx="3.5"/><rect x="446.8" y="464.0" width="8.4" height="8.0" rx="3.5"/><rect x="456.1" y="443.0" width="8.4" height="13.0" rx="3.5"/><rect x="456.1" y="465.0" width="8.4" height="9.0" rx="3.5"/><rect x="504.8" y="477.0" width="8.4" height="8.0" rx="3.5"/><rect x="516.3" y="473.0" width="8.4" height="13.0" rx="3.5"/><rect x="524.8" y="475.0" width="8.4" height="10.0" rx="3.5"/><rect x="574.8" y="422.0" width="8.4" height="16.0" rx="3.5"/><rect x="574.8" y="440.0" width="8.4" height="7.0" rx="3.5"/><rect x="584.8" y="421.0" width="8.4" height="16.0" rx="3.5"/><rect x="584.8" y="440.0" width="8.4" height="7.0" rx="3.5"/><rect x="595.8" y="440.0" width="8.4" height="7.0" rx="3.5"/><rect x="643.8" y="409.6" width="8.4" height="8.3" rx="3.5"/><rect x="653.8" y="407.0" width="8.4" height="13.5" rx="3.5"/><rect x="665.3" y="407.0" width="8.4" height="14.0" rx="3.5"/><rect x="714.3" y="374.0" width="8.4" height="21.7" rx="3.5"/><rect x="724.3" y="372.7" width="8.4" height="19.2" rx="3.5"/><rect x="735.3" y="374.6" width="8.4" height="8.3" rx="3.5"/><rect x="735.3" y="389.3" width="8.4" height="7.0" rx="3.5"/><rect x="781.8" y="353.9" width="8.4" height="9.1" rx="3.5"/><rect x="793.8" y="347.0" width="8.4" height="13.7" rx="3.5"/><rect x="803.8" y="351.6" width="8.4" height="9.8" rx="3.5"/><rect x="851.8" y="317.5" width="8.4" height="18.0" rx="3.5"/><rect x="863.3" y="319.3" width="8.4" height="7.0" rx="3.5"/><rect x="921.8" y="329.8" width="8.4" height="8.3" rx="3.5"/><rect x="933.3" y="323.2" width="8.4" height="12.1" rx="3.5"/><rect x="943.3" y="321.4" width="8.4" height="7.0" rx="3.5"/><rect x="943.3" y="330.7" width="8.4" height="8.3" rx="3.5"/><rect x="991.8" y="305.5" width="8.4" height="7.0" rx="3.5"/><rect x="991.8" y="317.0" width="8.4" height="7.0" rx="3.5"/><rect x="1000.8" y="302.3" width="8.4" height="16.6" rx="3.5"/><rect x="1012.8" y="307.4" width="8.4" height="7.1" rx="3.5"/><rect x="1012.8" y="318.9" width="8.4" height="7.7" rx="3.5"/><rect x="1061.3" y="273.8" width="8.4" height="15.3" rx="3.5"/><rect x="1071.3" y="271.2" width="8.4" height="19.8" rx="3.5"/><rect x="1082.8" y="272.5" width="8.4" height="16.0" rx="3.5"/><rect x="1130.8" y="242.7" width="8.4" height="16.6" rx="3.5"/><rect x="1130.8" y="261.2" width="8.4" height="7.0" rx="3.5"/><rect x="1140.3" y="242.7" width="8.4" height="7.0" rx="3.5"/><rect x="1140.3" y="251.6" width="8.4" height="13.4" rx="3.5"/><rect x="1152.3" y="242.7" width="8.4" height="7.0" rx="3.5"/><rect x="1152.3" y="252.3" width="8.4" height="7.0" rx="3.5"/><rect x="1152.3" y="263.8" width="8.4" height="7.0" rx="3.5"/><rect x="1198.3" y="227.8" width="8.4" height="24.3" rx="3.5"/><rect x="1209.8" y="229.1" width="8.4" height="18.6" rx="3.5"/><rect x="1219.3" y="227.2" width="8.4" height="15.3" rx="3.5"/><rect x="1268.3" y="199.7" width="8.4" height="8.3" rx="3.5"/><rect x="1268.3" y="211.8" width="8.4" height="15.4" rx="3.5"/><rect x="1280.3" y="214.4" width="8.4" height="9.0" rx="3.5"/><rect x="1289.3" y="209.9" width="8.4" height="16.0" rx="3.5"/></g></g>
</g>
<g filter="url(#bt)">
<rect x="113.2" y="3.9" width="1299.1" height="758.6" fill="none" stroke="#000" stroke-width="2.3"/>
<line x1="241.2" y1="762.5" x2="241.2" y2="772.0" stroke="#000" stroke-width="1.3"/><text x="217.4" y="795.8" font-family="Liberation Sans, sans-serif" font-size="25.0" textLength="48.44" lengthAdjust="spacingAndGlyphs">30.0</text><line x1="415.1" y1="762.5" x2="415.1" y2="772.0" stroke="#000" stroke-width="1.3"/><text x="389.4" y="795.8" font-family="Liberation Sans, sans-serif" font-size="25.0" textLength="48.44" lengthAdjust="spacingAndGlyphs">32.5</text><line x1="588.9" y1="762.5" x2="588.9" y2="772.0" stroke="#000" stroke-width="1.3"/><text x="564.4" y="795.8" font-family="Liberation Sans, sans-serif" font-size="25.0" textLength="48.44" lengthAdjust="spacingAndGlyphs">35.0</text><line x1="762.8" y1="762.5" x2="762.8" y2="772.0" stroke="#000" stroke-width="1.3"/><text x="738.8" y="795.8" font-family="Liberation Sans, sans-serif" font-size="25.0" textLength="48.64" lengthAdjust="spacingAndGlyphs">37.5</text><line x1="936.6" y1="762.5" x2="936.6" y2="772.0" stroke="#000" stroke-width="1.3"/><text x="910.8" y="795.8" font-family="Liberation Sans, sans-serif" font-size="25.0" textLength="48.24" lengthAdjust="spacingAndGlyphs">40.0</text><line x1="1110.5" y1="762.5" x2="1110.5" y2="772.0" stroke="#000" stroke-width="1.3"/><text x="1083.4" y="795.8" font-family="Liberation Sans, sans-serif" font-size="25.0" textLength="48.22" lengthAdjust="spacingAndGlyphs">42.5</text><line x1="1284.3" y1="762.5" x2="1284.3" y2="772.0" stroke="#000" stroke-width="1.3"/><text x="1258.2" y="795.8" font-family="Liberation Sans, sans-serif" font-size="25.0" textLength="48.22" lengthAdjust="spacingAndGlyphs">45.0</text><line x1="105.2" y1="120.3" x2="113.2" y2="120.3" stroke="#000" stroke-width="1.3"/><text x="67.8" y="130.0" font-family="Liberation Sans, sans-serif" font-size="25.0" textLength="26.27" lengthAdjust="spacingAndGlyphs">45</text><line x1="105.2" y1="262.2" x2="113.2" y2="262.2" stroke="#000" stroke-width="1.3"/><text x="67.8" y="270.0" font-family="Liberation Sans, sans-serif" font-size="25.0" textLength="26.46" lengthAdjust="spacingAndGlyphs">40</text><line x1="105.2" y1="401.9" x2="113.2" y2="401.9" stroke="#000" stroke-width="1.3"/><text x="69.0" y="409.8" font-family="Liberation Sans, sans-serif" font-size="25.0" textLength="25.13" lengthAdjust="spacingAndGlyphs">35</text><line x1="105.2" y1="541.5" x2="113.2" y2="541.5" stroke="#000" stroke-width="1.3"/><text x="69.0" y="549.6" font-family="Liberation Sans, sans-serif" font-size="25.0" textLength="25.33" lengthAdjust="spacingAndGlyphs">30</text><line x1="105.2" y1="681.4" x2="113.2" y2="681.4" stroke="#000" stroke-width="1.3"/><text x="68.6" y="689.0" font-family="Liberation Sans, sans-serif" font-size="25.0" textLength="24.9" lengthAdjust="spacingAndGlyphs">25</text>
<rect x="125.1" y="15.2" width="253.8" height="77.3" rx="2.5" fill="#fff" fill-opacity="0.8" stroke="#d3d3d3" stroke-width="1.5"/>
<rect x="153.7" y="30.6" width="7.2" height="7.2" rx="3.6" fill="#0000ff"/>
<rect x="153.7" y="65.6" width="7.2" height="7.2" rx="3.6" fill="#008000"/>
<text x="199.0" y="42.6" font-family="Liberation Sans, sans-serif" font-size="25.0" textLength="114.65" lengthAdjust="spacingAndGlyphs">Prediction</text>
<text x="197.4" y="77.0" font-family="Liberation Sans, sans-serif" font-size="25.0" textLength="98.44" lengthAdjust="spacingAndGlyphs">Sensors'</text><text x="303.8" y="77.2" font-family="Liberation Sans, sans-serif" font-size="25.0" textLength="63.29" lengthAdjust="spacingAndGlyphs">Mean</text>
<text x="582.6" y="849.8" font-family="Liberation Sans, sans-serif" font-size="39.11" textLength="54.44" lengthAdjust="spacingAndGlyphs">Set</text><text x="647.0" y="848.6" font-family="Liberation Sans, sans-serif" font-size="36.97" textLength="218.81" lengthAdjust="spacingAndGlyphs">Temperature</text><text x="891.8" y="849.2" font-family="Liberation Sans, sans-serif" font-size="35.82" stroke="#000" stroke-width="0.9" textLength="6.69" lengthAdjust="spacingAndGlyphs">(</text><text x="915.4" y="849.2" font-family="Liberation Sans, sans-serif" font-size="37.73" font-style="italic" textLength="22.92" lengthAdjust="spacingAndGlyphs">C</text><text x="943.0" y="849.2" font-family="Liberation Sans, sans-serif" font-size="35.82" stroke="#000" stroke-width="0.9" textLength="6.69" lengthAdjust="spacingAndGlyphs">)</text>
<ellipse cx="908.5" cy="824.9" rx="2.3" ry="3.5" fill="#aaa" stroke="#222" stroke-width="2.2"/><ellipse cx="8.4" cy="112.4" rx="3.6" ry="2.3" fill="#aaa" stroke="#222" stroke-width="2.2"/>
<g transform="matrix(0,-1,1,0,-100,700)"><text x="12.8" y="133.8" font-family="Liberation Sans, sans-serif" font-size="38.51" textLength="132.65" lengthAdjust="spacingAndGlyphs">Sensors</text><text x="156.4" y="133.6" font-family="Liberation Sans, sans-serif" font-size="36.89" textLength="157.5" lengthAdjust="spacingAndGlyphs">Recorded</text><text x="326.2" y="132.4" font-family="Liberation Sans, sans-serif" font-size="35.49" textLength="218.22" lengthAdjust="spacingAndGlyphs">Temperature</text><text x="570.8" y="132.8" font-family="Liberation Sans, sans-serif" font-size="34.41" stroke="#000" stroke-width="0.9" textLength="6.35" lengthAdjust="spacingAndGlyphs">(</text><text x="596.0" y="133.6" font-family="Liberation Sans, sans-serif" font-size="38.44" font-style="italic" textLength="21.66" lengthAdjust="spacingAndGlyphs">C</text><text x="622.6" y="132.8" font-family="Liberation Sans, sans-serif" font-size="34.41" stroke="#000" stroke-width="0.9" textLength="5.29" lengthAdjust="spacingAndGlyphs">)</text></g>
</g>
</svg></body></html>
